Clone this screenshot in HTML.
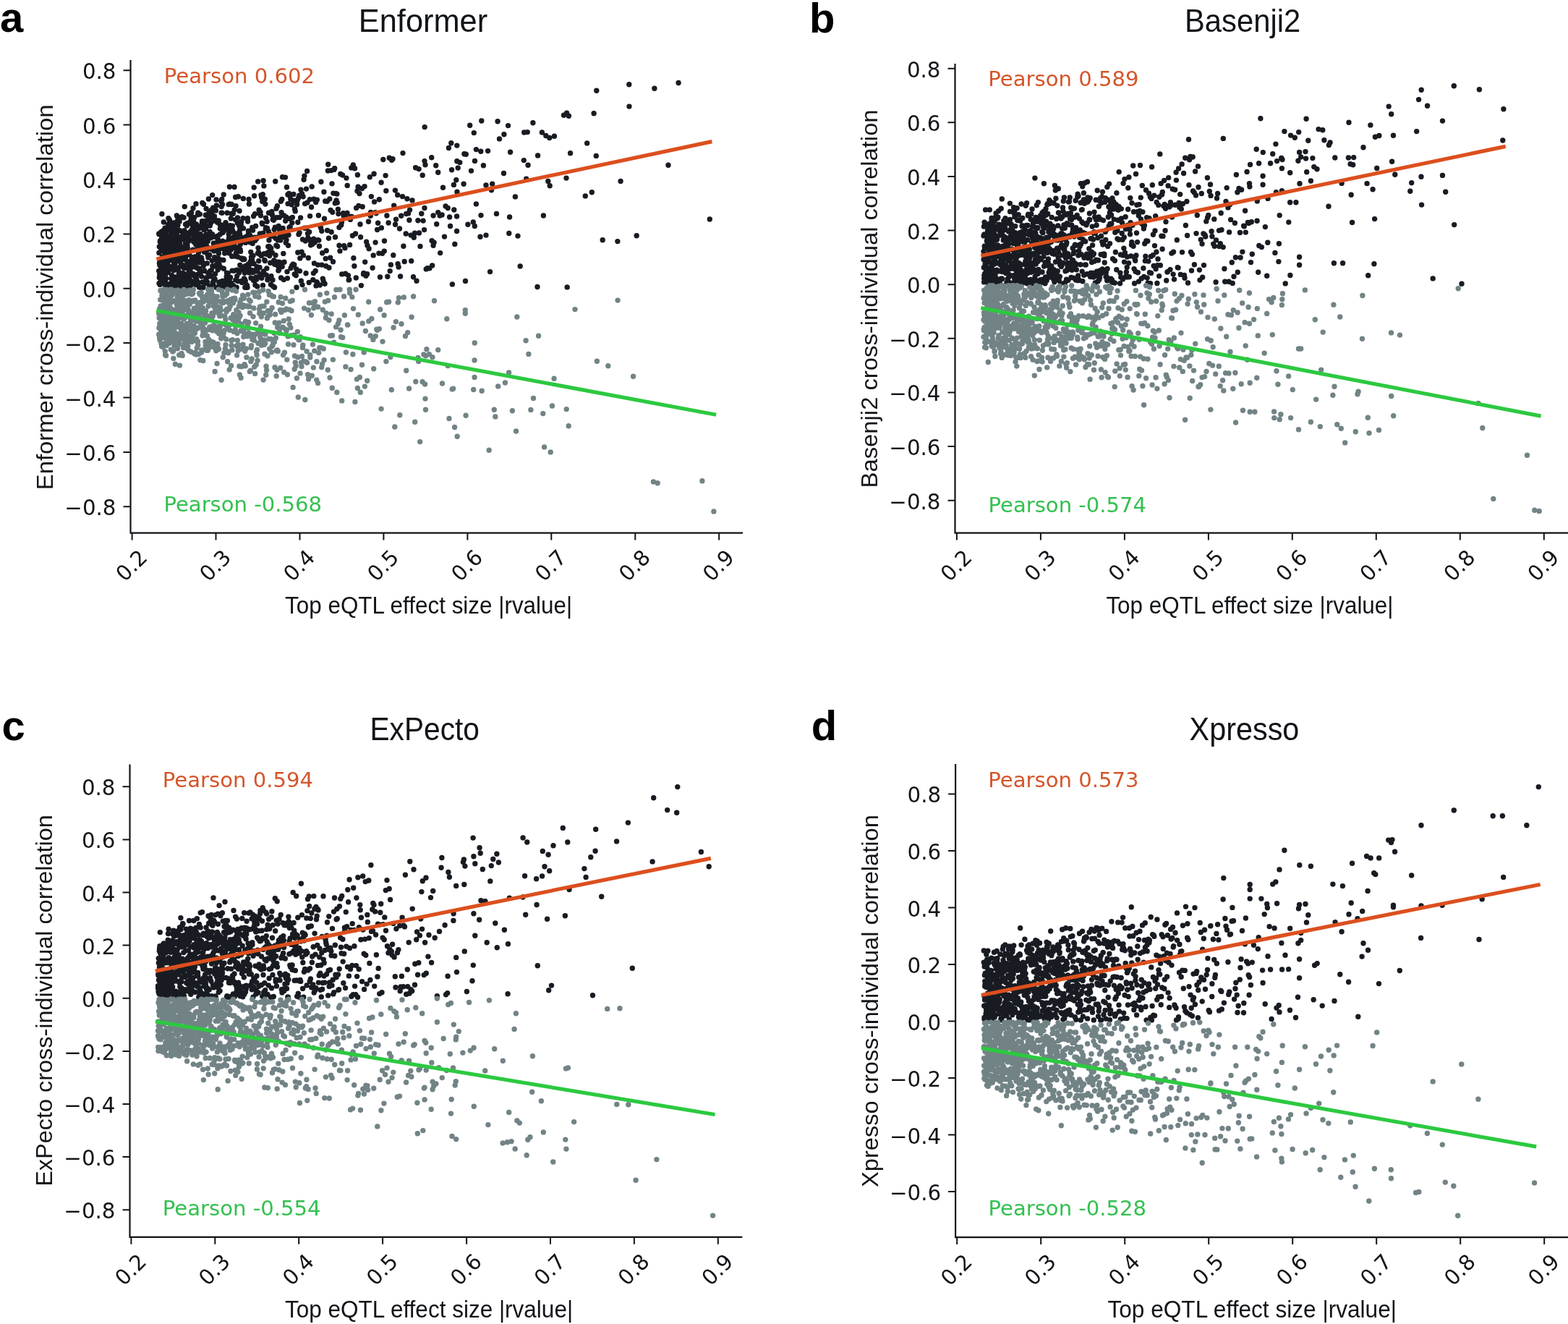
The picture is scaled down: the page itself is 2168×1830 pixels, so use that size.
<!DOCTYPE html><html><head><meta charset="utf-8"><title>eQTL cross-individual correlation</title><style>html,body{margin:0;padding:0;background:#fff;overflow:hidden}svg{display:block}.dv{font-family:"DejaVu Sans",sans-serif}.ls{font-family:"Liberation Sans",Arial,sans-serif}</style></head><body>
<svg width="2168" height="1830" viewBox="0 0 2168 1830">
<rect width="2168" height="1830" fill="#fff"/>
<g><path d="M340.1 374.0h0M281.7 374.4h0M228.9 384.1h0M581.0 340.4h0M284.3 297.3h0M315.8 343.9h0M589.2 371.9h0M232.1 337.1h0M368.9 370.9h0M262.4 386.5h0M502.8 377.4h0M315.5 317.1h0M299.8 337.9h0M364.1 249.8h0M294.2 390.4h0M231.5 334.4h0M441.5 340.2h0M240.0 353.6h0M239.8 318.4h0M414.8 356.9h0M223.3 360.2h0M408.4 379.0h0M521.6 317.5h0M230.9 369.9h0M481.5 380.6h0M450.2 357.4h0M328.9 355.1h0M395.3 335.6h0M477.6 378.3h0M241.1 347.7h0M362.8 278.4h0M498.0 310.0h0M283.0 392.0h0M271.0 338.3h0M284.5 315.9h0M313.5 377.2h0M254.9 396.6h0M298.4 290.9h0M256.8 351.8h0M275.8 331.2h0M337.6 385.0h0M326.1 284.8h0M539.2 374.6h0M331.6 323.5h0M385.6 373.1h0M541.6 221.2h0M369.6 315.5h0M250.3 364.4h0M303.8 358.8h0M534.9 298.0h0M498.6 327.7h0M409.7 372.0h0M449.7 278.0h0M375.0 381.8h0M258.9 338.4h0M306.2 285.6h0M257.1 354.5h0M338.6 386.4h0M291.1 397.2h0M255.8 322.3h0M400.0 314.4h0M292.7 298.9h0M386.0 362.2h0M378.3 304.3h0M269.8 315.3h0M274.1 390.9h0M335.2 369.5h0M455.8 274.9h0M273.5 296.7h0M364.9 256.9h0M265.8 332.1h0M243.3 323.0h0M282.8 314.1h0M439.8 331.6h0M325.6 272.5h0M247.4 375.9h0M250.5 367.0h0M389.6 368.1h0M254.0 348.6h0M254.1 300.7h0M251.8 320.6h0M246.6 335.5h0M274.4 335.9h0M288.4 275.0h0M236.8 313.5h0M321.0 374.1h0M299.6 365.5h0M221.8 392.6h0M324.4 354.0h0M227.3 334.6h0M309.6 319.0h0M249.2 386.8h0M243.0 355.9h0M326.8 328.8h0M303.1 365.2h0M236.7 392.7h0M387.2 366.1h0M356.7 250.9h0M229.0 323.6h0M277.6 314.9h0M326.3 349.9h0M268.6 300.6h0M431.2 257.9h0M297.5 327.4h0M416.0 262.3h0M238.7 397.2h0M226.8 368.2h0M312.3 396.5h0M500.7 260.5h0M384.3 331.9h0M425.9 328.7h0M316.2 323.4h0M244.3 323.5h0M272.4 370.3h0M233.2 360.5h0M327.7 381.6h0M317.0 333.3h0M288.3 304.0h0M409.3 380.8h0M294.7 287.1h0M561.8 295.5h0M426.3 356.5h0M251.9 388.5h0M314.3 333.9h0M570.0 276.9h0M229.9 384.9h0M396.5 258.7h0M285.2 338.9h0M263.3 369.0h0M248.7 318.7h0M287.9 355.9h0M284.6 315.1h0M231.9 363.0h0M274.1 334.3h0M388.6 384.0h0M249.1 378.1h0M527.4 314.9h0M289.5 395.4h0M460.9 267.1h0M270.1 354.6h0M272.6 334.5h0M225.5 355.9h0M238.9 346.0h0M229.6 345.7h0M375.4 326.0h0M438.4 276.1h0M232.9 301.8h0M228.6 316.2h0M337.0 334.1h0M262.6 306.6h0M239.5 307.9h0M220.4 363.7h0M235.4 368.8h0M270.8 393.5h0M587.2 175.6h0M308.9 359.5h0M261.5 296.3h0M302.8 339.0h0M546.6 310.3h0M352.9 393.9h0M359.0 369.6h0M348.8 314.4h0M296.3 305.0h0M236.0 308.8h0M280.5 341.3h0M403.2 282.8h0M358.8 351.2h0M402.6 317.6h0M408.2 291.9h0M302.7 390.3h0M231.8 332.8h0M228.5 333.7h0M458.2 320.8h0M221.6 332.8h0M382.5 300.8h0M293.3 360.2h0M400.8 271.0h0M262.2 368.8h0M291.6 307.9h0M320.2 282.5h0M353.6 312.4h0M517.6 278.9h0M249.4 329.8h0M449.1 392.3h0M576.0 388.2h0M509.5 306.3h0M453.4 236.0h0M413.7 270.3h0M220.9 374.8h0M374.7 342.9h0M286.8 304.5h0M329.4 271.8h0M520.1 294.8h0M280.8 326.3h0M231.6 345.7h0M233.6 354.8h0M330.5 376.9h0M421.6 281.6h0M461.9 234.4h0M322.6 394.7h0M328.5 300.9h0M307.7 388.4h0M377.0 386.9h0M487.4 325.8h0M543.0 219.8h0M540.4 365.9h0M246.3 371.8h0M236.2 371.3h0M241.6 370.1h0M222.6 321.0h0M245.4 299.5h0M335.3 328.7h0M466.3 280.1h0M224.9 342.1h0M465.9 268.1h0M436.7 279.6h0M556.5 271.6h0M257.9 397.2h0M236.4 397.1h0M357.0 342.8h0M247.8 379.2h0M288.9 343.3h0M419.1 271.8h0M546.4 263.1h0M273.6 393.2h0M239.2 348.8h0M379.2 317.3h0M265.2 309.9h0M229.4 319.6h0M346.8 348.5h0M344.0 275.5h0M252.7 349.4h0M237.4 390.3h0M429.6 338.8h0M313.0 388.8h0M460.5 361.8h0M382.9 362.2h0M564.5 294.9h0M232.4 392.6h0M243.2 345.3h0M286.3 363.9h0M351.0 364.5h0M317.4 282.0h0M365.3 350.7h0M280.3 363.2h0M276.0 345.7h0M226.3 307.0h0M373.9 324.6h0M282.5 348.3h0M240.4 394.4h0M224.0 365.6h0M304.1 324.0h0M455.0 370.0h0M366.3 275.3h0M381.2 329.6h0M275.8 373.5h0M252.9 366.6h0M522.6 308.3h0M279.8 280.5h0M407.2 379.0h0M328.8 388.5h0M506.0 381.2h0M331.4 318.6h0M314.1 294.2h0M287.5 343.7h0M504.7 362.1h0M406.3 277.2h0M242.3 328.7h0M529.8 220.5h0M365.8 359.4h0M325.7 387.1h0M259.6 379.9h0M348.7 359.8h0M329.9 343.6h0M380.4 314.1h0M327.8 348.2h0M271.6 385.0h0M277.9 327.6h0M373.1 323.7h0M238.0 327.6h0M295.3 336.3h0M510.1 343.8h0M317.4 258.2h0M263.0 375.3h0M219.7 374.4h0M582.8 295.3h0M301.1 330.3h0M305.4 369.6h0M240.8 315.4h0M239.0 389.5h0M222.1 368.0h0M245.7 309.3h0M265.3 319.4h0M279.5 305.8h0M362.2 308.1h0M339.1 367.6h0M248.1 306.2h0M351.9 328.2h0M318.2 311.7h0M495.9 284.5h0M268.8 359.0h0M349.2 336.6h0M302.0 335.0h0M457.9 235.6h0M270.4 323.9h0M285.8 340.1h0M561.2 323.0h0M410.0 397.2h0M332.4 337.8h0M254.9 318.8h0M244.6 383.6h0M428.6 298.6h0M221.2 393.4h0M266.4 330.4h0M325.4 303.6h0M281.5 282.2h0M368.6 351.2h0M436.2 374.4h0M243.7 340.1h0M472.7 378.9h0M263.6 319.9h0M269.6 363.4h0M260.0 380.0h0M252.6 394.9h0M265.7 316.6h0M305.2 395.1h0M313.8 396.7h0M228.1 335.2h0M571.5 382.7h0M341.9 370.4h0M224.6 324.5h0M245.1 350.1h0M242.8 390.5h0M310.1 344.4h0M230.6 335.7h0M256.1 352.8h0M383.4 284.7h0M220.3 341.0h0M397.4 384.6h0M322.9 327.8h0M248.3 339.0h0M289.3 378.0h0M248.7 344.0h0M301.6 336.6h0M475.1 298.0h0M367.3 315.9h0M325.0 322.4h0M222.8 373.5h0M286.5 389.8h0M219.7 323.4h0M544.7 284.1h0M285.1 288.4h0M404.4 300.4h0M357.5 348.7h0M291.1 291.8h0M275.3 371.2h0M317.9 384.9h0M268.3 367.4h0M273.3 323.8h0M277.1 340.6h0M330.8 312.6h0M333.7 356.9h0M221.0 390.7h0M339.9 374.8h0M550.1 364.7h0M258.6 328.9h0M275.0 315.7h0M392.7 297.9h0M378.0 326.5h0M394.5 245.1h0M339.5 335.4h0M279.1 340.7h0M366.9 282.1h0M252.2 377.8h0M489.9 367.8h0M244.0 358.9h0M254.3 370.5h0M219.9 349.4h0M349.9 353.4h0M260.2 380.1h0M573.5 322.2h0M253.1 322.1h0M246.4 397.2h0M401.1 313.5h0M222.0 374.0h0M226.7 375.4h0M434.0 275.2h0M314.6 342.2h0M265.5 355.5h0M235.1 396.8h0M282.1 317.8h0M344.1 367.3h0M332.6 347.4h0M417.5 267.6h0M322.3 295.3h0M267.9 368.3h0M230.1 397.2h0M306.7 275.4h0M253.7 367.2h0M341.6 395.5h0M221.3 334.3h0M249.7 395.9h0M355.3 368.8h0M373.2 346.2h0M227.8 349.9h0M379.7 365.3h0M223.6 340.1h0M304.8 389.4h0M235.0 396.8h0M237.5 380.6h0M452.3 278.3h0M261.2 374.1h0M438.7 390.8h0M235.3 332.2h0M333.3 310.9h0M457.1 290.5h0M280.7 336.3h0M337.3 357.7h0M396.0 331.7h0M456.7 356.3h0M219.8 322.9h0M488.3 227.9h0M386.7 318.1h0M397.0 375.6h0M326.5 332.7h0M308.0 321.6h0M439.6 366.1h0M333.0 373.1h0M392.3 386.6h0M294.4 300.9h0M549.7 269.4h0M323.1 397.2h0M398.5 339.2h0M278.3 355.9h0M220.3 383.8h0M405.9 268.4h0M433.7 330.1h0M231.1 349.1h0M301.1 373.0h0M363.5 394.4h0M361.8 384.2h0M304.4 316.1h0M234.9 358.3h0M225.1 340.2h0M347.9 373.4h0M233.3 349.0h0M248.4 336.5h0M359.4 323.0h0M376.5 297.2h0M525.5 383.0h0M257.0 309.9h0M329.1 330.4h0M390.5 244.8h0M239.4 318.8h0M368.3 380.3h0M227.4 337.3h0M328.2 308.3h0M246.8 317.6h0M486.3 299.4h0M238.6 341.7h0M235.6 347.8h0M243.5 371.7h0M331.8 366.5h0M253.3 384.2h0M314.8 344.3h0M259.0 322.3h0M411.8 349.0h0M519.1 335.1h0M255.1 354.3h0M290.0 298.7h0M309.3 371.2h0M527.1 252.3h0M263.5 388.7h0M471.8 310.9h0M418.0 393.6h0M234.4 303.9h0M291.5 328.7h0M224.3 355.0h0M377.6 395.8h0M283.2 306.8h0M228.1 315.2h0M299.4 283.9h0M319.1 345.2h0M327.4 373.2h0M257.6 345.5h0M250.7 328.1h0M228.3 394.1h0M566.6 290.3h0M257.7 395.4h0M345.0 365.6h0M286.0 297.6h0M223.5 344.2h0M425.5 322.7h0M319.3 302.0h0M336.0 301.7h0M232.2 359.5h0M358.3 295.1h0M312.7 391.5h0M224.1 380.7h0M506.7 334.2h0M244.2 372.4h0M236.6 336.0h0M245.0 305.6h0M237.4 308.6h0M253.5 331.1h0M360.0 293.1h0M397.9 269.0h0M237.1 334.2h0M229.7 316.3h0M263.9 308.7h0M477.0 342.8h0M251.4 358.4h0M267.0 300.3h0M482.2 386.9h0M341.4 394.2h0M586.6 317.6h0M440.8 332.1h0M290.3 312.1h0M462.7 232.7h0M255.8 342.0h0M437.8 389.6h0M494.4 241.8h0M293.8 367.8h0M354.2 372.4h0M223.3 357.6h0M445.0 366.1h0M234.7 369.9h0M414.1 321.6h0M227.7 356.0h0M250.7 352.5h0M513.4 271.6h0M395.6 300.0h0M223.9 295.8h0M295.1 288.5h0M269.3 367.3h0M232.7 343.9h0M231.1 351.5h0M324.9 331.4h0M300.7 345.6h0M394.7 305.2h0M269.4 335.4h0M424.6 236.5h0M289.7 352.5h0M342.1 397.2h0M434.5 363.9h0M554.7 298.2h0M226.1 347.3h0M423.5 261.1h0M345.6 325.1h0M261.4 384.3h0M469.0 339.3h0M273.8 294.3h0M258.7 308.8h0M463.5 327.8h0M451.2 346.5h0M286.5 344.9h0M437.0 394.9h0M270.0 386.9h0M343.6 322.2h0M574.6 231.8h0M480.0 294.5h0M334.2 370.6h0M313.3 382.2h0M310.7 350.0h0M241.9 365.3h0M323.9 338.9h0M230.2 361.4h0M374.4 393.2h0M220.0 391.7h0M543.8 352.7h0M478.0 301.0h0M233.9 371.4h0M287.6 377.1h0M268.2 381.0h0M257.4 323.0h0M421.2 315.3h0M320.7 354.2h0M299.1 397.2h0M344.5 282.0h0M284.0 308.8h0M240.0 373.7h0M245.8 358.6h0M266.8 378.4h0M568.7 360.8h0M232.7 376.2h0M528.6 350.2h0M299.0 275.9h0M274.5 349.3h0M523.9 350.1h0M321.4 312.2h0M298.1 304.3h0M403.6 367.3h0M579.5 322.0h0M372.0 332.0h0M222.9 331.2h0M470.0 346.9h0M336.3 274.4h0M266.0 323.5h0M497.0 267.5h0M319.6 391.4h0M381.9 339.3h0M333.6 306.7h0M291.9 381.3h0M264.2 300.1h0M342.4 301.7h0M304.0 310.3h0M311.7 311.6h0M230.8 358.1h0M400.4 302.2h0M412.4 273.9h0M443.5 314.7h0M351.6 270.8h0M323.4 374.3h0M223.7 356.7h0M248.9 349.6h0M246.1 382.9h0M398.1 281.6h0M568.1 325.1h0M324.2 290.1h0M308.7 397.0h0M334.8 390.6h0M405.2 365.2h0M349.5 376.5h0M565.9 304.3h0M263.2 397.2h0M282.0 330.1h0M420.9 243.1h0M432.8 386.7h0M531.5 333.0h0M552.5 316.0h0M251.1 392.9h0M360.5 297.9h0M275.2 362.9h0M296.9 339.4h0M281.0 397.2h0M241.4 325.6h0M407.5 288.9h0M452.6 318.5h0M276.4 296.1h0M344.6 376.9h0M381.0 352.8h0M255.6 370.3h0M478.9 246.1h0M316.2 282.6h0M312.1 307.8h0M288.0 295.4h0M370.1 349.2h0M271.4 309.9h0M361.3 353.4h0M401.8 275.2h0M349.6 318.3h0M230.4 346.9h0M266.3 331.8h0M305.6 392.7h0M467.9 295.5h0M472.4 307.3h0M377.2 303.5h0M290.1 320.4h0M293.1 289.8h0M238.1 322.3h0M281.3 367.5h0M277.4 376.2h0M238.2 348.2h0M535.8 382.3h0M233.5 317.7h0M320.6 341.7h0M378.8 359.9h0M446.3 385.1h0M232.5 310.4h0M227.9 325.0h0M272.0 379.7h0M254.7 323.6h0M355.8 395.9h0M367.5 301.2h0M252.1 342.0h0M258.2 311.9h0M220.7 379.5h0M386.4 300.4h0M579.1 233.6h0M382.0 288.2h0M423.9 315.2h0M310.3 390.6h0M304.6 343.8h0M247.7 338.9h0M226.5 329.2h0M370.8 340.7h0M287.1 351.9h0M332.1 344.7h0M222.7 344.3h0M480.2 256.4h0M262.0 349.2h0M345.2 374.1h0M221.7 367.8h0M369.2 306.2h0M234.6 326.0h0M422.3 333.1h0M246.9 327.5h0M358.1 290.1h0M507.6 378.8h0M319.9 320.0h0M272.8 354.7h0M221.2 360.7h0M389.1 293.6h0M305.9 278.4h0M227.1 382.4h0M465.1 277.0h0M335.6 358.7h0M254.5 378.1h0M333.9 389.7h0M354.0 383.0h0M492.3 384.0h0M366.4 360.6h0M251.1 300.6h0M347.0 384.3h0M226.9 334.3h0M372.4 340.8h0M454.5 329.3h0M475.7 339.7h0M287.2 333.5h0M431.1 331.4h0M260.4 325.8h0M502.5 378.9h0M242.6 331.5h0M562.9 274.7h0M420.1 248.2h0M492.6 287.4h0M256.7 359.1h0M447.1 388.1h0M361.7 273.0h0M354.8 385.9h0M339.3 388.4h0M384.9 374.0h0M279.0 358.9h0M276.7 323.5h0M228.7 360.5h0M277.7 337.1h0M459.7 293.3h0M225.4 387.7h0M301.3 356.4h0M387.9 332.0h0M391.2 315.5h0M431.9 337.5h0M300.1 326.4h0M512.6 293.4h0M511.3 244.8h0M352.7 332.4h0M399.0 324.8h0M444.8 319.2h0M238.3 360.1h0M285.5 323.9h0M343.0 365.4h0M300.3 367.4h0M263.8 360.5h0M278.4 338.9h0M256.5 310.1h0M384.2 367.5h0M225.6 344.7h0M241.0 353.8h0M220.8 366.2h0M307.5 282.4h0M336.9 332.7h0M247.2 388.4h0M350.6 298.8h0M585.1 305.1h0M244.4 297.9h0M405.1 365.3h0M389.8 275.4h0M363.8 322.3h0M353.2 374.9h0M271.0 281.8h0M443.9 251.3h0M222.4 364.6h0M272.6 344.8h0M435.2 335.0h0M387.4 326.9h0M273.0 389.2h0M364.4 375.0h0M367.7 314.6h0M229.9 333.8h0M283.6 305.5h0M360.2 382.1h0M338.8 397.2h0M515.1 370.3h0M251.2 345.9h0M233.7 372.1h0M373.7 363.2h0M300.5 307.2h0M255.3 285.6h0M317.9 393.4h0M336.5 315.6h0M430.6 286.2h0M402.0 370.6h0M242.9 383.0h0M281.9 335.3h0M283.8 310.5h0M253.3 355.8h0M227.2 317.4h0M474.6 294.6h0M267.8 334.2h0M485.0 299.4h0M365.2 377.9h0M241.3 308.6h0M264.1 304.4h0M292.3 373.6h0M343.4 319.2h0M321.6 318.5h0M245.5 360.5h0M577.9 304.7h0M340.8 397.2h0M419.5 352.9h0M318.6 383.4h0M279.3 308.7h0M233.0 339.6h0M369.9 386.8h0M346.4 364.1h0M321.3 330.5h0M239.7 337.0h0M371.2 319.8h0M584.2 242.2h0M267.0 287.7h0M547.6 303.3h0M244.9 360.9h0M323.6 342.9h0M442.3 394.0h0M427.2 390.5h0M342.6 306.0h0M292.9 293.5h0M329.7 373.9h0M290.5 382.1h0M225.2 333.4h0M538.3 218.2h0M267.5 392.4h0M331.1 291.5h0M259.1 362.9h0M269.0 390.6h0M448.5 302.3h0M327.1 397.2h0M302.2 304.9h0M499.4 394.6h0M533.8 263.7h0M230.6 318.9h0M393.8 323.7h0M359.8 379.3h0M375.8 292.5h0M306.1 294.1h0M315.3 388.1h0M234.2 308.2h0M256.2 337.0h0M303.5 333.6h0M337.9 358.6h0M256.3 386.0h0M302.4 350.2h0M222.2 324.7h0M352.0 388.1h0M467.4 289.3h0M266.7 345.2h0M447.9 265.3h0M275.5 397.0h0M296.0 346.9h0M315.2 377.7h0M347.3 359.4h0M293.7 269.6h0M297.6 378.6h0M271.3 357.4h0M453.7 227.3h0M264.6 293.6h0M261.9 389.9h0M238.5 385.4h0M484.4 303.4h0M225.7 354.9h0M295.5 388.0h0M226.1 332.3h0M470.8 240.5h0M303.2 391.0h0M491.6 323.0h0M428.4 275.6h0M355.4 328.3h0M351.2 259.1h0M372.7 353.6h0M363.3 268.8h0M416.3 388.2h0M557.0 211.6h0M553.6 382.0h0M347.5 355.3h0M427.7 320.6h0M433.4 377.6h0M320.0 295.3h0M316.5 328.9h0M469.0 314.3h0M258.4 384.2h0M297.1 385.6h0M295.8 339.0h0M385.2 312.4h0M224.6 319.4h0M357.7 360.7h0M225.8 331.0h0M264.5 369.5h0M318.9 397.1h0M379.6 397.2h0M361.0 269.8h0M267.2 368.7h0M442.6 311.7h0M345.9 362.2h0M324.1 258.5h0M260.8 331.6h0M459.0 253.9h0M234.0 356.0h0M236.3 319.8h0M235.8 346.1h0M393.9 328.1h0M310.6 310.3h0M282.7 374.3h0M308.4 391.9h0M251.6 299.8h0M296.7 355.7h0M411.8 307.2h0M488.9 356.7h0M253.9 329.6h0M241.7 359.1h0M414.5 374.6h0M411.1 277.2h0M531.3 347.1h0M240.5 365.0h0M425.0 280.0h0M264.8 367.5h0M234.2 328.9h0M296.5 299.0h0M276.2 356.5h0M260.5 328.8h0M309.2 269.0h0M450.7 367.7h0M298.7 335.7h0M252.5 325.9h0M463.3 280.7h0M267.6 305.1h0M512.3 298.3h0M249.5 368.1h0M262.8 321.4h0M508.0 339.2h0M501.2 285.7h0M298.6 359.1h0M391.4 363.0h0M406.8 365.9h0M312.0 388.0h0M242.5 389.1h0M380.7 250.8h0M350.4 387.5h0M524.3 275.7h0M229.1 391.4h0M338.3 377.3h0M249.9 368.0h0M237.7 328.6h0M311.5 342.1h0M518.9 293.7h0M413.0 323.9h0M272.2 337.2h0M371.5 294.2h0M235.7 343.7h0M240.2 321.1h0M418.5 330.9h0M390.2 368.5h0M291.9 292.2h0M346.1 334.9h0M240.6 352.5h0M261.1 367.6h0M348.3 317.5h0M268.9 331.1h0M247.1 360.1h0M330.2 341.6h0M557.9 340.3h0M307.2 391.8h0M485.8 231.9h0M340.6 370.1h0M223.1 370.9h0M278.1 325.3h0M415.6 300.9h0M334.6 388.1h0M362.7 309.4h0M313.2 383.5h0M259.9 330.5h0M288.7 327.0h0M270.5 327.7h0M260.7 333.2h0M297.9 338.7h0M354.7 330.0h0M504.1 257.6h0M306.6 397.2h0M393.0 362.3h0M289.1 377.1h0M242.0 336.0h0M231.3 327.6h0M292.5 344.8h0M464.5 267.5h0M572.3 328.3h0M551.1 369.0h0M440.4 297.7h0M279.8 389.9h0M483.6 338.4h0M224.8 369.5h0M316.9 349.9h0M250.0 354.2h0M277.1 312.8h0M244.7 370.2h0M226.4 339.9h0M224.4 376.7h0M482.9 386.6h0M356.0 375.1h0M423.0 377.8h0M293.5 323.7h0M537.1 308.0h0M290.7 374.5h0M429.4 333.3h0M445.7 349.8h0M559.2 361.5h0M261.7 347.9h0M284.8 385.0h0M399.5 267.4h0M285.5 383.8h0M322.0 331.6h0M311.0 348.7h0M280.0 339.3h0M417.1 348.3h0M309.7 314.5h0M388.3 278.2h0M259.3 342.4h0M494.0 264.0h0M517.1 240.2h0M370.5 383.6h0M276.7 397.2h0M278.7 382.1h0M247.9 395.5h0M410.6 282.6h0M376.3 349.3h0M257.8 390.3h0M243.9 339.8h0M516.2 352.9h0M356.4 350.1h0M242.2 319.3h0M311.3 310.2h0M246.0 311.1h0M391.8 350.4h0M473.6 242.0h0M259.7 352.2h0M229.2 378.4h0M340.4 327.0h0M274.7 357.9h0M250.1 383.9h0M403.8 307.9h0M490.5 232.8h0M247.4 377.2h0M383.7 340.5h0M265.0 378.2h0M271.9 321.7h0M307.9 333.2h0M306.9 294.2h0M237.0 385.2h0M533.1 242.6h0M352.5 295.6h0M222.3 373.8h0M294.7 392.8h0M283.4 326.7h0M495.1 258.3h0M295.8 368.0h0M938.1 114.5h0M869.8 116.7h0M904.9 122.2h0M824.8 125.2h0M870.0 147.1h0M821.1 156.7h0M779.5 159.3h0M783.6 156.3h0M786.4 160.3h0M665.8 167.0h0M688.1 167.8h0M649.7 173.2h0M702.6 173.6h0M736.9 169.8h0M655.3 183.6h0M696.9 185.7h0M690.5 191.9h0M724.7 183.0h0M729.3 182.6h0M749.4 183.0h0M754.8 187.5h0M759.8 190.5h0M766.5 188.3h0M811.7 197.9h0M623.8 197.7h0M631.8 201.1h0M620.4 204.5h0M658.4 206.6h0M664.8 209.2h0M674.6 208.6h0M705.6 210.2h0M641.9 212.8h0M644.3 213.2h0M788.6 211.8h0M743.6 215.0h0M824.3 215.4h0M587.0 222.6h0M588.0 227.7h0M596.7 217.8h0M602.7 228.7h0M605.7 238.3h0M631.8 222.8h0M635.8 224.6h0M656.5 222.4h0M668.4 228.7h0M724.3 221.6h0M730.1 228.3h0M924.0 228.3h0M624.6 234.7h0M633.2 232.1h0M651.5 236.1h0M696.5 239.5h0M630.8 248.8h0M627.4 255.4h0M641.1 254.2h0M612.5 259.2h0M672.0 256.0h0M680.7 254.2h0M679.5 262.8h0M727.7 247.2h0M757.8 250.4h0M760.2 256.8h0M783.0 246.1h0M858.1 250.4h0M632.0 265.2h0M712.4 271.9h0M809.3 270.9h0M818.3 265.8h0M658.4 281.9h0M587.0 287.5h0M616.1 284.9h0M619.2 287.5h0M627.8 290.0h0M605.7 293.6h0M608.1 298.0h0M611.1 297.0h0M599.1 298.0h0M621.6 300.0h0M631.6 299.0h0M665.0 297.6h0M686.5 295.4h0M704.6 300.0h0M751.4 298.0h0M981.3 303.0h0M603.7 309.7h0M622.6 312.5h0M646.9 310.3h0M654.3 307.0h0M656.3 312.5h0M631.6 319.5h0M614.5 327.1h0M664.0 327.3h0M672.0 325.1h0M703.8 322.5h0M716.0 326.1h0M833.2 331.8h0M853.9 333.6h0M880.2 325.7h0M597.1 332.8h0M600.1 335.2h0M599.1 339.2h0M628.8 337.4h0M608.7 349.6h0M591.0 370.7h0M594.0 370.7h0M597.7 366.9h0M677.6 375.6h0M719.2 367.9h0M625.4 392.9h0M643.5 388.4h0M743.0 396.5h0M784.2 396.9h0" stroke="#181c22" stroke-width="7.4" stroke-linecap="round" fill="none"/><path d="M361.4 437.8h0M302.5 482.5h0M340.4 482.0h0M369.4 439.8h0M235.4 428.5h0M220.6 466.1h0M255.6 451.5h0M236.6 418.1h0M480.9 449.1h0M273.5 471.9h0M302.2 400.3h0M299.2 428.5h0M229.6 491.5h0M259.0 471.3h0M329.2 476.5h0M300.3 409.9h0M475.6 409.8h0M259.2 435.8h0M373.4 435.1h0M370.3 429.4h0M242.9 404.8h0M295.0 473.3h0M301.5 424.6h0M223.3 460.0h0M262.1 401.2h0M269.7 415.0h0M373.8 429.6h0M246.9 447.4h0M272.0 453.9h0M265.3 437.1h0M381.4 467.2h0M229.1 442.0h0M407.4 492.0h0M453.7 415.4h0M285.7 484.0h0M240.9 457.4h0M234.7 412.0h0M235.6 434.4h0M283.1 457.5h0M226.9 400.3h0M295.7 449.1h0M257.1 453.7h0M467.4 447.5h0M280.2 417.6h0M402.3 463.7h0M271.7 443.5h0M275.6 428.0h0M285.1 435.9h0M343.4 453.0h0M525.7 427.8h0M295.6 412.9h0M234.5 421.4h0M313.8 427.1h0M473.7 466.5h0M383.4 484.0h0M512.2 463.9h0M248.7 468.9h0M289.3 417.9h0M291.6 416.5h0M247.3 475.8h0M561.7 512.3h0M257.6 476.1h0M333.1 522.3h0M418.8 476.9h0M223.6 478.7h0M228.7 459.0h0M277.3 421.2h0M455.0 442.4h0M237.6 403.2h0M319.2 439.5h0M254.0 428.6h0M359.8 466.2h0M246.0 461.7h0M292.2 400.3h0M459.5 463.8h0M439.7 424.3h0M239.0 462.1h0M253.6 479.1h0M264.1 486.2h0M240.6 471.3h0M329.7 443.9h0M544.1 452.7h0M269.7 442.7h0M239.9 431.7h0M219.9 432.2h0M393.5 487.2h0M254.4 440.8h0M283.3 410.4h0M259.8 478.6h0M221.2 470.3h0M380.0 507.8h0M272.2 481.1h0M313.1 430.7h0M266.4 453.6h0M272.6 424.7h0M493.4 524.1h0M366.9 462.1h0M464.6 451.9h0M519.3 464.6h0M224.9 466.2h0M301.0 475.4h0M354.5 486.1h0M362.4 423.2h0M273.1 473.0h0M545.8 590.0h0M286.1 456.2h0M266.6 468.7h0M259.6 464.8h0M321.5 469.8h0M374.9 468.6h0M320.9 483.9h0M225.6 447.6h0M338.8 483.5h0M439.6 529.6h0M284.8 412.1h0M350.7 466.5h0M310.9 437.3h0M323.0 458.3h0M356.9 474.5h0M242.3 503.3h0M276.9 497.6h0M258.1 458.9h0M330.9 506.2h0M226.0 422.7h0M239.4 442.7h0M309.0 465.8h0M472.7 553.9h0M431.3 519.3h0M313.7 405.9h0M289.1 480.8h0M406.1 463.3h0M415.3 465.8h0M287.8 400.3h0M276.2 452.3h0M392.7 514.5h0M231.0 432.7h0M288.5 400.6h0M245.5 481.7h0M461.7 473.3h0M323.6 400.3h0M221.4 446.7h0M400.3 427.9h0M243.3 439.6h0M334.0 448.0h0M451.2 433.0h0M222.0 401.4h0M560.5 464.5h0M261.4 452.6h0M296.5 450.5h0M359.5 423.9h0M371.6 468.5h0M260.8 484.5h0M494.4 536.5h0M382.2 519.8h0M253.7 407.4h0M263.1 453.7h0M337.3 412.2h0M252.5 421.0h0M336.8 465.5h0M547.4 444.6h0M258.4 453.0h0M251.8 417.8h0M261.1 414.7h0M246.4 414.1h0M233.4 468.5h0M364.2 432.8h0M241.8 465.1h0M292.6 402.5h0M346.2 416.2h0M305.8 460.4h0M449.3 417.1h0M236.8 417.3h0M227.2 431.3h0M282.8 435.0h0M252.8 434.8h0M238.3 435.4h0M485.1 510.6h0M233.7 443.5h0M348.2 495.9h0M350.9 425.9h0M278.1 445.8h0M290.9 451.6h0M270.9 469.4h0M231.1 450.8h0M578.0 494.5h0M325.1 414.1h0M335.3 424.7h0M356.1 498.3h0M235.2 453.2h0M258.8 406.2h0M409.2 505.8h0M231.5 411.2h0M263.3 444.4h0M223.5 432.3h0M527.1 565.1h0M422.6 500.0h0M424.1 485.6h0M250.1 424.0h0M471.5 465.8h0M321.2 401.1h0M376.0 478.7h0M531.1 435.8h0M322.5 418.8h0M403.9 403.1h0M260.5 435.5h0M221.7 414.2h0M227.9 463.3h0M304.6 416.8h0M442.4 407.2h0M309.3 460.1h0M239.8 495.4h0M224.2 414.8h0M260.7 470.1h0M395.8 427.0h0M329.2 484.8h0M431.9 418.6h0M294.5 408.4h0M267.0 470.2h0M329.9 431.8h0M497.4 521.5h0M251.7 467.9h0M261.3 484.7h0M236.3 426.4h0M462.5 410.7h0M232.3 415.1h0M284.6 429.8h0M345.6 432.8h0M401.9 452.9h0M464.9 400.4h0M363.6 400.7h0M259.4 429.0h0M297.1 513.5h0M550.3 417.9h0M266.2 415.7h0M233.9 448.9h0M279.3 450.0h0M240.4 470.4h0M248.3 437.2h0M298.4 415.7h0M287.3 415.5h0M410.4 522.7h0M278.4 442.8h0M319.6 505.4h0M372.7 482.1h0M238.5 450.5h0M361.4 477.3h0M420.6 426.1h0M232.9 470.4h0M249.2 466.5h0M220.2 439.5h0M356.6 456.6h0M325.3 455.8h0M261.5 464.5h0M226.4 400.3h0M236.2 483.1h0M274.2 453.3h0M358.3 403.2h0M270.3 427.1h0M316.6 427.2h0M271.2 490.1h0M251.0 488.5h0M263.7 471.4h0M401.2 416.6h0M346.4 512.2h0M240.1 415.8h0M411.9 493.7h0M254.1 400.3h0M219.9 453.3h0M279.0 452.3h0M333.4 413.9h0M280.8 498.5h0M224.5 406.3h0M541.3 538.7h0M281.5 440.3h0M392.3 443.4h0M237.5 408.3h0M293.7 456.7h0M222.1 435.4h0M222.7 445.2h0M232.4 421.0h0M264.4 465.4h0M248.9 416.3h0M407.2 510.2h0M223.1 450.5h0M388.1 410.4h0M221.1 426.0h0M342.0 464.8h0M234.8 438.4h0M304.2 451.3h0M221.0 450.3h0M269.2 438.3h0M227.4 415.8h0M509.7 417.3h0M245.2 464.4h0M222.1 402.0h0M288.7 469.2h0M282.0 415.3h0M287.0 409.1h0M476.4 435.7h0M230.5 400.4h0M288.1 423.3h0M249.8 408.1h0M355.5 483.4h0M322.7 434.7h0M256.4 438.4h0M283.5 446.2h0M287.4 484.2h0M328.6 476.9h0M364.1 525.1h0M252.3 422.0h0M490.9 555.4h0M230.3 477.5h0M529.0 472.1h0M234.1 474.2h0M279.6 410.2h0M241.1 464.4h0M403.0 429.5h0M274.8 489.6h0M235.9 400.3h0M224.4 457.2h0M229.7 438.1h0M563.7 459.6h0M311.9 441.8h0M386.5 458.7h0M480.5 449.0h0M288.3 441.7h0M284.1 457.7h0M290.1 437.2h0M270.4 487.2h0M243.2 439.6h0M286.3 464.3h0M225.4 446.8h0M223.0 475.0h0M300.7 478.0h0M280.0 463.8h0M312.0 476.6h0M227.6 455.9h0M300.1 502.5h0M307.2 464.2h0M380.2 446.0h0M251.6 436.9h0M334.7 482.0h0M317.8 417.3h0M335.1 421.4h0M507.7 526.3h0M318.7 420.4h0M237.2 441.8h0M411.3 458.4h0M330.3 423.5h0M226.8 475.1h0M322.2 412.7h0M367.7 518.3h0M276.5 445.3h0M362.2 460.9h0M414.1 469.8h0M246.6 446.7h0M237.8 468.3h0M264.9 450.0h0M456.1 522.0h0M332.9 457.3h0M437.9 499.7h0M450.4 439.3h0M370.9 436.6h0M274.6 418.5h0M387.7 508.4h0M249.1 428.7h0M440.7 487.6h0M281.7 454.1h0M253.3 418.4h0M268.9 451.7h0M246.1 400.9h0M378.9 460.3h0M229.3 421.5h0M298.8 484.7h0M277.5 446.6h0M386.1 460.3h0M295.3 423.1h0M539.9 493.6h0M385.8 446.1h0M232.7 416.5h0M504.4 534.1h0M589.9 482.7h0M308.8 416.0h0M247.0 437.1h0M255.3 457.8h0M338.7 485.2h0M377.0 477.5h0M294.1 452.9h0M332.5 482.6h0M421.8 552.5h0M237.0 400.3h0M254.8 474.6h0M471.1 456.0h0M585.9 489.9h0M242.1 443.3h0M270.6 438.9h0M262.8 435.9h0M396.8 497.1h0M396.1 457.2h0M339.2 505.9h0M276.8 407.2h0M307.6 405.4h0M385.2 417.7h0M227.5 421.5h0M244.2 438.8h0M384.3 485.4h0M285.4 481.8h0M552.8 573.7h0M382.1 484.8h0M241.3 447.4h0M453.3 511.3h0M243.4 471.8h0M238.1 469.8h0M343.6 445.5h0M477.9 506.9h0M248.5 505.1h0M228.5 452.3h0M240.5 447.5h0M332.1 436.1h0M551.5 411.6h0M306.4 436.1h0M235.3 472.9h0M226.1 407.0h0M311.4 482.0h0M372.4 407.4h0M242.2 401.8h0M326.9 478.1h0M307.1 418.2h0M376.8 409.6h0M243.5 442.4h0M298.3 451.6h0M260.1 422.0h0M282.6 442.1h0M289.6 452.3h0M241.5 416.2h0M268.2 426.2h0M299.8 458.2h0M291.4 405.9h0M391.5 490.7h0M239.6 485.2h0M289.8 478.4h0M351.7 507.0h0M240.2 441.8h0M580.7 610.6h0M324.7 412.2h0M292.0 406.8h0M325.5 449.6h0M326.8 428.6h0M225.8 445.5h0M255.5 403.1h0M280.7 458.3h0M505.4 457.5h0M555.0 447.8h0M584.1 527.7h0M317.2 510.9h0M321.8 442.0h0M310.7 416.9h0M257.3 416.6h0M278.9 483.9h0M379.3 473.0h0M357.8 410.8h0M352.1 404.5h0M242.5 448.1h0M323.9 436.1h0M317.6 456.2h0M247.5 424.9h0M263.5 440.9h0M280.5 425.6h0M362.9 475.2h0M220.8 468.4h0M230.8 444.6h0M228.3 485.6h0M220.8 447.1h0M324.4 443.9h0M509.8 443.9h0M272.9 437.4h0M228.6 490.4h0M277.2 422.4h0M524.4 454.6h0M323.3 400.3h0M415.0 515.9h0M256.6 453.7h0M417.6 492.5h0M255.0 451.0h0M257.7 426.7h0M537.6 417.2h0M399.2 440.9h0M350.1 437.6h0M391.0 452.1h0M347.5 477.8h0M265.7 431.5h0M219.7 462.2h0M250.5 466.0h0M315.3 452.2h0M243.8 451.9h0M588.5 566.3h0M284.4 482.6h0M231.3 469.5h0M231.8 427.3h0M278.2 404.5h0M483.6 405.1h0M398.2 464.9h0M286.6 407.3h0M231.7 453.4h0M318.8 414.0h0M234.4 465.0h0M465.8 542.2h0M262.2 420.5h0M365.6 476.2h0M459.3 536.2h0M258.0 447.5h0M247.3 473.7h0M347.2 480.5h0M309.7 447.7h0M305.1 416.9h0M435.4 416.7h0M301.7 451.8h0M483.3 400.3h0M500.5 504.2h0M245.5 471.9h0M336.0 476.3h0M262.6 432.2h0M311.3 408.2h0M225.9 444.2h0M288.9 475.5h0M273.2 419.4h0M293.2 472.4h0M417.0 506.5h0M521.6 456.2h0M244.9 422.0h0M325.9 443.7h0M451.8 405.1h0M390.1 452.6h0M227.9 432.9h0M394.8 412.3h0M299.3 454.5h0M235.9 462.4h0M337.7 460.4h0M234.2 451.8h0M578.7 499.5h0M342.6 423.7h0M238.0 405.8h0M495.3 435.0h0M426.6 523.9h0M375.3 486.7h0M340.9 493.9h0M252.2 491.4h0M283.9 472.4h0M232.0 409.5h0M296.3 421.0h0M259.9 472.0h0M226.7 424.9h0M349.9 404.1h0M314.3 400.3h0M342.9 407.1h0M274.4 444.6h0M306.6 401.7h0M297.7 427.9h0M340.1 423.1h0M353.7 446.6h0M239.3 431.7h0M271.0 434.1h0M260.3 428.2h0M368.8 417.1h0M306.1 525.3h0M314.6 499.8h0M308.6 418.6h0M366.8 474.6h0M498.3 542.3h0M273.7 477.2h0M293.5 413.3h0M366.0 489.2h0M250.3 428.7h0M226.5 475.3h0M318.2 423.4h0M250.9 422.9h0M291.1 441.3h0M296.8 431.7h0M263.4 433.3h0M433.7 425.7h0M304.6 425.3h0M281.0 453.4h0M352.8 409.6h0M255.2 461.6h0M264.4 434.4h0M269.0 488.9h0M230.0 432.9h0M358.6 427.4h0M268.6 453.7h0M352.6 516.4h0M316.0 418.3h0M275.3 438.0h0M232.1 456.6h0M271.4 454.9h0M221.7 452.4h0M389.0 431.4h0M360.5 451.2h0M294.7 451.2h0M565.6 537.0h0M228.4 434.0h0M268.6 442.4h0M228.9 467.8h0M327.3 438.0h0M327.9 460.8h0M326.5 402.6h0M233.2 412.9h0M229.1 440.6h0M297.3 423.0h0M228.0 413.0h0M338.1 503.8h0M406.0 476.7h0M331.8 418.1h0M292.8 432.9h0M305.2 428.9h0M239.2 471.6h0M247.9 462.4h0M230.4 428.2h0M447.3 482.0h0M232.9 471.0h0M458.2 433.9h0M229.5 433.3h0M468.9 442.8h0M348.5 466.2h0M390.5 419.2h0M247.9 433.1h0M275.5 405.4h0M341.2 453.1h0M383.7 452.4h0M222.6 454.3h0M571.6 409.7h0M425.6 517.8h0M316.4 485.9h0M569.1 438.3h0M267.6 416.2h0M573.7 583.2h0M492.0 400.3h0M389.5 428.6h0M245.1 410.0h0M327.6 490.9h0M320.1 477.5h0M341.6 422.6h0M223.8 461.3h0M400.3 448.1h0M241.1 477.9h0M360.8 471.4h0M292.4 440.7h0M261.7 437.0h0M244.3 420.4h0M268.2 450.1h0M434.8 484.9h0M387.5 428.4h0M222.5 458.1h0M231.5 460.3h0M262.4 456.3h0M221.5 427.7h0M410.1 466.5h0M371.1 402.4h0M345.0 423.7h0M256.4 420.3h0M230.1 412.0h0M250.6 446.9h0M365.1 423.1h0M303.9 436.9h0M416.4 501.3h0M344.1 460.3h0M284.2 478.0h0M312.7 468.9h0M404.3 415.2h0M219.7 433.0h0M342.3 448.1h0M319.9 470.4h0M222.8 438.4h0M233.5 448.6h0M353.3 462.0h0M264.8 406.9h0M309.9 487.7h0M233.3 474.2h0M503.2 487.0h0M265.1 472.5h0M307.9 409.5h0M428.8 494.1h0M331.4 518.0h0M328.3 470.5h0M238.9 402.7h0M308.3 493.8h0M266.7 405.5h0M278.6 487.0h0M226.3 443.5h0M249.5 418.2h0M345.3 513.5h0M242.7 466.9h0M427.5 418.7h0M249.5 460.6h0M225.4 412.6h0M276.2 422.7h0M448.1 497.8h0M501.2 446.9h0M335.6 408.1h0M558.4 410.9h0M264.0 454.0h0M225.1 479.8h0M432.4 476.1h0M258.5 481.7h0M261.9 466.2h0M320.3 415.0h0M222.3 422.9h0M534.7 417.7h0M286.9 407.9h0M426.4 428.5h0M248.1 451.2h0M317.0 449.3h0M413.0 469.7h0M487.9 489.7h0M574.8 527.5h0M368.6 511.8h0M424.5 501.3h0M246.2 427.2h0M220.0 434.2h0M445.5 503.1h0M244.1 405.2h0M256.0 469.8h0M290.5 455.6h0M346.9 499.4h0M241.8 428.1h0M296.0 480.1h0M421.5 400.3h0M334.1 506.7h0M230.7 404.0h0M405.1 535.4h0M275.0 421.4h0M265.9 459.0h0M376.1 425.4h0M275.9 433.5h0M232.5 429.0h0M303.2 435.5h0M446.3 428.2h0M247.7 490.7h0M246.7 431.7h0M225.2 422.3h0M348.9 469.2h0M256.8 464.1h0M253.5 480.5h0M223.4 461.3h0M299.7 477.5h0M242.8 469.7h0M250.0 454.6h0M238.6 469.0h0M285.6 484.2h0M520.8 455.3h0M270.0 429.1h0M237.8 446.4h0M301.3 423.9h0M273.9 432.8h0M229.8 430.1h0M297.9 418.9h0M279.7 415.6h0M241.7 433.1h0M488.5 426.6h0M313.1 449.7h0M408.3 501.0h0M330.8 438.6h0M312.3 428.9h0M224.3 435.8h0M397.4 517.8h0M355.1 490.8h0M255.7 438.2h0M244.5 436.3h0M252.9 404.6h0M315.1 415.6h0M267.7 468.6h0M227.2 450.5h0M374.4 407.7h0M428.8 490.6h0M515.9 469.4h0M252.0 422.0h0M357.2 459.5h0M412.3 549.0h0M344.5 414.6h0M236.6 439.8h0M303.1 432.7h0M470.0 400.3h0M460.4 497.1h0M456.7 464.0h0M305.7 467.8h0M223.9 408.5h0M378.4 409.9h0M398.5 475.7h0M302.6 461.1h0M257.9 402.2h0M349.4 462.2h0M377.8 473.1h0M478.4 486.9h0M441.7 480.8h0M224.7 409.1h0M368.0 506.3h0M254.6 407.6h0M281.3 417.1h0M337.4 454.2h0M256.1 468.8h0M444.7 507.6h0M220.5 427.5h0M418.5 480.6h0M253.0 428.3h0M254.3 415.0h0M310.4 456.7h0M235.0 401.5h0M265.5 416.8h0M364.9 470.0h0M244.7 437.0h0M250.8 438.7h0M272.5 439.0h0M282.2 462.5h0M265.8 436.0h0M339.5 444.3h0M274.1 436.7h0M237.1 456.3h0M516.7 509.7h0M282.3 431.5h0M235.6 428.6h0M443.8 480.8h0M486.9 410.6h0M437.7 525.1h0M314.9 400.3h0M290.7 404.9h0M358.8 433.2h0M245.1 461.8h0M533.9 499.6h0M238.8 486.1h0M303.6 456.3h0M236.4 435.7h0M394.9 455.1h0M277.8 447.3h0M224.8 431.1h0M267.2 470.8h0M271.8 468.6h0M259.1 482.2h0M251.2 403.7h0M224.0 443.8h0M267.9 461.7h0M257.0 473.3h0M394.2 428.6h0M248.8 428.4h0M369.9 491.9h0M382.9 511.2h0M315.7 487.7h0M267.4 400.3h0M269.4 460.6h0M336.4 421.8h0M354.2 504.2h0M513.9 440.5h0M251.3 409.9h0M419.7 499.3h0M233.8 458.9h0M220.4 431.2h0M433.4 508.1h0M243.7 438.8h0M430.4 435.5h0M436.6 423.8h0M245.8 441.6h0M380.7 434.5h0M351.5 470.6h0M294.3 436.9h0M600.5 415.7h0M854.1 415.1h0M795.0 427.6h0M643.3 428.6h0M643.3 433.2h0M617.8 440.8h0M714.8 438.0h0M744.6 464.3h0M727.1 470.8h0M656.3 474.0h0M605.7 483.6h0M588.6 491.7h0M593.4 489.6h0M597.9 493.7h0M730.9 489.4h0M656.1 497.9h0M825.4 499.3h0M840.8 505.7h0M619.2 505.5h0M703.6 515.0h0M875.6 520.2h0M656.1 521.4h0M766.1 523.2h0M587.6 531.0h0M611.5 530.0h0M698.5 529.0h0M688.7 533.9h0M625.2 537.9h0M626.6 537.3h0M654.7 538.5h0M666.2 540.3h0M737.5 550.5h0M588.0 551.1h0M763.5 561.0h0M683.3 566.2h0M708.4 567.8h0M733.9 566.4h0M783.2 565.6h0M750.8 571.6h0M621.0 578.5h0M644.1 574.3h0M684.9 575.9h0M786.2 588.7h0M628.6 590.5h0M713.6 596.0h0M632.2 603.2h0M752.6 617.9h0M761.2 624.9h0M676.2 622.3h0M903.5 665.9h0M909.2 667.7h0M970.9 664.7h0M986.9 706.9h0" stroke="#728386" stroke-width="7.4" stroke-linecap="round" fill="none"/><line x1="216.3" y1="358.0" x2="984.4" y2="195.6" stroke="#dc4f1e" stroke-width="5.2"/><line x1="216.3" y1="429.3" x2="990.2" y2="573.2" stroke="#2cc940" stroke-width="5.2"/><path d="M180.5 84.0V736.6H1026.0" stroke="#111418" stroke-width="2.2" fill="none" stroke-linecap="square"/><path d="M180.5 97.2h-10M180.5 172.6h-10M180.5 248.0h-10M180.5 323.4h-10M180.5 398.8h-10M180.5 474.1h-10M180.5 549.5h-10M180.5 624.9h-10M180.5 700.3h-10M182.6 736.6v10M298.5 736.6v10M414.5 736.6v10M530.4 736.6v10M646.4 736.6v10M762.3 736.6v10M878.3 736.6v10M994.2 736.6v10" stroke="#111418" stroke-width="2" fill="none"/><text class="dv" x="160.5" y="109.2" font-size="29.3" text-anchor="end" fill="#111418">0.8</text><text class="dv" x="160.5" y="184.6" font-size="29.3" text-anchor="end" fill="#111418">0.6</text><text class="dv" x="160.5" y="260.0" font-size="29.3" text-anchor="end" fill="#111418">0.4</text><text class="dv" x="160.5" y="335.4" font-size="29.3" text-anchor="end" fill="#111418">0.2</text><text class="dv" x="160.5" y="410.8" font-size="29.3" text-anchor="end" fill="#111418">0.0</text><text class="dv" x="160.5" y="486.1" font-size="29.3" text-anchor="end" fill="#111418">−0.2</text><text class="dv" x="160.5" y="561.5" font-size="29.3" text-anchor="end" fill="#111418">−0.4</text><text class="dv" x="160.5" y="636.9" font-size="29.3" text-anchor="end" fill="#111418">−0.6</text><text class="dv" x="160.5" y="712.3" font-size="29.3" text-anchor="end" fill="#111418">−0.8</text><text class="dv" font-size="29.3" text-anchor="middle" fill="#111418" transform="translate(181.3 781.2) rotate(-45)" y="10.7">0.2</text><text class="dv" font-size="29.3" text-anchor="middle" fill="#111418" transform="translate(297.2 781.2) rotate(-45)" y="10.7">0.3</text><text class="dv" font-size="29.3" text-anchor="middle" fill="#111418" transform="translate(413.2 781.2) rotate(-45)" y="10.7">0.4</text><text class="dv" font-size="29.3" text-anchor="middle" fill="#111418" transform="translate(529.1 781.2) rotate(-45)" y="10.7">0.5</text><text class="dv" font-size="29.3" text-anchor="middle" fill="#111418" transform="translate(645.1 781.2) rotate(-45)" y="10.7">0.6</text><text class="dv" font-size="29.3" text-anchor="middle" fill="#111418" transform="translate(761.0 781.2) rotate(-45)" y="10.7">0.7</text><text class="dv" font-size="29.3" text-anchor="middle" fill="#111418" transform="translate(877.0 781.2) rotate(-45)" y="10.7">0.8</text><text class="dv" font-size="29.3" text-anchor="middle" fill="#111418" transform="translate(992.9 781.2) rotate(-45)" y="10.7">0.9</text><text class="dv" x="226.8" y="114.7" font-size="29.1" fill="#d4552a">Pearson 0.602</text><text class="dv" x="226.4" y="707.4" font-size="29.1" fill="#34c04f">Pearson -0.568</text><text class="ls" x="495.8" y="44.0" font-size="44.8" fill="#111418" textLength="178.4" lengthAdjust="spacingAndGlyphs">Enformer</text><text class="ls" font-size="30.5" fill="#111418" transform="translate(73.4 677.2) rotate(-90)" textLength="532.8" lengthAdjust="spacingAndGlyphs">Enformer cross-individual correlation</text><text class="ls" x="394.0" y="847.9" font-size="33.7" fill="#111418" textLength="397.2" lengthAdjust="spacingAndGlyphs">Top eQTL effect size |rvalue|</text><text class="ls" x="-0.1" y="44.3" font-size="58" font-weight="bold" fill="#000">a</text></g>
<g><path d="M1562.8 273.6h0M1366.7 343.9h0M1490.4 339.1h0M1506.2 303.4h0M1391.0 343.5h0M1633.3 288.9h0M1379.3 326.5h0M1423.3 344.5h0M1542.4 348.5h0M1396.7 330.4h0M1520.7 278.1h0M1495.9 306.8h0M1479.6 302.4h0M1425.5 376.3h0M1400.0 329.6h0M1599.9 391.5h0M1661.3 267.5h0M1365.9 311.7h0M1382.5 344.5h0M1555.4 349.2h0M1500.7 333.8h0M1374.4 340.2h0M1441.4 390.3h0M1413.0 312.5h0M1577.5 302.9h0M1445.4 383.0h0M1382.3 325.0h0M1466.0 331.3h0M1437.2 390.6h0M1557.4 375.9h0M1395.1 305.6h0M1588.5 267.3h0M1415.4 341.6h0M1395.4 370.7h0M1369.3 390.6h0M1512.2 322.4h0M1704.2 391.4h0M1441.0 376.0h0M1512.8 320.8h0M1375.1 324.7h0M1397.7 325.6h0M1404.3 385.9h0M1375.2 306.1h0M1435.8 372.4h0M1388.7 352.0h0M1711.3 376.3h0M1363.6 375.2h0M1491.1 270.8h0M1397.6 380.6h0M1384.8 360.6h0M1518.5 359.8h0M1475.9 371.5h0M1523.2 280.2h0M1550.3 288.6h0M1367.8 328.3h0M1373.7 336.5h0M1467.4 368.5h0M1545.0 330.0h0M1654.0 322.6h0M1497.3 330.9h0M1362.5 353.9h0M1403.5 297.6h0M1395.6 352.9h0M1388.4 340.7h0M1559.8 259.8h0M1508.0 329.8h0M1387.3 331.9h0M1401.6 286.8h0M1478.9 327.4h0M1362.0 387.3h0M1452.5 378.0h0M1543.8 372.8h0M1507.2 273.8h0M1681.5 331.9h0M1498.2 276.0h0M1438.5 340.0h0M1614.3 375.8h0M1562.6 323.8h0M1434.6 348.9h0M1436.3 356.2h0M1550.5 301.9h0M1408.2 296.8h0M1441.9 321.7h0M1518.2 375.1h0M1409.9 364.4h0M1508.8 380.1h0M1545.0 318.8h0M1371.1 304.1h0M1729.5 362.6h0M1452.4 311.8h0M1536.6 297.3h0M1586.2 384.1h0M1543.9 266.8h0M1547.2 237.6h0M1476.5 350.6h0M1415.2 326.2h0M1517.2 263.2h0M1381.1 343.2h0M1529.3 376.7h0M1478.1 325.9h0M1482.2 361.3h0M1411.3 350.6h0M1580.9 370.8h0M1525.1 336.3h0M1715.1 356.0h0M1374.1 329.9h0M1464.2 387.4h0M1547.0 285.5h0M1572.8 292.8h0M1383.1 386.7h0M1427.7 366.0h0M1414.0 385.8h0M1418.7 386.0h0M1417.6 376.0h0M1620.5 300.1h0M1403.3 299.6h0M1539.0 289.0h0M1455.1 350.6h0M1371.8 325.0h0M1386.6 352.6h0M1501.2 280.0h0M1629.1 370.1h0M1383.4 342.5h0M1475.3 373.7h0M1397.9 310.9h0M1414.8 327.7h0M1630.1 280.4h0M1425.4 375.4h0M1523.5 271.9h0M1407.3 373.0h0M1398.4 327.0h0M1390.4 371.7h0M1691.2 341.6h0M1589.5 376.8h0M1666.0 324.7h0M1445.6 331.3h0M1416.3 343.5h0M1400.6 322.2h0M1473.6 331.0h0M1400.6 366.2h0M1454.3 375.9h0M1410.7 305.2h0M1458.9 331.7h0M1524.9 338.1h0M1489.0 323.9h0M1553.1 253.4h0M1439.9 335.4h0M1370.0 373.6h0M1527.8 279.2h0M1641.6 325.5h0M1385.1 349.6h0M1409.7 367.0h0M1451.0 343.4h0M1426.3 352.4h0M1412.5 349.1h0M1389.7 352.4h0M1575.1 282.6h0M1477.0 387.2h0M1367.4 356.0h0M1493.1 340.6h0M1452.9 321.8h0M1456.2 382.1h0M1413.2 320.1h0M1431.6 352.2h0M1376.9 340.3h0M1396.5 303.4h0M1406.5 341.7h0M1471.9 342.2h0M1371.1 301.4h0M1499.0 356.2h0M1476.1 367.1h0M1674.1 270.4h0M1398.2 310.0h0M1360.1 358.8h0M1421.4 297.5h0M1393.9 350.8h0M1406.3 386.5h0M1467.0 322.7h0M1486.7 319.7h0M1397.5 317.0h0M1485.0 347.6h0M1403.0 291.1h0M1374.5 345.4h0M1499.8 276.2h0M1396.6 292.5h0M1470.0 292.2h0M1437.7 343.9h0M1626.4 249.1h0M1384.9 384.9h0M1426.2 373.9h0M1399.1 344.3h0M1571.9 283.3h0M1439.6 302.0h0M1474.2 338.1h0M1417.3 317.7h0M1384.2 288.2h0M1613.9 376.1h0M1607.3 265.4h0M1487.7 314.6h0M1568.6 391.7h0M1573.4 376.7h0M1366.5 362.5h0M1688.2 294.5h0M1619.9 350.1h0M1365.2 383.5h0M1473.0 374.7h0M1364.7 388.3h0M1413.8 301.5h0M1410.9 346.0h0M1374.8 328.3h0M1652.6 236.9h0M1558.0 383.1h0M1382.1 319.0h0M1369.6 354.8h0M1405.0 381.0h0M1430.9 246.1h0M1545.6 304.3h0M1725.4 307.4h0M1519.1 299.9h0M1410.2 324.6h0M1612.7 387.8h0M1546.1 290.2h0M1409.3 334.3h0M1435.2 378.2h0M1426.6 335.7h0M1415.5 331.6h0M1367.9 309.3h0M1444.4 298.2h0M1361.6 378.2h0M1438.1 387.0h0M1419.2 372.4h0M1492.7 328.2h0M1403.5 321.4h0M1709.4 241.5h0M1452.1 383.1h0M1405.3 326.7h0M1451.7 317.7h0M1461.0 378.5h0M1414.0 333.9h0M1361.1 307.3h0M1472.1 347.2h0M1432.3 365.1h0M1396.4 281.1h0M1485.8 300.2h0M1663.9 322.9h0M1375.6 359.6h0M1505.2 351.5h0M1682.5 274.0h0M1453.0 279.1h0M1423.6 356.8h0M1449.7 327.9h0M1375.0 346.2h0M1532.9 285.7h0M1494.2 280.3h0M1667.8 305.9h0M1687.3 336.8h0M1375.5 364.8h0M1492.4 302.1h0M1500.1 322.5h0M1494.4 253.6h0M1458.4 256.4h0M1471.0 310.9h0M1400.3 365.7h0M1387.3 309.7h0M1376.1 379.7h0M1380.0 391.3h0M1689.0 317.7h0M1675.9 326.7h0M1538.8 287.1h0M1419.8 388.2h0M1447.8 283.1h0M1493.9 365.8h0M1376.4 377.1h0M1383.3 361.5h0M1484.3 384.1h0M1434.8 315.2h0M1474.0 296.9h0M1495.2 351.7h0M1378.7 373.4h0M1525.5 304.6h0M1575.7 292.0h0M1531.7 340.4h0M1465.3 382.2h0M1484.8 325.5h0M1618.0 372.6h0M1373.4 373.5h0M1483.5 359.8h0M1385.7 385.5h0M1431.9 322.2h0M1384.4 366.4h0M1429.3 391.7h0M1364.0 326.5h0M1640.9 278.5h0M1605.9 326.3h0M1635.4 281.8h0M1721.6 291.3h0M1391.3 346.1h0M1539.8 278.9h0M1400.8 345.9h0M1399.3 353.4h0M1373.2 316.7h0M1410.9 366.7h0M1393.7 346.8h0M1443.3 342.2h0M1664.5 366.6h0M1526.8 353.4h0M1395.8 370.5h0M1389.1 365.9h0M1556.3 316.6h0M1622.1 379.1h0M1612.0 306.6h0M1380.8 313.9h0M1386.9 344.5h0M1591.4 354.4h0M1362.4 355.1h0M1433.2 359.9h0M1698.0 286.9h0M1427.5 388.1h0M1701.6 303.6h0M1570.9 353.0h0M1361.3 351.4h0M1381.0 374.9h0M1366.3 342.1h0M1456.7 386.0h0M1455.8 316.8h0M1570.0 375.3h0M1473.2 295.6h0M1438.3 345.0h0M1645.8 216.5h0M1483.2 342.9h0M1491.7 346.7h0M1524.4 265.2h0M1522.9 377.5h0M1442.6 293.4h0M1521.3 274.1h0M1459.3 376.0h0M1436.6 340.1h0M1724.1 237.4h0M1398.1 370.9h0M1423.7 320.3h0M1361.7 310.1h0M1369.0 346.8h0M1390.0 301.6h0M1669.6 300.7h0M1424.8 368.2h0M1592.1 274.5h0M1666.8 327.0h0M1487.4 387.0h0M1363.4 368.8h0M1567.5 292.7h0M1513.7 300.0h0M1609.6 249.5h0M1424.6 363.0h0M1392.5 304.4h0M1502.6 351.1h0M1477.5 279.1h0M1710.9 265.8h0M1459.3 263.1h0M1478.3 364.3h0M1427.4 363.6h0M1404.7 332.5h0M1577.3 273.1h0M1408.1 369.9h0M1421.3 297.9h0M1606.5 269.0h0M1463.7 349.0h0M1431.1 382.5h0M1594.4 324.3h0M1370.9 364.0h0M1368.2 384.2h0M1657.0 258.7h0M1501.5 279.1h0M1590.3 272.2h0M1561.3 382.8h0M1471.2 325.0h0M1370.4 362.0h0M1398.5 366.4h0M1518.1 388.7h0M1425.2 303.2h0M1378.4 373.2h0M1435.9 349.1h0M1422.6 367.0h0M1594.2 352.6h0M1364.5 379.5h0M1374.2 383.6h0M1362.6 289.9h0M1439.7 309.3h0M1434.9 361.5h0M1554.3 327.9h0M1513.3 361.1h0M1372.3 312.9h0M1430.7 342.2h0M1387.1 357.5h0M1411.2 345.2h0M1446.8 306.1h0M1397.3 328.4h0M1662.7 383.2h0M1626.1 238.3h0M1384.5 365.2h0M1397.0 371.4h0M1526.8 351.2h0M1363.1 353.1h0M1382.3 391.7h0M1677.7 337.1h0M1497.5 308.6h0M1440.5 309.4h0M1373.2 379.3h0M1379.1 301.7h0M1366.2 339.8h0M1581.4 316.0h0M1636.6 239.5h0M1385.5 375.5h0M1418.0 376.2h0M1458.7 329.4h0M1496.2 289.7h0M1405.7 337.3h0M1638.0 384.3h0M1458.3 324.1h0M1505.5 276.7h0M1445.7 363.6h0M1501.3 366.0h0M1373.8 341.7h0M1643.5 192.7h0M1699.1 389.3h0M1608.0 326.4h0M1441.7 348.6h0M1714.5 321.5h0M1393.5 332.6h0M1475.5 351.6h0M1452.0 309.2h0M1567.1 340.2h0M1480.7 286.9h0M1469.8 363.5h0M1685.7 340.6h0M1379.7 386.9h0M1611.5 288.2h0M1510.6 338.9h0M1651.4 365.8h0M1516.5 375.3h0M1409.0 304.2h0M1474.8 335.5h0M1531.1 371.4h0M1406.1 391.7h0M1482.7 321.8h0M1370.2 389.4h0M1389.1 369.1h0M1437.4 304.6h0M1602.7 381.6h0M1535.3 290.2h0M1393.7 333.7h0M1453.9 367.8h0M1453.6 373.3h0M1587.9 361.1h0M1599.2 279.5h0M1479.3 355.0h0M1412.8 391.7h0M1407.0 379.4h0M1404.0 348.5h0M1396.1 355.3h0M1515.2 276.3h0M1367.2 323.4h0M1365.1 376.2h0M1621.2 261.2h0M1427.0 288.9h0M1622.5 348.2h0M1503.2 308.3h0M1409.4 385.4h0M1648.4 351.5h0M1438.7 298.0h0M1584.5 262.8h0M1419.6 280.7h0M1474.6 386.2h0M1590.5 391.7h0M1489.2 297.5h0M1623.5 386.1h0M1416.0 352.2h0M1380.2 386.3h0M1634.5 348.6h0M1390.1 338.5h0M1377.5 387.3h0M1534.3 294.1h0M1363.7 373.0h0M1465.5 342.3h0M1463.1 355.7h0M1444.2 345.1h0M1432.7 314.6h0M1532.0 276.2h0M1459.5 362.0h0M1386.4 355.9h0M1386.0 340.5h0M1392.1 342.5h0M1388.3 326.9h0M1508.3 377.2h0M1479.2 272.9h0M1374.6 322.3h0M1482.1 373.2h0M1407.5 338.1h0M1378.6 330.9h0M1726.6 308.6h0M1470.8 344.2h0M1551.2 322.4h0M1419.6 356.5h0M1388.9 308.8h0M1570.5 240.4h0M1436.8 300.6h0M1379.9 300.2h0M1463.3 260.7h0M1414.6 346.4h0M1368.9 339.6h0M1389.7 315.1h0M1360.9 323.9h0M1386.2 316.6h0M1595.2 367.4h0M1462.0 326.7h0M1433.3 283.8h0M1638.7 218.3h0M1378.2 363.2h0M1402.8 385.2h0M1722.3 321.1h0M1457.9 373.6h0M1369.1 370.2h0M1388.6 369.1h0M1412.1 352.4h0M1433.6 314.4h0M1390.5 357.0h0M1392.9 342.4h0M1513.0 293.1h0M1364.2 377.5h0M1415.0 381.8h0M1374.0 390.4h0M1360.8 380.6h0M1363.3 373.0h0M1487.9 322.1h0M1460.3 383.8h0M1408.6 352.9h0M1576.5 228.5h0M1420.5 353.7h0M1583.9 354.3h0M1366.1 376.7h0M1462.3 374.6h0M1634.1 226.9h0M1376.6 345.9h0M1529.7 318.0h0M1473.7 356.7h0M1551.7 308.2h0M1385.5 324.3h0M1540.6 288.7h0M1597.7 298.8h0M1385.9 370.2h0M1388.1 309.8h0M1360.4 313.1h0M1447.6 383.3h0M1482.9 288.4h0M1370.8 327.3h0M1402.0 371.4h0M1380.6 343.0h0M1552.0 331.3h0M1496.2 375.1h0M1368.3 289.9h0M1372.1 365.5h0M1401.0 322.4h0M1416.6 365.1h0M1510.0 329.6h0M1481.5 303.6h0M1568.1 371.6h0M1593.3 255.8h0M1598.1 371.8h0M1463.9 325.3h0M1442.9 354.6h0M1392.5 308.0h0M1398.9 318.7h0M1596.5 339.6h0M1434.1 327.2h0M1552.4 385.9h0M1434.0 306.3h0M1399.7 318.5h0M1469.5 287.0h0M1390.9 357.9h0M1425.9 323.1h0M1468.9 299.7h0M1467.7 338.4h0M1508.9 378.4h0M1565.0 280.6h0M1449.9 320.5h0M1418.9 378.9h0M1470.3 278.0h0M1646.5 348.5h0M1506.7 303.7h0M1488.8 319.9h0M1406.9 378.6h0M1417.7 340.8h0M1574.4 389.1h0M1444.1 338.2h0M1370.5 308.6h0M1574.3 298.1h0M1421.8 375.2h0M1371.5 316.0h0M1429.4 330.1h0M1360.6 389.9h0M1521.2 373.9h0M1566.7 229.0h0M1607.1 344.2h0M1579.3 256.4h0M1454.6 325.0h0M1521.7 303.1h0M1433.0 355.9h0M1423.0 346.5h0M1405.4 368.6h0M1655.3 297.5h0M1360.7 384.7h0M1589.0 301.7h0M1670.8 297.4h0M1502.0 310.9h0M1404.5 326.3h0M1456.8 316.0h0M1658.4 373.1h0M1530.8 258.4h0M1393.0 374.9h0M1717.9 348.1h0M1615.7 245.6h0M1565.6 338.6h0M1417.1 334.0h0M1375.7 353.2h0M1578.2 384.9h0M1608.9 284.7h0M1418.3 284.3h0M1543.2 282.7h0M1524.1 372.0h0M1517.8 328.8h0M1559.1 311.4h0M1416.0 348.2h0M1499.3 281.3h0M1409.8 327.9h0M1542.8 282.5h0M1448.4 281.6h0M1372.9 378.7h0M1584.8 332.9h0M1527.2 363.0h0M1432.6 337.3h0M1505.8 343.7h0M1443.9 306.9h0M1410.4 321.5h0M1430.4 303.6h0M1363.0 366.3h0M1556.2 299.8h0M1416.9 381.0h0M1439.0 338.7h0M1383.6 365.9h0M1361.9 351.5h0M1496.9 388.7h0M1442.4 313.7h0M1554.9 247.6h0M1536.8 309.3h0M1369.9 338.0h0M1647.5 374.0h0M1582.5 311.6h0M1430.2 320.7h0M1414.5 349.2h0M1382.9 314.9h0M1455.9 321.6h0M1451.3 374.3h0M1387.9 370.5h0M1445.1 391.7h0M1516.6 301.8h0M1378.9 353.4h0M1500.4 365.9h0M1481.3 311.3h0M1477.7 366.5h0M1433.8 333.9h0M1450.5 320.3h0M1516.9 381.3h0M1455.5 312.4h0M1360.0 347.8h0M1468.0 331.3h0M1448.7 295.5h0M1422.8 374.1h0M1429.1 375.2h0M1485.9 339.8h0M1372.5 332.6h0M1413.5 388.4h0M1369.4 349.4h0M1446.9 328.1h0M1699.6 320.9h0M1364.4 333.2h0M1537.4 390.3h0M1587.1 391.2h0M1519.9 386.2h0M1435.4 279.6h0M1490.7 380.9h0M1392.7 347.5h0M1491.6 386.7h0M1611.1 318.7h0M1538.0 273.9h0M1399.2 320.2h0M1483.5 317.1h0M1494.8 321.8h0M1468.2 366.4h0M1381.9 325.3h0M1424.9 386.5h0M1375.3 357.1h0M1427.2 328.7h0M1417.8 361.3h0M1468.3 322.7h0M1394.3 359.0h0M1432.2 300.4h0M1544.2 287.9h0M1428.8 390.6h0M1476.3 363.8h0M1707.4 308.3h0M1693.7 389.3h0M1522.1 351.8h0M1449.4 358.0h0M1558.6 355.0h0M1416.7 365.6h0M1510.2 313.1h0M1523.8 334.1h0M1365.7 378.7h0M1440.1 302.8h0M1424.3 318.9h0M1528.2 320.6h0M1401.8 329.0h0M1465.7 366.0h0M1484.1 350.2h0M1673.5 255.0h0M1708.4 355.8h0M1419.3 311.4h0M1541.8 321.3h0M1364.8 352.3h0M1464.5 327.2h0M1424.0 365.7h0M1402.1 364.4h0M1548.6 391.7h0M1601.7 283.4h0M1591.5 377.4h0M1394.6 319.9h0M1429.8 372.7h0M1678.8 302.9h0M1532.3 300.0h0M1660.3 331.2h0M1362.9 389.0h0M1376.1 362.9h0M1405.6 356.1h0M1448.9 338.4h0M1368.5 341.9h0M1675.1 319.7h0M1361.5 343.3h0M1368.0 329.8h0M1480.3 294.4h0M1361.2 340.3h0M1443.4 253.7h0M1416.5 323.5h0M1696.2 259.6h0M1367.7 324.4h0M1461.6 343.2h0M1483.9 369.0h0M1391.2 343.0h0M1603.8 212.9h0M1515.6 359.2h0M1546.6 331.2h0M1618.4 279.7h0M1373.5 349.5h0M1404.1 359.3h0M1460.7 302.6h0M1563.2 307.7h0M1389.4 317.6h0M1402.6 295.8h0M1423.9 355.7h0M1576.0 291.5h0M1507.5 355.8h0M1415.6 349.6h0M1438.9 336.2h0M1401.2 336.4h0M1498.8 380.2h0M1381.7 341.0h0M1371.4 322.3h0M1556.9 381.5h0M1700.7 282.5h0M1585.6 300.8h0M1468.7 315.8h0M1443.6 368.0h0M1430.5 322.3h0M1376.4 313.3h0M1368.7 351.8h0M1441.5 329.9h0M1605.1 253.6h0M1382.7 365.5h0M1391.9 390.4h0M1463.5 293.9h0M1514.2 322.3h0M1490.1 268.3h0M1496.7 257.7h0M1498.4 266.7h0M1659.0 387.1h0M1727.9 258.0h0M1381.0 343.2h0M1418.7 391.1h0M1554.5 362.1h0M1466.7 391.7h0M1442.1 301.8h0M1450.3 367.9h0M1472.3 315.3h0M1459.9 274.2h0M1449.3 363.3h0M1489.6 387.5h0M1627.3 331.7h0M1368.6 377.8h0M1400.1 363.7h0M1412.1 282.0h0M1460.5 382.4h0M1534.8 309.5h0M1378.0 313.6h0M1407.8 333.8h0M1480.0 296.0h0M1462.8 311.9h0M1386.8 318.8h0M1509.6 362.6h0M1454.2 300.4h0M1467.0 302.1h0M1465.0 360.6h0M1394.4 378.7h0M1637.4 380.4h0M1528.8 331.5h0M1454.9 373.4h0M1492.0 387.5h0M1383.8 311.5h0M1502.9 378.7h0M1509.3 348.3h0M1440.8 320.5h0M1383.2 343.8h0M1429.6 350.2h0M1538.6 357.7h0M1601.0 358.0h0M1365.6 332.8h0M1385.3 275.0h0M1530.7 387.7h0M1366.8 384.2h0M1511.9 383.1h0M1487.2 277.3h0M1424.4 364.4h0M1560.6 363.6h0M1380.5 291.7h0M1403.8 312.6h0M1488.3 365.5h0M1444.7 315.0h0M1548.1 304.8h0M1391.7 309.0h0M1536.1 385.1h0M1381.8 391.7h0M1447.2 387.7h0M1420.5 331.7h0M1592.6 230.8h0M1477.3 310.2h0M1428.2 365.8h0M1511.5 331.1h0M1713.0 260.4h0M1685.5 318.6h0M1540.0 287.1h0M1562.0 317.4h0M1586.8 333.2h0M1506.4 295.0h0M1386.4 362.5h0M1535.8 281.1h0M1422.5 374.9h0M1394.7 337.4h0M1610.3 282.5h0M1505.0 276.3h0M1579.9 292.9h0M1616.8 285.9h0M1384.0 348.1h0M1495.4 290.1h0M1404.6 345.9h0M1547.6 331.1h0M1421.7 296.1h0M1420.9 391.7h0M1430.0 388.0h0M1628.3 369.8h0M1569.7 360.3h0M1440.4 386.4h0M1363.9 386.9h0M1522.6 326.2h0M1408.7 391.7h0M1563.8 353.9h0M1411.9 373.7h0M1363.8 374.5h0M1439.2 358.7h0M1362.2 363.5h0M1406.2 287.6h0M1578.5 308.8h0M1643.9 255.7h0M1583.3 360.6h0M1367.0 331.6h0M1566.0 311.2h0M1469.3 352.9h0M1390.6 377.5h0M1616.1 284.8h0M1530.2 382.7h0M1412.6 377.9h0M1600.4 366.8h0M1457.6 351.3h0M1448.2 349.3h0M1377.7 387.5h0M1464.7 325.4h0M1377.5 385.1h0M1381.4 354.8h0M1478.5 278.4h0M1408.5 341.9h0M1443.0 292.1h0M1395.1 304.6h0M1393.2 385.7h0M1559.7 289.3h0M1490.9 353.1h0M1402.9 299.7h0M1373.0 379.4h0M1719.6 312.2h0M1503.8 272.9h0M1360.3 369.8h0M1384.0 313.8h0M1706.0 382.3h0M1466.5 342.1h0M1582.7 336.8h0M1497.8 321.5h0M1469.1 326.8h0M1504.8 356.5h0M1426.7 391.7h0M1529.0 382.6h0M1421.1 311.5h0M1504.5 356.8h0M1427.8 313.4h0M1431.3 358.6h0M1493.0 338.5h0M1494.7 337.2h0M1401.5 381.4h0M1457.3 372.7h0M1377.9 331.5h0M1720.3 312.8h0M1481.8 311.1h0M1378.3 386.5h0M1486.2 363.8h0M1379.0 388.5h0M1384.7 325.1h0M1679.2 340.2h0M1502.3 276.3h0M1450.2 376.7h0M1499.6 253.0h0M1475.1 308.8h0M1395.9 318.7h0M1571.5 322.0h0M1503.5 251.2h0M1389.3 307.8h0M1420.8 377.5h0M1437.0 339.0h0M1460.0 374.7h0M1649.6 263.9h0M1377.0 299.3h0M1391.6 368.0h0M1541.4 360.2h0M1397.1 357.1h0M1379.7 354.1h0M1407.9 363.1h0M1390.2 329.7h0M1398.7 330.5h0M1604.4 366.7h0M1379.5 338.9h0M1411.7 387.2h0M1683.6 267.5h0M1669.4 245.7h0M1377.3 375.5h0M1362.7 383.9h0M1619.4 283.6h0M1639.4 311.5h0M1653.5 270.0h0M1371.6 306.1h0M1564.5 338.4h0M1376.7 316.8h0M1471.4 272.9h0M1387.6 309.3h0M1402.3 351.4h0M1651.2 266.1h0M1371.8 386.2h0M1392.2 329.0h0M1399.8 366.0h0M1447.9 311.2h0M1597.0 319.0h0M1422.1 375.5h0M1447.4 345.3h0M1537.5 386.9h0M1519.4 285.3h0M1405.0 373.7h0M1644.6 220.8h0M1462.5 329.9h0M1407.4 371.4h0M1512.4 350.7h0M1372.7 329.5h0M1456.4 346.5h0M1511.0 377.4h0M1534.6 336.6h0M1514.6 322.3h0M1466.1 299.8h0M1370.2 309.5h0M1580.3 310.8h0M1367.2 389.3h0M1399.6 345.1h0M1642.5 391.0h0M1526.0 337.4h0M1457.9 389.7h0M1437.8 328.4h0M1488.3 372.8h0M1472.8 339.1h0M1548.9 377.2h0M1716.6 262.3h0M1428.5 308.7h0M1558.2 369.5h0M1541.3 391.0h0M1401.2 391.0h0M1572.6 334.6h0M1516.1 311.2h0M1451.4 281.2h0M1431.7 391.0h0M1446.5 297.1h0M1406.8 304.6h0M1453.2 347.3h0M1420.1 391.7h0M1528.4 273.8h0M1428.1 388.0h0M1365.0 356.7h0M1395.6 390.5h0M1425.8 295.9h0M1533.2 312.6h0M1480.5 368.4h0M1365.5 318.9h0M1418.2 354.7h0M1435.5 388.1h0M1462.2 332.1h0M1434.3 346.2h0M1581.7 382.5h0M1446.2 363.9h0M1503.9 279.0h0M1598.9 348.2h0M1630.8 286.6h0M1602.8 272.3h0M1649.2 217.0h0M1449.1 334.8h0M1485.1 327.0h0M1553.9 343.1h0M1691.3 191.4h0M1375.9 350.5h0M1436.4 337.9h0M1486.5 338.2h0M1461.3 260.7h0M1481.0 383.5h0M1393.3 389.6h0M1564.8 334.6h0M1380.3 386.0h0M1692.9 371.5h0M1412.4 381.9h0M1489.7 272.2h0M1552.7 352.9h0M1472.5 390.7h0M1377.1 294.7h0M1382.7 342.1h0M1409.1 378.8h0M1476.7 295.5h0M1445.0 362.8h0M1414.3 311.9h0M1656.5 229.9h0M1411.5 373.2h0M1595.8 270.3h0M1511.1 352.5h0M1370.6 314.0h0M1387.6 331.2h0M1569.2 358.1h0M1394.9 383.0h0M1461.8 284.3h0M1366.9 391.7h0M1624.9 283.3h0M1672.3 264.5h0M1422.3 324.3h0M1369.7 383.9h0M1367.5 345.9h0M1514.3 391.0h0M1632.3 379.4h0M1372.5 366.5h0M1360.0 325.9h0M1381.4 310.2h0M1457.1 280.7h0M1391.5 371.4h0M1549.8 383.1h0M1364.6 332.3h0M1428.7 389.0h0M1695.0 278.4h0M1519.7 303.0h0M1410.2 352.5h0M1394.1 360.9h0M1455.3 323.4h0M1493.3 318.0h0M1624.6 262.3h0M1420.2 349.8h0M1423.1 348.2h0M1515.5 303.7h0M1631.7 268.6h0M1662.1 337.1h0M1540.3 303.1h0M1470.6 329.0h0M1629.6 232.9h0M1533.6 254.1h0M1615.1 256.7h0M1450.9 276.8h0M1507.6 382.6h0M1520.5 383.5h0M1406.0 366.2h0M1387.8 305.1h0M1703.3 362.7h0M1526.4 351.0h0M1549.4 351.9h0M1485.4 288.1h0M1362.1 366.4h0M1453.4 334.6h0M1441.0 294.3h0M1365.9 317.9h0M1534.0 286.0h0M1681.1 390.0h0M1446.0 288.8h0M1402.5 380.5h0M1560.9 244.9h0M1413.5 334.0h0M1372.0 364.6h0M2010.3 118.8h0M2045.4 123.7h0M1965.2 124.3h0M1961.6 137.6h0M1973.6 146.2h0M1920.2 147.1h0M1923.7 157.8h0M2078.9 150.8h0M1742.9 163.7h0M1806.1 164.3h0M1865.0 169.2h0M1894.9 172.9h0M1994.5 167.1h0M1775.9 181.6h0M1795.7 182.6h0M1784.6 187.1h0M1790.3 190.2h0M1823.1 178.6h0M1828.8 179.7h0M1958.7 181.6h0M1808.8 194.2h0M1830.9 193.8h0M1839.1 196.9h0M1837.4 200.5h0M1901.4 189.2h0M1906.9 187.5h0M1926.5 187.3h0M1763.9 199.1h0M2077.8 194.0h0M1885.0 203.7h0M1737.2 206.2h0M1746.3 210.6h0M1759.7 212.7h0M1728.6 227.5h0M1740.6 225.8h0M1756.6 225.8h0M1765.6 222.6h0M1771.7 218.4h0M1773.0 220.5h0M1796.6 210.4h0M1805.0 209.6h0M1798.7 216.9h0M1794.9 222.2h0M1805.6 219.1h0M1814.9 218.6h0M1845.8 218.0h0M1864.4 218.0h0M1871.7 217.6h0M1867.1 226.8h0M1870.7 227.7h0M1772.4 232.7h0M1783.7 238.8h0M1806.7 237.8h0M1816.8 230.6h0M1821.0 233.8h0M1924.6 223.3h0M1903.7 232.5h0M1746.1 243.3h0M1727.5 253.6h0M1746.1 255.3h0M1797.0 253.8h0M1812.4 250.0h0M1855.1 253.4h0M1890.1 253.6h0M1898.1 261.8h0M1928.8 241.2h0M1965.0 244.3h0M1994.5 242.4h0M1951.7 252.7h0M1949.8 264.3h0M1998.7 265.2h0M1868.2 269.2h0M1764.4 265.8h0M1772.4 263.7h0M1738.3 278.0h0M1753.0 274.4h0M1783.7 279.7h0M1791.9 279.7h0M1837.0 285.2h0M1965.6 283.1h0M1769.2 297.6h0M1730.3 306.8h0M1738.1 305.2h0M1749.4 313.6h0M1781.8 307.1h0M1869.6 307.5h0M1900.6 302.6h0M2010.7 310.6h0M1752.8 335.3h0M1740.8 339.5h0M1744.4 341.6h0M1768.4 336.7h0M1762.9 349.4h0M1731.3 351.3h0M1796.6 355.3h0M1767.9 361.6h0M1796.6 366.2h0M1844.4 363.7h0M1856.6 363.7h0M1899.9 364.7h0M1739.7 376.3h0M1751.7 381.2h0M1783.9 380.5h0M1891.7 380.7h0M1981.2 384.9h0M2021.0 392.3h0M1777.2 391.9h0" stroke="#181c22" stroke-width="7.4" stroke-linecap="round" fill="none"/><path d="M1368.1 431.0h0M1474.6 508.2h0M1487.9 493.9h0M1614.7 482.1h0M1390.3 409.6h0M1411.6 419.8h0M1381.3 452.7h0M1378.9 399.4h0M1431.8 452.5h0M1442.3 411.1h0M1405.4 451.4h0M1383.6 489.1h0M1361.7 440.0h0M1589.6 396.7h0M1365.8 456.6h0M1506.7 478.4h0M1422.3 480.2h0M1502.4 463.8h0M1427.9 480.6h0M1652.7 475.1h0M1385.2 494.4h0M1437.7 396.3h0M1432.6 432.4h0M1446.3 432.2h0M1586.0 405.0h0M1479.4 464.6h0M1392.7 416.2h0M1624.3 406.2h0M1410.9 437.9h0M1381.9 480.7h0M1462.2 415.1h0M1377.3 398.7h0M1404.5 418.8h0M1370.7 460.1h0M1410.1 417.3h0M1498.4 494.5h0M1399.5 394.7h0M1515.6 436.8h0M1364.1 412.5h0M1361.3 441.8h0M1376.2 405.8h0M1618.8 471.9h0M1390.0 469.3h0M1543.3 440.1h0M1391.0 424.6h0M1393.1 409.0h0M1449.6 475.9h0M1386.4 478.7h0M1407.4 409.2h0M1495.2 402.5h0M1476.5 412.0h0M1491.8 403.4h0M1452.2 427.6h0M1498.5 467.8h0M1419.0 463.8h0M1360.0 441.9h0M1396.2 456.7h0M1362.4 473.0h0M1385.5 470.9h0M1496.4 418.7h0M1419.4 445.3h0M1428.3 481.4h0M1566.6 469.6h0M1640.0 493.9h0M1363.3 407.4h0M1429.9 424.5h0M1415.0 429.9h0M1393.6 483.7h0M1380.2 395.9h0M1550.5 450.8h0M1375.3 443.1h0M1364.3 419.1h0M1456.0 450.5h0M1454.1 401.5h0M1694.5 515.6h0M1469.3 422.8h0M1372.2 418.9h0M1377.6 439.1h0M1368.8 442.0h0M1559.1 521.4h0M1389.6 478.5h0M1381.2 438.3h0M1457.2 442.4h0M1425.9 411.5h0M1494.1 482.2h0M1387.5 467.2h0M1413.7 445.3h0M1713.7 401.3h0M1436.1 490.6h0M1527.5 496.4h0M1384.8 443.1h0M1456.3 416.1h0M1436.5 457.0h0M1369.5 410.7h0M1383.0 437.3h0M1417.6 410.7h0M1535.9 447.2h0M1378.3 426.1h0M1519.9 465.0h0M1442.8 458.2h0M1380.7 445.3h0M1507.7 415.0h0M1473.3 467.3h0M1539.9 471.5h0M1590.6 472.9h0M1431.0 398.8h0M1372.2 465.7h0M1385.0 440.7h0M1617.0 549.7h0M1420.5 407.2h0M1407.5 442.8h0M1373.1 416.6h0M1403.5 475.5h0M1468.2 465.4h0M1405.2 395.0h0M1514.8 474.9h0M1396.7 402.0h0M1517.2 431.0h0M1513.8 441.5h0M1396.6 455.3h0M1437.9 404.0h0M1439.8 421.2h0M1404.0 500.1h0M1455.1 396.4h0M1584.6 522.8h0M1635.3 513.4h0M1452.6 499.4h0M1389.0 401.6h0M1369.4 416.4h0M1398.6 450.6h0M1569.0 420.6h0M1627.4 479.9h0M1398.0 415.1h0M1431.4 458.4h0M1373.2 430.8h0M1441.4 484.2h0M1366.1 401.9h0M1440.1 459.7h0M1570.4 401.4h0M1400.0 439.2h0M1692.8 408.0h0M1430.7 476.5h0M1440.5 494.2h0M1385.6 442.2h0M1633.9 408.5h0M1481.4 467.3h0M1410.8 420.2h0M1437.5 402.6h0M1410.3 489.6h0M1436.8 450.8h0M1504.2 398.6h0M1477.4 460.2h0M1702.5 435.4h0M1473.5 396.1h0M1522.4 510.7h0M1397.8 404.8h0M1365.1 427.8h0M1451.2 495.2h0M1405.6 437.3h0M1379.9 402.4h0M1644.9 506.0h0M1439.3 431.7h0M1432.7 394.7h0M1422.2 462.3h0M1511.4 457.2h0M1390.7 432.6h0M1399.9 419.3h0M1526.3 460.1h0M1362.0 464.6h0M1453.4 399.6h0M1528.7 396.7h0M1402.2 487.0h0M1395.1 433.7h0M1387.0 431.0h0M1497.6 401.0h0M1461.7 424.5h0M1459.8 470.3h0M1472.9 482.9h0M1429.5 407.6h0M1424.7 480.9h0M1376.5 434.2h0M1420.6 464.8h0M1595.4 482.3h0M1592.6 475.6h0M1407.0 399.7h0M1687.9 454.0h0M1402.6 453.2h0M1500.4 462.5h0M1584.6 394.7h0M1701.0 486.3h0M1407.8 410.9h0M1364.2 445.3h0M1528.2 514.8h0M1365.0 401.6h0M1548.1 509.1h0M1426.2 482.0h0M1475.0 463.1h0M1372.5 394.7h0M1412.0 451.8h0M1429.2 456.6h0M1508.0 461.4h0M1456.5 434.8h0M1446.7 458.6h0M1554.2 478.4h0M1643.3 413.3h0M1464.7 399.6h0M1601.6 401.5h0M1608.9 401.8h0M1367.0 426.6h0M1391.2 462.5h0M1462.6 445.9h0M1443.6 407.0h0M1375.6 420.5h0M1416.5 453.3h0M1486.6 408.9h0M1642.1 420.1h0M1381.6 475.5h0M1384.2 430.6h0M1369.1 401.6h0M1417.0 488.0h0M1561.2 459.3h0M1397.5 454.9h0M1367.6 435.2h0M1363.5 480.8h0M1461.0 400.6h0M1387.4 420.7h0M1374.8 444.5h0M1364.6 451.4h0M1424.1 405.3h0M1414.1 437.6h0M1434.8 418.3h0M1374.6 435.0h0M1630.7 508.0h0M1482.0 446.7h0M1362.0 444.5h0M1406.4 394.7h0M1707.9 515.2h0M1369.0 442.9h0M1387.7 412.8h0M1494.6 492.2h0M1473.7 503.0h0M1487.2 402.9h0M1395.3 441.5h0M1430.3 469.7h0M1413.5 475.1h0M1659.7 531.8h0M1361.6 480.1h0M1454.4 433.2h0M1428.6 431.7h0M1484.4 440.4h0M1364.9 423.6h0M1539.2 453.3h0M1432.1 451.4h0M1453.7 482.5h0M1622.0 429.3h0M1367.3 451.6h0M1366.9 417.6h0M1406.2 467.1h0M1491.2 438.0h0M1400.9 489.4h0M1434.9 455.4h0M1385.3 472.8h0M1511.1 446.1h0M1523.1 521.7h0M1440.8 439.4h0M1419.9 418.1h0M1572.2 434.3h0M1708.6 584.0h0M1423.5 455.0h0M1360.2 455.1h0M1541.8 512.9h0M1448.1 407.2h0M1477.9 458.9h0M1427.1 443.0h0M1368.4 472.2h0M1395.9 456.6h0M1377.9 428.7h0M1483.7 460.7h0M1423.8 397.2h0M1533.8 416.4h0M1716.2 530.8h0M1509.2 490.8h0M1416.0 411.9h0M1395.4 462.0h0M1373.7 446.8h0M1509.4 438.8h0M1564.1 492.3h0M1519.0 439.0h0M1423.2 448.5h0M1522.3 478.0h0M1549.2 483.2h0M1521.6 458.0h0M1363.1 409.2h0M1451.8 429.3h0M1401.9 412.6h0M1433.9 499.6h0M1401.0 428.8h0M1475.8 449.2h0M1369.7 453.9h0M1414.9 441.9h0M1379.3 440.3h0M1379.4 412.5h0M1399.2 400.2h0M1540.1 416.4h0M1374.0 474.1h0M1487.6 503.9h0M1406.6 443.4h0M1452.9 446.7h0M1476.9 413.0h0M1530.4 491.4h0M1371.2 421.3h0M1485.1 438.9h0M1477.9 419.8h0M1390.4 412.9h0M1503.1 438.4h0M1610.6 490.7h0M1615.4 525.6h0M1471.2 458.2h0M1544.1 502.9h0M1495.7 459.7h0M1361.0 418.6h0M1484.0 482.5h0M1566.0 469.2h0M1368.0 405.0h0M1362.4 456.8h0M1448.9 494.2h0M1405.0 404.8h0M1488.6 443.2h0M1370.7 417.6h0M1421.7 453.2h0M1455.3 467.6h0M1512.0 394.7h0M1603.1 478.3h0M1434.3 481.8h0M1414.3 471.0h0M1378.7 411.0h0M1371.5 449.1h0M1469.8 410.3h0M1376.1 429.5h0M1420.1 453.3h0M1433.1 395.7h0M1586.9 496.2h0M1492.0 489.0h0M1375.3 485.4h0M1365.3 462.3h0M1372.0 414.0h0M1407.2 413.5h0M1470.9 493.1h0M1551.2 427.9h0M1458.8 468.9h0M1610.1 530.8h0M1572.8 420.7h0M1670.0 438.6h0M1459.9 453.4h0M1724.6 497.3h0M1412.1 432.5h0M1625.6 428.3h0M1726.1 424.5h0M1531.6 476.2h0M1404.1 401.1h0M1381.5 403.8h0M1518.1 492.2h0M1424.3 444.2h0M1638.6 580.3h0M1418.4 422.4h0M1398.7 487.3h0M1382.3 412.7h0M1673.9 566.1h0M1403.8 475.9h0M1660.5 431.0h0M1390.9 458.9h0M1376.9 407.2h0M1691.8 539.9h0M1368.3 447.8h0M1538.3 446.1h0M1376.7 412.4h0M1492.7 485.7h0M1378.6 448.9h0M1597.0 467.0h0M1569.4 492.5h0M1674.2 470.7h0M1507.1 524.2h0M1367.9 451.1h0M1471.9 403.2h0M1444.6 404.9h0M1526.0 465.0h0M1451.3 434.0h0M1645.2 550.3h0M1493.2 416.2h0M1575.1 469.2h0M1431.3 451.7h0M1628.6 481.9h0M1685.3 506.3h0M1460.6 490.9h0M1459.4 437.9h0M1490.2 483.3h0M1530.9 398.5h0M1452.8 420.2h0M1426.4 399.6h0M1400.2 397.6h0M1583.3 434.3h0M1449.9 474.5h0M1361.1 452.5h0M1503.5 503.4h0M1501.4 466.2h0M1695.7 465.3h0M1398.1 411.3h0M1467.3 468.8h0M1418.2 452.7h0M1574.8 519.5h0M1438.5 410.3h0M1388.7 479.7h0M1426.4 459.1h0M1437.0 510.4h0M1538.8 416.1h0M1457.6 482.9h0M1451.8 438.9h0M1582.7 446.5h0M1587.9 412.2h0M1371.5 424.5h0M1641.5 494.3h0M1552.7 456.3h0M1429.8 402.6h0M1420.8 462.5h0M1438.4 427.3h0M1481.7 394.7h0M1394.5 456.0h0M1369.7 437.9h0M1397.0 396.9h0M1605.1 409.5h0M1406.0 450.6h0M1558.2 441.3h0M1535.3 468.8h0M1557.1 466.7h0M1450.6 440.2h0M1684.0 415.9h0M1370.9 450.6h0M1392.3 449.5h0M1490.8 456.3h0M1388.5 446.5h0M1389.0 405.9h0M1416.9 455.4h0M1514.2 426.3h0M1362.2 453.8h0M1370.0 410.3h0M1677.2 479.8h0M1711.1 432.0h0M1593.5 466.1h0M1391.3 477.4h0M1375.1 397.0h0M1402.0 435.1h0M1616.2 469.8h0M1648.7 526.5h0M1360.0 465.7h0M1413.2 460.7h0M1479.9 513.6h0M1427.2 446.1h0M1466.3 473.4h0M1406.8 414.4h0M1373.8 413.9h0M1382.7 412.8h0M1510.3 448.7h0M1519.3 476.6h0M1392.2 395.4h0M1545.6 446.0h0M1627.0 416.1h0M1388.7 413.0h0M1377.7 404.4h0M1518.2 465.1h0M1374.0 401.4h0M1559.7 479.4h0M1600.8 436.6h0M1436.2 437.5h0M1444.4 408.9h0M1486.3 493.3h0M1619.7 439.4h0M1581.6 559.7h0M1381.7 396.4h0M1393.3 449.2h0M1371.8 403.5h0M1383.9 447.9h0M1402.8 422.6h0M1408.1 450.0h0M1491.5 436.7h0M1428.1 497.2h0M1445.3 452.0h0M1417.8 464.8h0M1360.8 435.4h0M1500.9 507.5h0M1478.9 424.4h0M1718.5 567.3h0M1586.9 450.4h0M1598.1 521.8h0M1408.8 494.4h0M1379.5 425.3h0M1393.1 444.0h0M1382.9 395.6h0M1680.7 516.9h0M1404.7 493.7h0M1697.9 434.8h0M1565.1 533.8h0M1383.1 437.6h0M1366.7 436.1h0M1440.3 401.2h0M1383.5 406.4h0M1376.4 401.0h0M1461.5 492.3h0M1594.4 457.3h0M1366.3 500.5h0M1365.9 407.1h0M1409.5 425.7h0M1396.2 399.2h0M1662.1 521.6h0M1384.0 486.0h0M1535.0 415.6h0M1389.4 475.7h0M1375.7 438.6h0M1442.0 422.6h0M1470.7 483.7h0M1657.6 534.6h0M1466.9 475.2h0M1655.6 424.2h0M1425.1 419.5h0M1560.8 485.5h0M1388.3 447.3h0M1386.7 394.7h0M1384.5 431.0h0M1415.5 430.1h0M1443.1 443.8h0M1371.1 415.3h0M1478.5 437.2h0M1671.8 502.5h0M1505.2 436.6h0M1447.0 408.2h0M1399.0 476.8h0M1664.8 421.0h0M1721.1 445.6h0M1506.2 495.0h0M1378.2 414.3h0M1650.5 512.1h0M1463.8 434.6h0M1397.1 401.6h0M1604.1 503.8h0M1669.5 468.6h0M1591.7 417.3h0M1368.7 428.8h0M1375.9 474.3h0M1682.1 399.2h0M1374.2 459.7h0M1501.7 402.2h0M1599.9 537.1h0M1534.6 404.4h0M1360.2 412.3h0M1611.7 400.5h0M1546.0 425.7h0M1379.7 420.5h0M1409.1 397.6h0M1545.1 402.0h0M1410.5 476.5h0M1412.6 432.1h0M1415.8 406.8h0M1363.2 473.5h0M1630.3 412.7h0M1533.0 426.4h0M1377.2 453.2h0M1408.2 439.7h0M1446.5 475.2h0M1400.8 394.7h0M1448.6 452.3h0M1441.7 457.7h0M1589.3 406.8h0M1366.2 425.4h0M1489.7 466.1h0M1463.1 470.4h0M1646.9 490.6h0M1469.1 433.1h0M1497.6 436.7h0M1362.7 455.2h0M1654.3 417.6h0M1390.0 490.2h0M1690.6 525.7h0M1449.3 464.8h0M1704.8 537.2h0M1554.3 420.0h0M1394.7 482.3h0M1439.7 426.4h0M1464.9 505.9h0M1361.8 473.3h0M1553.3 504.1h0M1367.4 453.1h0M1632.3 496.6h0M1394.2 490.9h0M1386.2 477.8h0M1527.0 477.4h0M1403.7 401.2h0M1418.5 461.4h0M1498.9 406.5h0M1495.6 416.1h0M1392.1 413.9h0M1676.6 505.1h0M1412.2 396.2h0M1425.6 492.7h0M1395.5 439.5h0M1636.0 483.3h0M1668.0 513.4h0M1431.7 480.1h0M1453.9 440.0h0M1483.2 459.0h0M1612.3 518.2h0M1481.2 480.9h0M1458.4 423.5h0M1417.3 401.7h0M1416.0 466.1h0M1393.9 452.3h0M1435.3 499.0h0M1536.6 398.6h0M1456.7 494.9h0M1596.7 459.1h0M1372.6 444.6h0M1401.5 450.5h0M1463.3 403.3h0M1457.3 473.4h0M1384.7 446.8h0M1493.6 457.0h0M1382.5 448.4h0M1593.1 532.0h0M1499.4 496.7h0M1372.4 447.1h0M1363.8 459.9h0M1516.6 480.3h0M1602.3 456.7h0M1362.9 416.1h0M1460.8 490.0h0M1465.2 395.4h0M1373.4 403.6h0M1470.3 454.9h0M1664.0 407.9h0M1382.3 412.4h0M1438.9 406.3h0M1384.4 394.7h0M1360.4 456.7h0M1421.1 438.3h0M1365.6 441.6h0M1371.1 478.2h0M1439.1 438.9h0M1525.3 419.0h0M1562.0 484.8h0M1471.7 468.1h0M1578.5 512.0h0M1401.7 447.0h0M1573.7 460.6h0M1424.5 475.7h0M1475.3 501.7h0M1542.8 441.0h0M1371.7 463.5h0M1380.1 467.7h0M1414.6 414.9h0M1580.4 447.2h0M1422.0 469.6h0M1412.8 465.5h0M1365.4 438.0h0M1410.0 398.0h0M1515.9 406.9h0M1426.9 443.6h0M1489.1 442.4h0M1508.3 438.3h0M1443.2 424.8h0M1416.3 488.4h0M1485.8 447.1h0M1546.8 483.8h0M1537.7 454.1h0M1392.9 487.7h0M1537.2 461.4h0M1468.6 443.2h0M1408.6 458.5h0M1487.1 414.3h0M1441.1 500.0h0M1448.5 469.1h0M1415.3 466.6h0M1447.2 460.1h0M1532.4 521.4h0M1543.9 411.0h0M1445.6 424.0h0M1425.0 457.6h0M1428.9 454.4h0M1364.7 446.4h0M1391.8 441.9h0M1387.1 439.6h0M1455.6 448.3h0M1613.3 521.1h0M1429.3 460.2h0M1552.1 468.2h0M1480.8 402.3h0M1374.5 437.0h0M1391.6 424.5h0M1427.4 458.2h0M1427.7 463.7h0M1402.9 454.3h0M1633.0 460.1h0M1419.2 485.3h0M1380.6 407.7h0M1413.9 460.0h0M1598.6 416.3h0M1496.9 455.1h0M1366.8 433.1h0M1482.9 462.5h0M1434.1 429.5h0M1508.6 421.3h0M1722.2 477.9h0M1392.6 411.0h0M1380.9 463.8h0M1372.8 470.5h0M1504.0 488.7h0M1556.1 448.7h0M1564.7 475.6h0M1398.8 429.9h0M1393.5 426.9h0M1386.9 404.2h0M1513.2 460.1h0M1620.5 439.7h0M1541.2 534.6h0M1445.0 429.8h0M1478.8 467.6h0M1461.9 418.7h0M1557.9 416.8h0M1375.9 492.5h0M1513.3 501.8h0M1454.6 426.3h0M1416.8 448.1h0M1361.5 407.6h0M1408.5 395.9h0M1450.3 431.5h0M1637.2 498.3h0M1712.9 453.2h0M1494.4 492.5h0M1699.0 515.9h0M1397.3 454.0h0M1563.2 461.4h0M1623.4 467.0h0M1556.3 511.1h0M1375.0 486.1h0M1521.1 460.0h0M1502.2 394.7h0M1433.3 409.6h0M1488.8 449.2h0M1476.0 411.8h0M1727.4 405.0h0M1479.7 463.7h0M1679.3 440.9h0M1396.5 457.4h0M1463.4 397.1h0M1450.9 436.2h0M1434.5 430.9h0M1533.6 395.5h0M1529.4 475.5h0M1378.1 418.7h0M1370.0 428.9h0M1717.7 419.0h0M1567.1 539.0h0M1656.9 534.5h0M1555.5 503.5h0M1541.5 455.8h0M1705.3 428.7h0M1571.6 433.8h0M1403.4 452.1h0M1623.0 506.4h0M1576.7 492.9h0M1476.8 460.9h0M1581.2 495.7h0M1412.6 452.6h0M1511.6 396.6h0M1484.9 402.4h0M1381.1 453.0h0M1417.8 494.3h0M1570.8 421.4h0M1435.8 416.5h0M1385.8 459.1h0M1467.8 436.6h0M1418.7 452.0h0M1411.3 436.1h0M1505.6 503.8h0M1385.9 436.5h0M1404.4 481.9h0M1515.1 452.2h0M1374.4 453.0h0M1405.8 506.1h0M1411.1 494.5h0M1485.4 415.7h0M1405.6 474.2h0M1394.4 394.7h0M1500.1 466.1h0M1386.5 408.2h0M1383.3 410.7h0M1464.2 460.9h0M1370.3 423.8h0M1549.5 491.1h0M1366.5 446.4h0M1568.1 479.0h0M1362.8 452.6h0M1520.4 403.2h0M1531.3 520.5h0M1363.5 468.5h0M1409.6 482.2h0M1464.4 399.8h0M1363.7 433.9h0M1364.5 397.7h0M1369.1 421.7h0M1467.3 499.4h0M1548.3 519.6h0M1523.7 425.0h0M1474.1 474.2h0M1499.7 414.0h0M1425.5 420.1h0M1433.6 440.6h0M1411.8 465.5h0M1547.2 437.3h0M1606.2 428.8h0M1402.4 468.8h0M1517.4 396.7h0M1459.1 422.5h0M1419.8 404.7h0M1445.1 421.7h0M1422.9 474.1h0M1647.9 484.1h0M1472.2 400.1h0M1466.0 443.6h0M1509.9 402.0h0M1447.7 507.9h0M1395.8 470.2h0M1379.0 396.7h0M1443.7 425.7h0M1460.2 469.5h0M1607.5 422.8h0M1401.2 439.2h0M1403.1 418.1h0M1422.6 437.3h0M1449.5 468.7h0M1520.7 478.0h0M1409.1 436.6h0M1512.5 511.2h0M1423.7 444.5h0M1394.8 452.8h0M1466.6 477.8h0M1398.4 405.7h0M1490.0 468.8h0M1465.6 429.1h0M1378.5 476.4h0M1377.4 402.8h0M1492.3 496.7h0M1458.0 468.9h0M1399.7 437.8h0M1480.5 433.8h0M1435.5 398.3h0M1388.1 435.0h0M1524.0 472.4h0M1386.0 441.0h0M1364.0 456.8h0M1397.6 491.6h0M1529.7 433.8h0M1413.1 472.6h0M1496.6 405.8h0M1370.2 434.9h0M1368.5 394.8h0M1482.6 442.9h0M1389.7 453.5h0M1446.0 456.7h0M1394.0 491.1h0M1389.3 473.1h0M1388.2 467.1h0M1579.9 533.5h0M1367.6 412.6h0M1458.1 464.8h0M1421.2 473.2h0M1414.6 455.0h0M1383.7 424.3h0M1379.8 474.9h0M1370.5 472.6h0M1399.4 467.1h0M1400.7 407.9h0M1390.6 464.6h0M1687.2 533.6h0M1391.7 470.6h0M1483.5 495.3h0M1474.3 455.9h0M1527.8 482.5h0M1442.4 477.8h0M1577.8 447.1h0M1387.8 399.9h0M1373.0 428.6h0M1665.6 520.6h0M1360.9 401.7h0M1367.1 397.4h0M1373.5 479.9h0M1432.3 407.2h0M1505.0 462.7h0M1407.8 435.8h0M1400.5 483.2h0M1468.4 477.5h0M1606.9 420.2h0M1551.1 439.7h0M1360.6 432.0h0M1504.7 408.8h0M1422.9 438.3h0M1437.3 470.2h0M1447.7 448.1h0M1430.3 519.1h0M1382.0 453.0h0M1562.2 426.6h0M1469.9 473.9h0M1577.0 408.3h0M1524.7 493.8h0M1444.0 410.8h0M1419.6 471.1h0M1575.7 510.3h0M1472.6 469.5h0M1360.5 401.1h0M1524.5 436.3h0M1421.4 460.2h0M1409.8 456.6h0M1380.4 453.1h0M1365.6 437.1h0M1651.9 406.8h0M1376.8 411.7h0M1804.4 400.9h0M1773.4 405.8h0M1754.5 413.6h0M1760.8 411.5h0M1758.1 417.8h0M1772.8 413.8h0M1772.4 421.6h0M1883.9 408.5h0M2016.2 398.8h0M1843.9 421.2h0M1738.3 426.4h0M1751.7 433.4h0M1852.8 438.0h0M1733.6 441.6h0M1727.5 447.3h0M1818.3 441.8h0M1829.2 459.1h0M1739.3 463.9h0M1759.3 462.6h0M1883.5 468.3h0M1923.5 459.9h0M1935.5 463.1h0M1795.5 482.0h0M1798.7 482.0h0M1748.2 488.1h0M1765.0 512.7h0M1826.7 511.1h0M1737.8 522.2h0M1781.6 519.9h0M1728.2 529.2h0M1766.9 531.3h0M1787.3 538.6h0M1845.0 534.2h0M1842.9 546.2h0M1878.1 541.2h0M1877.0 544.7h0M1923.7 547.5h0M1819.7 552.1h0M2043.9 557.4h0M1728.2 569.2h0M1734.9 569.2h0M1761.6 568.9h0M1770.9 572.7h0M1761.8 577.6h0M1769.2 579.7h0M1784.6 577.6h0M1812.4 583.3h0M1825.4 589.6h0M1848.8 586.8h0M1854.3 592.3h0M1795.5 593.8h0M1874.3 596.7h0M1893.0 598.6h0M1906.5 594.4h0M1891.3 577.2h0M1926.7 574.8h0M1859.7 611.9h0M2049.8 591.5h0M2111.5 629.2h0M2064.8 689.4h0M2121.8 705.2h0M2128.2 706.4h0" stroke="#728386" stroke-width="7.4" stroke-linecap="round" fill="none"/><line x1="1356.3" y1="353.5" x2="2081.7" y2="202.4" stroke="#dc4f1e" stroke-width="5.2"/><line x1="1356.3" y1="425.6" x2="2130.6" y2="575.1" stroke="#2cc940" stroke-width="5.2"/><path d="M1320.5 89.0V736.6H2170.0" stroke="#111418" stroke-width="2.2" fill="none" stroke-linecap="square"/><path d="M1320.5 94.7h-10M1320.5 169.3h-10M1320.5 244.0h-10M1320.5 318.6h-10M1320.5 393.2h-10M1320.5 467.8h-10M1320.5 542.4h-10M1320.5 617.1h-10M1320.5 691.7h-10M1322.9 736.6v10M1438.9 736.6v10M1554.9 736.6v10M1670.9 736.6v10M1786.8 736.6v10M1902.8 736.6v10M2018.8 736.6v10M2134.8 736.6v10" stroke="#111418" stroke-width="2" fill="none"/><text class="dv" x="1300.5" y="106.7" font-size="29.3" text-anchor="end" fill="#111418">0.8</text><text class="dv" x="1300.5" y="181.3" font-size="29.3" text-anchor="end" fill="#111418">0.6</text><text class="dv" x="1300.5" y="256.0" font-size="29.3" text-anchor="end" fill="#111418">0.4</text><text class="dv" x="1300.5" y="330.6" font-size="29.3" text-anchor="end" fill="#111418">0.2</text><text class="dv" x="1300.5" y="405.2" font-size="29.3" text-anchor="end" fill="#111418">0.0</text><text class="dv" x="1300.5" y="479.8" font-size="29.3" text-anchor="end" fill="#111418">−0.2</text><text class="dv" x="1300.5" y="554.4" font-size="29.3" text-anchor="end" fill="#111418">−0.4</text><text class="dv" x="1300.5" y="629.1" font-size="29.3" text-anchor="end" fill="#111418">−0.6</text><text class="dv" x="1300.5" y="703.7" font-size="29.3" text-anchor="end" fill="#111418">−0.8</text><text class="dv" font-size="29.3" text-anchor="middle" fill="#111418" transform="translate(1321.6 781.2) rotate(-45)" y="10.7">0.2</text><text class="dv" font-size="29.3" text-anchor="middle" fill="#111418" transform="translate(1437.6 781.2) rotate(-45)" y="10.7">0.3</text><text class="dv" font-size="29.3" text-anchor="middle" fill="#111418" transform="translate(1553.6 781.2) rotate(-45)" y="10.7">0.4</text><text class="dv" font-size="29.3" text-anchor="middle" fill="#111418" transform="translate(1669.6 781.2) rotate(-45)" y="10.7">0.5</text><text class="dv" font-size="29.3" text-anchor="middle" fill="#111418" transform="translate(1785.5 781.2) rotate(-45)" y="10.7">0.6</text><text class="dv" font-size="29.3" text-anchor="middle" fill="#111418" transform="translate(1901.5 781.2) rotate(-45)" y="10.7">0.7</text><text class="dv" font-size="29.3" text-anchor="middle" fill="#111418" transform="translate(2017.5 781.2) rotate(-45)" y="10.7">0.8</text><text class="dv" font-size="29.3" text-anchor="middle" fill="#111418" transform="translate(2133.5 781.2) rotate(-45)" y="10.7">0.9</text><text class="dv" x="1366.3" y="119.4" font-size="29.1" fill="#d4552a">Pearson 0.589</text><text class="dv" x="1366.5" y="707.8" font-size="29.1" fill="#34c04f">Pearson -0.574</text><text class="ls" x="1638.0" y="44.0" font-size="44.8" fill="#111418" textLength="160.2" lengthAdjust="spacingAndGlyphs">Basenji2</text><text class="ls" font-size="30.5" fill="#111418" transform="translate(1213.4 674.4) rotate(-90)" textLength="523.0" lengthAdjust="spacingAndGlyphs">Basenji2 cross-individual correlation</text><text class="ls" x="1529.4" y="847.9" font-size="33.7" fill="#111418" textLength="397.1" lengthAdjust="spacingAndGlyphs">Top eQTL effect size |rvalue|</text><text class="ls" x="1119.1" y="44.6" font-size="58" font-weight="bold" fill="#000">b</text></g>
<g><path d="M386.1 1270.4h0M229.8 1314.1h0M465.1 1270.8h0M246.0 1374.6h0M353.0 1317.9h0M234.0 1315.6h0M450.1 1298.8h0M455.2 1363.4h0M330.5 1312.8h0M274.9 1331.1h0M332.5 1369.2h0M490.6 1363.1h0M364.3 1334.9h0M385.7 1307.0h0M237.8 1343.1h0M229.4 1327.3h0M284.1 1324.3h0M378.7 1321.0h0M292.0 1270.6h0M282.7 1311.0h0M235.1 1373.2h0M586.2 1347.6h0M361.9 1338.6h0M310.1 1280.4h0M458.1 1320.8h0M358.4 1286.6h0M220.9 1307.6h0M453.4 1312.0h0M424.9 1317.0h0M549.5 1316.7h0M308.5 1351.0h0M345.0 1342.8h0M411.4 1312.7h0M266.2 1351.3h0M249.9 1268.7h0M222.0 1361.6h0M311.6 1274.2h0M449.0 1358.1h0M345.1 1335.6h0M283.6 1346.9h0M223.2 1352.7h0M238.3 1308.1h0M273.8 1349.2h0M265.6 1319.1h0M528.0 1371.8h0M230.3 1372.5h0M371.7 1270.4h0M308.6 1332.8h0M288.9 1377.6h0M329.8 1333.9h0M272.0 1348.4h0M500.6 1356.6h0M303.3 1340.0h0M370.8 1316.7h0M280.1 1326.7h0M272.2 1299.4h0M341.1 1273.2h0M232.2 1299.2h0M359.6 1263.1h0M253.0 1276.8h0M267.0 1332.5h0M330.9 1335.7h0M312.5 1351.4h0M317.3 1356.7h0M405.9 1314.5h0M288.7 1276.2h0M357.8 1363.3h0M343.1 1304.0h0M449.2 1313.4h0M379.0 1314.8h0M448.0 1349.1h0M231.5 1360.1h0M568.1 1367.7h0M365.1 1338.8h0M247.6 1374.5h0M270.2 1358.8h0M319.6 1339.1h0M286.9 1326.5h0M297.6 1297.5h0M418.3 1289.2h0M345.5 1335.7h0M510.9 1331.4h0M256.4 1292.2h0M269.6 1359.6h0M349.9 1378.3h0M330.7 1361.6h0M282.9 1335.2h0M386.8 1345.2h0M350.7 1352.3h0M408.7 1291.1h0M242.3 1304.6h0M242.0 1330.8h0M240.7 1377.3h0M262.1 1346.5h0M275.7 1365.2h0M354.8 1358.1h0M232.6 1341.7h0M328.3 1331.1h0M283.8 1373.4h0M413.2 1378.1h0M531.2 1298.8h0M576.6 1287.9h0M535.5 1307.7h0M269.5 1318.7h0M310.5 1315.2h0M221.3 1369.0h0M235.1 1360.1h0M285.8 1293.0h0M270.9 1282.5h0M273.6 1344.4h0M393.8 1347.9h0M279.5 1322.0h0M555.4 1349.2h0M409.7 1238.5h0M247.1 1306.6h0M233.4 1324.8h0M228.5 1312.1h0M307.4 1261.8h0M261.2 1336.5h0M371.3 1362.0h0M245.3 1291.9h0M589.0 1213.2h0M246.6 1286.5h0M298.2 1378.3h0M269.1 1361.6h0M219.7 1362.3h0M313.9 1376.7h0M241.3 1322.4h0M404.6 1291.2h0M223.8 1376.9h0M373.0 1324.7h0M231.1 1329.0h0M259.4 1331.1h0M349.4 1283.8h0M462.5 1241.0h0M285.4 1303.6h0M410.1 1355.0h0M239.5 1327.3h0M296.2 1299.4h0M313.2 1306.2h0M237.0 1368.0h0M392.3 1299.8h0M472.7 1238.4h0M258.2 1301.7h0M235.7 1343.4h0M222.6 1378.3h0M335.8 1377.7h0M221.8 1365.9h0M229.6 1367.3h0M285.0 1281.9h0M363.1 1296.6h0M549.4 1316.7h0M316.3 1307.0h0M267.1 1351.8h0M241.7 1336.3h0M238.1 1372.1h0M325.8 1336.3h0M393.1 1278.7h0M256.6 1314.1h0M317.0 1288.5h0M282.0 1312.2h0M327.0 1370.8h0M249.6 1378.0h0M322.3 1357.7h0M279.2 1354.8h0M376.5 1296.2h0M358.2 1332.9h0M345.6 1284.6h0M275.5 1277.5h0M285.6 1293.5h0M474.8 1358.7h0M572.0 1201.7h0M283.0 1310.2h0M418.6 1366.4h0M242.8 1332.7h0M218.5 1365.8h0M335.3 1364.1h0M220.8 1341.3h0M227.8 1355.7h0M397.7 1348.3h0M295.0 1240.9h0M405.2 1233.5h0M293.8 1321.2h0M369.6 1325.4h0M293.5 1330.3h0M255.3 1305.1h0M337.9 1374.3h0M316.6 1282.5h0M467.5 1347.0h0M283.9 1290.3h0M451.6 1346.5h0M513.5 1287.4h0M263.4 1308.3h0M427.7 1252.4h0M492.5 1334.6h0M284.8 1291.5h0M264.2 1372.7h0M238.7 1364.2h0M342.1 1311.8h0M260.8 1336.0h0M226.4 1372.0h0M304.7 1294.6h0M248.8 1363.9h0M441.2 1348.3h0M266.3 1371.0h0M518.6 1259.9h0M297.3 1376.9h0M328.0 1374.4h0M221.3 1288.6h0M274.7 1378.3h0M463.9 1347.2h0M303.1 1251.6h0M347.4 1360.7h0M344.3 1346.2h0M356.8 1318.3h0M344.0 1262.0h0M324.6 1359.0h0M331.2 1363.0h0M243.7 1319.1h0M329.4 1339.3h0M249.7 1338.0h0M252.7 1328.3h0M312.9 1279.0h0M219.2 1324.6h0M460.2 1354.3h0M301.4 1277.2h0M394.8 1349.9h0M409.4 1304.7h0M252.4 1325.1h0M429.4 1352.9h0M219.0 1370.8h0M267.3 1343.6h0M389.3 1367.8h0M265.4 1308.0h0M407.2 1355.3h0M307.0 1337.0h0M253.0 1292.9h0M397.0 1358.9h0M263.8 1374.2h0M418.8 1330.5h0M342.3 1285.4h0M248.7 1300.4h0M434.2 1372.0h0M340.5 1362.2h0M446.2 1358.5h0M249.0 1370.8h0M354.2 1368.6h0M396.5 1366.4h0M292.4 1376.6h0M346.2 1362.5h0M344.5 1340.3h0M432.8 1361.0h0M274.2 1301.9h0M450.7 1303.0h0M369.9 1374.5h0M256.8 1334.5h0M469.4 1252.8h0M349.0 1305.6h0M379.5 1331.6h0M445.6 1367.2h0M323.9 1357.0h0M258.0 1327.8h0M421.6 1339.4h0M279.1 1307.0h0M287.3 1310.5h0M270.6 1306.2h0M543.8 1276.4h0M276.1 1374.0h0M223.5 1312.9h0M368.3 1293.6h0M351.9 1275.0h0M283.4 1339.5h0M348.8 1302.7h0M550.9 1312.6h0M317.6 1308.7h0M322.6 1298.3h0M297.2 1308.4h0M221.7 1317.8h0M373.4 1307.8h0M507.1 1360.1h0M249.9 1333.5h0M557.6 1363.7h0M257.6 1329.2h0M269.4 1336.2h0M231.6 1330.6h0M346.8 1314.0h0M319.4 1357.3h0M241.1 1346.8h0M279.8 1333.1h0M316.4 1358.2h0M503.2 1318.3h0M310.9 1295.6h0M371.9 1310.7h0M255.5 1350.5h0M315.1 1302.4h0M260.6 1313.6h0M239.8 1286.2h0M372.1 1352.3h0M433.2 1308.7h0M504.6 1298.1h0M459.0 1361.9h0M263.6 1352.0h0M505.2 1218.6h0M479.7 1280.6h0M246.5 1346.3h0M561.7 1374.2h0M403.5 1333.9h0M405.6 1306.1h0M401.9 1278.5h0M276.9 1330.1h0M445.3 1294.5h0M277.2 1282.0h0M424.1 1361.9h0M224.6 1378.3h0M347.0 1307.3h0M461.5 1260.1h0M279.5 1260.6h0M239.4 1356.3h0M226.3 1361.5h0M419.7 1378.3h0M282.2 1337.7h0M573.5 1361.2h0M276.2 1354.0h0M234.9 1329.5h0M245.0 1323.2h0M509.8 1217.0h0M415.8 1301.0h0M414.4 1316.2h0M220.5 1311.2h0M233.2 1300.3h0M268.1 1309.9h0M447.3 1326.1h0M244.5 1327.2h0M496.4 1281.6h0M412.5 1317.5h0M374.2 1378.3h0M415.1 1354.4h0M377.7 1318.0h0M510.3 1296.6h0M563.7 1363.6h0M357.1 1372.0h0M264.4 1330.3h0M311.0 1246.5h0M407.6 1296.3h0M569.7 1369.8h0M247.0 1291.3h0M387.9 1347.5h0M237.3 1334.4h0M286.6 1322.2h0M580.4 1292.9h0M249.4 1356.5h0M434.9 1256.3h0M271.9 1316.4h0M238.2 1290.6h0M320.0 1312.2h0M278.9 1357.6h0M246.9 1325.3h0M225.7 1350.4h0M324.0 1345.9h0M432.5 1361.1h0M227.2 1339.9h0M430.9 1262.0h0M246.3 1372.0h0M463.4 1306.3h0M356.3 1313.1h0M250.3 1301.9h0M377.4 1335.0h0M314.2 1286.3h0M425.9 1341.1h0M406.7 1286.2h0M399.3 1273.6h0M269.8 1371.2h0M245.2 1330.6h0M295.3 1272.0h0M309.2 1273.1h0M277.9 1305.5h0M328.7 1284.5h0M322.4 1374.0h0M307.9 1339.5h0M296.0 1315.3h0M334.9 1377.2h0M241.0 1286.6h0M324.3 1377.5h0M313.5 1378.1h0M441.8 1322.9h0M517.7 1363.1h0M255.8 1349.9h0M456.5 1340.4h0M285.2 1366.5h0M426.7 1280.7h0M355.5 1277.0h0M312.2 1308.3h0M254.6 1370.4h0M395.9 1278.9h0M260.5 1347.1h0M368.8 1263.1h0M290.5 1351.6h0M238.5 1300.0h0M280.7 1316.6h0M292.9 1278.1h0M261.8 1367.3h0M220.0 1362.1h0M363.7 1312.4h0M271.5 1288.9h0M251.5 1306.7h0M229.9 1306.2h0M278.2 1329.3h0M538.2 1228.5h0M331.1 1303.0h0M468.6 1367.8h0M422.1 1292.2h0M293.0 1295.4h0M525.8 1261.2h0M224.5 1355.1h0M289.7 1308.6h0M234.2 1366.6h0M486.8 1334.5h0M314.6 1352.1h0M364.7 1371.4h0M423.8 1269.0h0M341.9 1332.9h0M309.6 1297.5h0M336.6 1330.0h0M453.7 1375.9h0M322.0 1285.3h0M354.5 1286.5h0M300.3 1288.5h0M290.1 1305.9h0M231.3 1365.6h0M286.5 1308.7h0M362.5 1273.0h0M253.7 1344.3h0M284.3 1358.3h0M226.8 1356.2h0M375.6 1365.8h0M362.2 1286.3h0M260.2 1370.0h0M232.5 1290.5h0M230.9 1347.7h0M246.1 1378.3h0M305.0 1348.8h0M337.7 1261.8h0M323.6 1326.5h0M332.7 1291.4h0M485.9 1377.3h0M365.7 1310.4h0M327.4 1365.7h0M220.5 1336.8h0M236.0 1316.3h0M259.1 1296.9h0M297.9 1264.6h0M398.4 1378.3h0M301.9 1365.4h0M365.2 1378.3h0M330.1 1298.4h0M566.8 1190.7h0M472.1 1317.7h0M491.8 1374.6h0M477.6 1365.6h0M370.1 1278.2h0M345.9 1261.0h0M258.8 1359.0h0M376.1 1378.3h0M247.3 1320.0h0M484.5 1339.4h0M223.4 1365.6h0M360.4 1335.9h0M457.8 1314.8h0M265.9 1284.1h0M231.0 1362.9h0M230.2 1309.6h0M485.1 1285.5h0M493.6 1349.6h0M234.6 1364.3h0M348.6 1356.8h0M531.8 1267.9h0M384.8 1354.5h0M488.7 1227.3h0M300.2 1305.0h0M327.6 1288.5h0M259.6 1324.1h0M363.2 1254.6h0M515.8 1248.5h0M257.5 1284.1h0M476.4 1282.2h0M350.4 1364.1h0M494.9 1212.7h0M269.0 1331.7h0M254.2 1375.9h0M355.7 1295.9h0M239.2 1333.3h0M296.7 1346.0h0M239.9 1372.3h0M422.9 1319.0h0M243.5 1373.9h0M259.2 1293.4h0M348.1 1269.9h0M256.3 1327.6h0M315.3 1287.7h0M361.4 1361.4h0M237.6 1367.4h0M237.6 1327.9h0M302.2 1371.6h0M250.8 1357.0h0M380.7 1286.8h0M221.5 1333.2h0M274.2 1301.0h0M299.8 1324.2h0M226.7 1378.3h0M529.8 1277.6h0M388.9 1324.0h0M250.6 1336.2h0M583.6 1284.1h0M353.7 1287.9h0M287.4 1366.1h0M270.4 1316.7h0M295.7 1308.6h0M367.7 1308.4h0M258.8 1288.9h0M360.1 1298.5h0M226.2 1305.5h0M392.8 1369.5h0M380.0 1307.3h0M235.2 1367.0h0M265.6 1296.0h0M273.1 1315.7h0M499.5 1268.2h0M245.1 1313.1h0M287.8 1341.5h0M581.7 1270.1h0M331.9 1284.2h0M552.7 1279.6h0M339.3 1313.2h0M257.1 1367.6h0M364.3 1258.3h0M306.7 1331.9h0M220.1 1370.2h0M282.3 1363.1h0M361.5 1322.0h0M253.8 1316.6h0M323.0 1258.4h0M295.5 1364.9h0M398.9 1267.1h0M387.3 1304.9h0M304.2 1263.4h0M242.8 1344.5h0M533.5 1286.3h0M301.6 1313.8h0M261.0 1329.7h0M304.9 1265.8h0M288.3 1342.5h0M243.4 1343.8h0M559.5 1280.9h0M333.5 1374.3h0M307.9 1322.8h0M240.6 1293.9h0M233.1 1284.2h0M395.5 1352.2h0M338.5 1342.1h0M271.0 1287.1h0M231.4 1366.8h0M267.6 1336.1h0M320.3 1352.4h0M281.3 1290.1h0M374.7 1338.7h0M357.4 1298.2h0M328.9 1363.1h0M251.9 1304.3h0M310.0 1331.3h0M402.9 1282.1h0M222.3 1315.0h0M276.6 1299.3h0M244.4 1292.3h0M321.1 1324.9h0M234.8 1346.9h0M252.6 1276.5h0M228.8 1349.3h0M587.6 1302.7h0M277.8 1371.8h0M233.6 1324.5h0M377.2 1278.7h0M227.7 1348.4h0M546.3 1349.7h0M266.8 1308.7h0M343.8 1335.2h0M268.9 1296.8h0M584.3 1217.7h0M295.2 1308.6h0M522.5 1277.1h0M280.4 1292.4h0M438.2 1266.2h0M412.3 1373.1h0M378.0 1328.2h0M294.4 1362.0h0M396.9 1348.0h0M501.9 1285.0h0M306.2 1354.8h0M247.4 1326.2h0M517.0 1250.8h0M467.9 1368.3h0M243.5 1293.1h0M254.0 1333.7h0M554.1 1363.9h0M238.9 1312.8h0M352.7 1266.5h0M455.7 1358.0h0M251.7 1337.7h0M442.8 1345.2h0M247.9 1337.6h0M390.7 1367.2h0M475.7 1318.3h0M242.1 1317.6h0M341.5 1328.5h0M465.0 1350.8h0M378.3 1377.5h0M417.8 1322.9h0M349.6 1264.1h0M325.6 1267.1h0M427.3 1238.9h0M381.1 1353.9h0M496.2 1339.6h0M340.1 1297.7h0M321.8 1317.4h0M397.9 1377.9h0M547.9 1283.8h0M286.1 1324.1h0M301.3 1304.2h0M294.1 1327.3h0M352.3 1351.9h0M413.4 1355.7h0M319.1 1287.6h0M228.4 1311.1h0M316.0 1378.3h0M249.3 1298.1h0M240.3 1352.5h0M375.9 1259.8h0M254.9 1304.0h0M448.2 1330.9h0M253.5 1326.8h0M341.3 1282.9h0M391.6 1317.5h0M319.5 1307.7h0M261.4 1342.5h0M334.3 1318.4h0M370.4 1324.9h0M487.2 1276.6h0M297.7 1337.7h0M335.7 1337.3h0M241.6 1346.7h0M266.7 1308.6h0M435.1 1290.1h0M373.8 1318.1h0M271.3 1289.0h0M289.2 1367.9h0M293.3 1305.4h0M318.2 1328.8h0M262.7 1342.4h0M263.7 1295.9h0M265.1 1367.3h0M262.3 1361.4h0M454.1 1341.4h0M254.8 1307.7h0M278.3 1328.6h0M274.5 1292.2h0M326.7 1333.0h0M224.9 1351.2h0M494.6 1378.3h0M223.0 1313.2h0M323.1 1374.7h0M535.0 1216.6h0M277.2 1261.6h0M488.2 1374.7h0M232.8 1378.3h0M236.1 1326.8h0M321.4 1348.6h0M384.3 1304.8h0M408.3 1341.4h0M306.5 1341.2h0M334.5 1345.4h0M219.3 1330.9h0M388.2 1264.5h0M222.2 1352.0h0M429.3 1269.4h0M244.1 1373.3h0M474.2 1329.1h0M281.5 1351.8h0M526.7 1249.2h0M320.3 1310.8h0M224.7 1329.2h0M304.4 1343.4h0M350.1 1321.3h0M285.9 1294.2h0M364.0 1347.4h0M503.6 1367.4h0M305.9 1314.1h0M440.4 1358.1h0M514.8 1257.0h0M292.5 1332.1h0M233.8 1351.3h0M247.7 1341.3h0M301.9 1352.3h0M227.3 1355.8h0M287.6 1286.9h0M478.8 1308.1h0M325.2 1329.2h0M431.4 1330.2h0M228.1 1359.1h0M438.8 1306.4h0M336.0 1364.3h0M268.6 1339.7h0M225.2 1311.7h0M428.3 1356.5h0M320.6 1308.0h0M268.7 1324.2h0M303.7 1352.1h0M300.0 1351.0h0M278.5 1309.1h0M299.3 1324.2h0M533.3 1230.6h0M466.3 1269.8h0M262.0 1301.1h0M262.8 1283.7h0M298.8 1360.2h0M272.7 1313.3h0M360.7 1300.3h0M359.0 1270.4h0M462.8 1321.2h0M368.7 1284.6h0M367.6 1260.9h0M359.4 1300.9h0M261.6 1272.5h0M299.0 1293.5h0M231.7 1358.9h0M305.6 1346.6h0M336.3 1293.2h0M483.5 1310.4h0M331.7 1339.0h0M365.8 1358.7h0M232.3 1353.9h0M218.5 1362.8h0M451.9 1293.2h0M353.4 1284.6h0M356.6 1336.1h0M299.5 1349.7h0M275.1 1310.7h0M245.8 1335.5h0M248.2 1302.6h0M435.6 1369.1h0M422.3 1339.8h0M347.4 1346.6h0M227.0 1309.7h0M565.2 1302.6h0M337.3 1350.7h0M291.9 1356.2h0M311.2 1281.2h0M284.7 1328.9h0M374.2 1312.9h0M310.3 1297.6h0M274.9 1364.4h0M273.4 1305.2h0M239.7 1313.7h0M556.1 1268.3h0M469.2 1339.3h0M242.5 1312.6h0M340.3 1366.9h0M260.0 1323.8h0M382.2 1272.3h0M236.6 1350.4h0M281.8 1330.9h0M333.9 1282.8h0M300.7 1300.8h0M439.3 1256.8h0M258.4 1303.1h0M314.9 1338.7h0M377.0 1347.4h0M222.8 1345.4h0M267.9 1272.5h0M302.9 1300.7h0M391.2 1275.7h0M314.1 1285.0h0M394.3 1325.0h0M490.0 1307.7h0M236.5 1360.1h0M459.5 1283.4h0M361.1 1340.0h0M272.5 1363.6h0M245.5 1302.4h0M244.8 1333.2h0M294.0 1279.3h0M385.4 1300.0h0M281.2 1336.8h0M351.3 1267.8h0M512.9 1195.8h0M339.8 1297.1h0M326.3 1305.1h0M261.3 1331.5h0M264.5 1334.4h0M384.8 1312.2h0M401.1 1296.9h0M421.0 1290.8h0M308.9 1306.2h0M523.2 1338.4h0M288.5 1308.1h0M315.8 1311.2h0M505.8 1320.2h0M251.3 1350.9h0M348.3 1367.7h0M275.4 1371.0h0M536.9 1317.1h0M383.1 1272.2h0M223.1 1351.3h0M224.4 1363.6h0M291.2 1341.5h0M430.3 1280.0h0M218.9 1348.3h0M480.8 1229.7h0M268.0 1288.4h0M219.5 1354.7h0M273.2 1313.9h0M276.8 1323.4h0M471.5 1309.3h0M219.4 1342.3h0M224.1 1329.7h0M308.2 1273.1h0M406.1 1275.4h0M383.2 1245.7h0M465.9 1256.3h0M437.5 1270.7h0M307.1 1317.4h0M420.5 1300.1h0M578.8 1330.7h0M312.0 1272.5h0M353.1 1335.1h0M332.2 1376.7h0M232.0 1365.4h0M436.9 1365.7h0M529.1 1296.1h0M235.8 1310.0h0M293.3 1287.9h0M392.6 1309.6h0M233.9 1356.0h0M433.9 1238.6h0M456.9 1310.3h0M338.2 1282.2h0M229.2 1330.7h0M237.4 1367.4h0M351.5 1279.7h0M316.8 1282.5h0M306.2 1302.2h0M402.5 1305.4h0M230.5 1346.2h0M403.1 1317.1h0M428.6 1338.6h0M355.0 1348.9h0M224.3 1341.3h0M353.9 1373.9h0M218.7 1362.6h0M274.0 1315.8h0M324.7 1305.9h0M259.7 1294.2h0M256.9 1306.6h0M390.0 1372.1h0M238.9 1357.0h0M301.0 1263.1h0M570.2 1256.1h0M240.1 1350.8h0M337.0 1333.1h0M242.5 1327.2h0M437.0 1253.5h0M223.6 1354.0h0M230.1 1348.3h0M382.4 1362.9h0M358.7 1338.1h0M415.7 1356.4h0M230.5 1371.0h0M272.9 1330.8h0M290.8 1321.6h0M260.2 1360.4h0M240.3 1292.9h0M255.5 1297.5h0M381.6 1321.6h0M560.4 1209.3h0M243.0 1355.8h0M423.5 1314.7h0M264.9 1354.5h0M245.6 1318.8h0M375.2 1267.7h0M426.4 1281.6h0M387.7 1308.0h0M253.4 1326.8h0M241.9 1350.6h0M470.8 1242.2h0M270.6 1291.3h0M314.4 1272.5h0M461.8 1371.6h0M251.9 1302.3h0M222.4 1328.5h0M577.6 1347.2h0M411.8 1268.3h0M234.5 1330.3h0M292.2 1264.4h0M232.1 1306.9h0M359.9 1258.4h0M325.4 1312.8h0M372.8 1283.7h0M379.6 1323.5h0M225.3 1348.2h0M271.3 1324.7h0M248.4 1282.0h0M439.6 1334.4h0M470.6 1296.1h0M225.0 1311.4h0M366.7 1368.6h0M338.8 1313.2h0M237.2 1362.3h0M307.5 1345.0h0M277.5 1330.4h0M362.8 1377.1h0M296.5 1273.9h0M342.8 1325.1h0M311.8 1319.7h0M481.6 1246.8h0M542.6 1305.3h0M288.1 1265.9h0M256.0 1333.4h0M348.0 1304.0h0M340.8 1291.3h0M511.9 1354.5h0M248.0 1329.5h0M369.2 1301.7h0M255.0 1340.3h0M251.3 1336.9h0M416.7 1314.5h0M313.3 1305.5h0M226.5 1304.0h0M387.1 1354.9h0M367.2 1309.7h0M266.5 1323.4h0M315.6 1309.7h0M222.5 1356.7h0M430.7 1364.7h0M258.5 1332.2h0M327.4 1270.0h0M411.1 1292.9h0M408.8 1319.3h0M233.3 1323.8h0M498.2 1257.8h0M326.8 1294.5h0M264.1 1289.4h0M289.9 1305.9h0M312.7 1290.0h0M252.1 1278.9h0M294.6 1321.3h0M337.1 1363.4h0M444.8 1316.9h0M381.2 1356.8h0M241.4 1345.8h0M382.7 1331.8h0M318.3 1298.7h0M226.9 1376.4h0M249.1 1377.2h0M240.8 1303.7h0M305.2 1361.2h0M431.8 1322.0h0M334.8 1269.4h0M371.0 1305.4h0M404.1 1333.9h0M263.3 1283.3h0M302.4 1291.9h0M221.0 1360.0h0M521.9 1349.9h0M238.0 1365.3h0M298.4 1337.7h0M302.7 1345.1h0M410.7 1377.1h0M541.3 1314.9h0M507.8 1264.4h0M538.8 1312.0h0M243.1 1370.3h0M282.4 1376.5h0M257.7 1358.5h0M278.6 1301.3h0M227.5 1313.1h0M483.1 1215.8h0M380.3 1241.8h0M414.5 1298.3h0M335.2 1307.3h0M589.3 1345.3h0M280.9 1339.3h0M305.7 1311.0h0M573.8 1332.3h0M386.3 1298.9h0M443.8 1334.0h0M366.1 1326.3h0M454.8 1266.6h0M284.5 1361.5h0M317.8 1329.9h0M303.4 1297.3h0M324.9 1307.5h0M271.7 1299.4h0M268.4 1305.7h0M228.3 1330.9h0M291.7 1271.0h0M492.9 1241.0h0M267.5 1307.7h0M256.3 1304.8h0M255.7 1328.3h0M224.0 1336.0h0M257.9 1349.1h0M524.7 1373.6h0M400.3 1282.6h0M280.8 1336.4h0M352.1 1315.5h0M542.2 1320.1h0M328.4 1301.2h0M266.1 1296.3h0M501.7 1210.9h0M259.9 1356.5h0M545.1 1322.9h0M252.2 1330.5h0M318.9 1319.1h0M333.2 1366.1h0M489.7 1285.4h0M264.7 1357.5h0M236.5 1303.0h0M497.8 1250.6h0M270.0 1327.5h0M229.0 1317.1h0M226.0 1316.3h0M289.4 1267.1h0M515.5 1286.6h0M321.6 1351.2h0M290.6 1274.5h0M291.0 1308.9h0M539.6 1243.5h0M553.2 1369.7h0M442.0 1310.9h0M236.3 1365.7h0M400.8 1334.3h0M287.2 1352.5h0M519.6 1292.0h0M219.9 1373.5h0M351.1 1314.4h0M299.2 1331.0h0M243.9 1301.8h0M331.6 1319.6h0M318.0 1358.5h0M339.5 1371.1h0M326.2 1361.5h0M417.4 1264.6h0M239.0 1352.8h0M228.6 1365.1h0M320.9 1302.2h0M395.8 1276.2h0M286.3 1373.9h0M398.8 1354.0h0M228.9 1363.1h0M384.0 1277.0h0M443.0 1368.3h0M400.1 1300.8h0M262.6 1322.0h0M447.0 1238.8h0M547.0 1364.8h0M280.3 1320.2h0M339.1 1286.8h0M303.9 1327.4h0M253.2 1301.5h0M375.1 1318.5h0M251.1 1365.7h0M250.9 1308.9h0M366.5 1297.6h0M444.3 1377.9h0M254.4 1376.1h0M218.7 1347.1h0M333.7 1365.4h0M262.4 1320.1h0M575.7 1298.7h0M220.7 1355.4h0M413.8 1310.5h0M244.6 1356.0h0M235.4 1326.8h0M329.6 1358.3h0M388.7 1295.8h0M482.4 1348.9h0M401.7 1336.8h0M279.9 1335.1h0M275.9 1357.1h0M246.7 1346.7h0M318.6 1377.4h0M383.5 1336.6h0M254.2 1334.2h0M343.5 1317.7h0M480.5 1336.4h0M478.3 1260.6h0M520.4 1319.8h0M390.5 1321.3h0M436.1 1319.1h0M440.1 1257.9h0M403.9 1340.3h0M229.4 1344.7h0M235.6 1325.2h0M394.6 1346.3h0M244.2 1302.1h0M265.1 1286.8h0M250.5 1368.1h0M236.8 1337.0h0M225.9 1322.8h0M294.7 1317.6h0M473.9 1298.2h0M419.3 1295.9h0M460.8 1373.9h0M232.9 1360.3h0M234.3 1342.4h0M230.7 1367.6h0M508.3 1274.4h0M304.1 1369.6h0M248.6 1358.9h0M372.5 1339.5h0M298.6 1312.8h0M263.1 1336.2h0M219.6 1324.8h0M225.6 1317.8h0M399.9 1318.8h0M283.3 1349.9h0M300.6 1356.7h0M291.5 1291.1h0M221.6 1354.9h0M407.9 1308.4h0M346.5 1313.8h0M250.1 1284.6h0M420.4 1343.2h0M342.7 1310.9h0M290.2 1352.0h0M524.7 1277.9h0M257.3 1298.7h0M272.4 1269.6h0M368.0 1328.0h0M355.9 1269.4h0M276.4 1367.7h0M297.0 1340.7h0M393.9 1360.3h0M476.8 1286.3h0M451.3 1305.6h0M452.5 1274.8h0M357.6 1268.6h0M288.4 1296.7h0M338.0 1341.0h0M277.6 1328.3h0M332.9 1319.9h0M558.1 1279.3h0M309.1 1301.2h0M563.3 1340.0h0M391.7 1293.6h0M309.6 1288.6h0M296.4 1308.1h0M424.9 1258.7h0M228.0 1371.2h0M323.5 1375.3h0M223.8 1335.4h0M329.1 1321.4h0M389.9 1304.5h0M311.5 1315.5h0M425.5 1242.8h0M227.5 1369.2h0M344.6 1333.0h0M225.4 1305.4h0M566.1 1373.0h0M498.9 1298.8h0M582.9 1232.6h0M416.4 1221.2h0M289.5 1344.2h0M220.3 1314.4h0M936.8 1087.6h0M903.7 1102.7h0M922.7 1119.6h0M935.7 1123.2h0M868.4 1137.1h0M778.3 1144.4h0M823.7 1146.3h0M654.1 1158.1h0M723.1 1157.9h0M728.8 1164.0h0M784.8 1164.0h0M852.6 1162.9h0M765.0 1168.8h0M663.1 1171.8h0M664.2 1179.2h0M686.9 1180.2h0M610.9 1185.5h0M654.9 1183.8h0M823.1 1176.2h0M750.3 1176.4h0M758.1 1181.3h0M969.4 1177.5h0M816.8 1184.8h0M641.4 1188.0h0M640.4 1191.6h0M681.8 1187.4h0M689.4 1192.0h0M656.8 1193.7h0M679.3 1196.6h0M642.9 1197.1h0M610.1 1199.2h0M667.3 1201.5h0M902.1 1190.9h0M753.0 1197.7h0M759.7 1203.8h0M807.9 1200.6h0M980.2 1197.7h0M619.9 1205.5h0M621.4 1212.2h0M725.6 1210.7h0M741.6 1214.7h0M749.6 1210.9h0M810.1 1212.4h0M677.8 1217.9h0M630.7 1224.4h0M641.8 1222.5h0M598.7 1231.4h0M595.5 1240.6h0M665.0 1244.8h0M670.9 1245.7h0M704.4 1241.1h0M787.1 1229.5h0M722.9 1240.0h0M831.7 1239.2h0M742.1 1250.5h0M627.1 1262.7h0M654.9 1262.7h0M726.7 1264.2h0M781.4 1265.7h0M626.9 1272.4h0M662.7 1271.2h0M756.6 1270.3h0M615.1 1278.7h0M684.8 1276.0h0M697.4 1285.3h0M607.5 1287.4h0M593.0 1292.2h0M601.2 1296.2h0M656.8 1293.3h0M673.2 1302.7h0M687.3 1309.7h0M702.5 1304.8h0M642.3 1314.9h0M591.9 1322.1h0M630.7 1323.4h0M596.6 1330.5h0M654.3 1334.1h0M743.3 1334.7h0M874.3 1338.3h0M631.5 1343.6h0M619.1 1349.3h0M653.0 1355.8h0M762.5 1362.1h0M758.7 1368.8h0M645.4 1370.5h0M616.6 1374.7h0M618.7 1372.6h0M604.4 1376.8h0M702.1 1373.7h0M819.5 1375.8h0" stroke="#181c22" stroke-width="7.4" stroke-linecap="round" fill="none"/><path d="M265.7 1406.4h0M254.2 1402.1h0M338.5 1445.9h0M224.4 1409.6h0M272.7 1424.6h0M269.6 1414.6h0M274.2 1386.7h0M230.7 1445.4h0M244.1 1445.1h0M263.5 1418.0h0M257.2 1399.1h0M369.3 1435.4h0M241.8 1448.7h0M406.1 1423.6h0M343.5 1456.1h0M228.3 1426.5h0M234.2 1396.2h0M556.0 1381.9h0M382.5 1433.6h0M321.8 1427.4h0M268.4 1383.5h0M321.0 1450.1h0M229.7 1398.4h0M264.2 1411.9h0M336.4 1429.9h0M316.1 1463.5h0M268.1 1403.0h0M251.5 1399.1h0M309.5 1446.9h0M256.7 1414.4h0M313.2 1446.4h0M333.0 1423.7h0M448.7 1517.6h0M352.0 1391.7h0M589.2 1455.8h0M346.5 1457.0h0M276.6 1470.9h0M275.6 1432.3h0M438.2 1403.9h0M328.2 1408.7h0M220.6 1416.8h0M220.8 1381.2h0M401.5 1440.7h0M296.4 1422.6h0M561.6 1496.0h0M262.0 1392.5h0M336.1 1395.9h0M285.6 1391.0h0M402.2 1463.3h0M262.4 1427.7h0M245.0 1423.8h0M316.7 1443.4h0M371.8 1426.4h0M263.0 1440.6h0M344.1 1393.6h0M289.5 1425.0h0M470.1 1389.7h0M297.3 1463.7h0M532.6 1485.3h0M399.1 1381.2h0M390.8 1481.0h0M481.9 1421.8h0M264.9 1417.0h0M410.7 1397.9h0M286.1 1402.3h0M456.5 1415.1h0M274.0 1472.2h0M480.6 1479.8h0M479.1 1381.3h0M261.0 1403.2h0M500.6 1435.0h0M318.9 1480.5h0M310.2 1404.5h0M336.9 1440.4h0M297.7 1433.9h0M235.3 1411.6h0M252.3 1435.2h0M467.4 1442.9h0M229.2 1450.1h0M340.4 1421.1h0M288.4 1390.2h0M248.6 1381.2h0M476.5 1381.2h0M558.2 1440.2h0M309.5 1390.3h0M230.5 1382.1h0M257.4 1437.0h0M341.1 1393.9h0M255.3 1381.6h0M241.9 1444.3h0M300.1 1430.8h0M337.3 1436.6h0M403.7 1400.2h0M510.6 1407.5h0M278.1 1395.1h0M277.0 1409.3h0M350.5 1448.7h0M303.2 1407.6h0M347.5 1409.2h0M291.3 1418.6h0M445.2 1443.2h0M223.6 1405.0h0M349.9 1446.5h0M262.8 1417.3h0M475.1 1434.2h0M225.4 1404.6h0M385.8 1478.7h0M360.5 1431.3h0M311.0 1455.8h0M442.2 1427.6h0M249.4 1388.5h0M274.6 1436.1h0M311.1 1385.5h0M315.1 1493.9h0M246.6 1381.2h0M283.5 1438.4h0M544.8 1397.6h0M393.9 1411.8h0M237.7 1444.1h0M230.9 1402.3h0M441.4 1405.6h0M241.0 1382.5h0M320.6 1428.6h0M233.1 1405.2h0M328.9 1481.4h0M374.3 1462.7h0M473.7 1426.4h0M283.7 1416.9h0M249.1 1408.7h0M584.8 1562.6h0M252.6 1446.4h0M356.6 1438.6h0M223.9 1399.1h0M498.9 1443.2h0M258.1 1423.5h0M219.7 1412.2h0M299.1 1396.4h0M290.9 1381.2h0M332.0 1412.8h0M326.0 1413.0h0M268.7 1385.1h0M313.5 1473.0h0M283.5 1426.4h0M343.5 1454.1h0M220.3 1403.3h0M437.2 1511.4h0M299.4 1432.5h0M303.6 1421.1h0M398.1 1464.2h0M394.5 1499.4h0M292.0 1404.4h0M232.9 1424.9h0M273.7 1438.1h0M407.6 1455.2h0M255.8 1426.5h0M239.0 1442.9h0M348.7 1381.2h0M565.6 1466.2h0M239.3 1411.2h0M360.1 1485.3h0M325.8 1486.4h0M318.3 1451.4h0M225.0 1433.0h0M571.7 1444.9h0M455.7 1442.8h0M334.4 1440.7h0M220.5 1436.3h0M494.0 1414.1h0M272.9 1384.3h0M388.9 1410.6h0M372.1 1384.7h0M257.0 1424.4h0M362.1 1452.5h0M218.9 1452.6h0M526.9 1534.8h0M236.4 1414.6h0M241.2 1457.0h0M219.6 1397.6h0M452.1 1463.7h0M248.5 1410.3h0M270.1 1420.8h0M426.1 1505.4h0M424.8 1521.1h0M261.7 1432.8h0M330.3 1388.8h0M280.7 1392.2h0M381.3 1444.2h0M384.8 1416.5h0M404.2 1413.5h0M301.5 1462.5h0M302.9 1389.4h0M315.9 1425.1h0M271.3 1428.2h0M286.4 1386.5h0M275.0 1420.9h0M523.1 1444.5h0M258.9 1390.4h0M339.7 1430.3h0M357.7 1418.7h0M253.3 1404.9h0M235.7 1381.2h0M486.2 1457.5h0M331.7 1390.6h0M300.5 1447.1h0M282.1 1382.1h0M299.3 1382.3h0M259.7 1444.3h0M498.5 1534.2h0M266.9 1384.7h0M446.6 1405.3h0M299.7 1462.8h0M425.6 1446.0h0M340.2 1442.2h0M222.1 1436.7h0M240.3 1418.6h0M253.9 1441.3h0M355.6 1470.5h0M232.0 1398.8h0M406.8 1442.7h0M432.5 1392.3h0M225.1 1392.1h0M218.5 1424.7h0M507.9 1500.7h0M339.4 1449.9h0M476.0 1418.4h0M383.2 1504.9h0M232.8 1430.6h0M354.9 1418.6h0M415.1 1433.5h0M338.3 1412.4h0M278.3 1410.2h0M304.2 1445.0h0M239.5 1445.2h0M353.5 1385.8h0M415.9 1483.8h0M577.3 1566.7h0M308.6 1382.2h0M222.5 1402.2h0M482.9 1431.8h0M350.8 1441.0h0M260.5 1437.1h0M317.4 1395.5h0M330.4 1474.4h0M379.0 1392.9h0M287.4 1441.6h0M260.0 1428.8h0M365.3 1455.2h0M408.3 1495.1h0M355.4 1477.9h0M563.2 1395.8h0M344.2 1469.7h0M241.7 1417.6h0M334.1 1491.2h0M297.6 1392.7h0M221.4 1422.0h0M243.0 1425.7h0M344.7 1449.2h0M371.1 1436.9h0M314.7 1426.0h0M265.5 1431.9h0M455.3 1518.0h0M250.7 1385.0h0M264.2 1387.7h0M284.5 1439.5h0M232.7 1439.9h0M421.7 1404.6h0M419.1 1385.2h0M260.7 1388.1h0M221.7 1400.3h0M268.3 1426.2h0M282.5 1407.7h0M288.5 1400.3h0M221.7 1393.1h0M289.6 1444.8h0M341.4 1434.9h0M294.1 1392.2h0M219.0 1386.0h0M234.0 1401.5h0M331.1 1446.7h0M229.5 1405.0h0M389.1 1397.3h0M224.1 1389.7h0M555.2 1465.8h0M220.1 1381.2h0M298.6 1393.7h0M457.6 1486.3h0M228.1 1390.6h0M263.3 1412.6h0M560.3 1428.7h0M257.4 1403.7h0M389.6 1425.6h0M231.4 1422.1h0M245.2 1455.9h0M422.3 1504.0h0M328.6 1445.1h0M250.4 1381.2h0M416.3 1461.8h0M312.7 1420.0h0M277.1 1407.6h0M324.1 1403.8h0M477.9 1401.6h0M391.8 1431.5h0M393.1 1464.5h0M283.9 1433.7h0M306.6 1421.2h0M218.5 1431.6h0M267.9 1406.6h0M244.4 1418.8h0M439.6 1458.2h0M225.3 1397.1h0M501.8 1505.2h0M241.5 1397.9h0M254.2 1425.1h0M221.5 1394.8h0M225.9 1381.5h0M250.0 1423.4h0M242.5 1391.9h0M226.9 1389.1h0M511.5 1436.6h0M418.5 1418.1h0M253.4 1403.4h0M417.2 1419.9h0M218.7 1432.8h0M259.2 1412.3h0M492.5 1445.5h0M288.0 1430.4h0M240.3 1442.0h0M379.8 1418.8h0M323.2 1426.4h0M311.8 1401.9h0M280.1 1444.8h0M220.9 1387.6h0M367.6 1462.6h0M444.1 1429.4h0M229.9 1402.9h0M359.2 1414.1h0M325.4 1479.3h0M242.2 1444.4h0M260.2 1411.1h0M257.7 1458.5h0M271.0 1432.0h0M270.3 1432.0h0M241.4 1397.1h0M240.7 1407.7h0M521.8 1556.9h0M247.1 1381.5h0M391.1 1456.4h0M311.3 1384.2h0M358.7 1403.9h0M440.1 1389.0h0M333.1 1442.2h0M318.2 1440.3h0M275.8 1428.7h0M219.7 1384.2h0M265.0 1404.4h0M396.0 1441.9h0M489.7 1499.8h0M316.7 1393.8h0M242.8 1452.5h0M307.6 1400.7h0M255.9 1394.3h0M302.1 1451.8h0M395.6 1390.2h0M248.3 1418.0h0M378.1 1392.8h0M245.4 1412.9h0M384.0 1491.8h0M310.7 1471.0h0M228.9 1394.8h0M246.2 1437.8h0M279.7 1411.6h0M226.2 1447.8h0M228.2 1398.8h0M226.7 1447.9h0M356.9 1444.4h0M245.7 1412.9h0M567.8 1480.1h0M263.4 1433.6h0M442.7 1424.6h0M351.6 1448.1h0M322.5 1381.2h0M261.1 1407.9h0M267.5 1440.9h0M226.4 1402.3h0M258.6 1456.3h0M245.1 1414.6h0M224.6 1381.2h0M282.7 1445.1h0M421.0 1442.9h0M301.2 1505.7h0M433.0 1407.0h0M296.2 1471.4h0M360.0 1385.1h0M254.9 1457.0h0M330.9 1418.4h0M368.7 1427.9h0M277.4 1382.9h0M290.7 1400.0h0M246.8 1423.3h0M459.2 1490.0h0M399.5 1412.6h0M377.4 1461.4h0M318.6 1384.9h0M252.0 1453.0h0M306.2 1474.1h0M327.3 1467.5h0M315.4 1421.0h0M294.7 1442.7h0M468.6 1392.7h0M287.0 1381.2h0M340.6 1440.3h0M354.4 1403.9h0M423.9 1492.3h0M314.3 1394.8h0M261.3 1388.3h0M324.5 1465.1h0M366.4 1381.2h0M237.6 1430.5h0M549.3 1516.3h0M229.0 1399.6h0M453.3 1390.5h0M308.0 1416.4h0M240.8 1440.1h0M226.5 1415.9h0M222.6 1423.6h0M285.1 1454.1h0M304.0 1442.0h0M304.5 1420.2h0M296.0 1467.5h0M386.8 1405.0h0M234.6 1394.6h0M222.2 1403.2h0M485.1 1464.9h0M449.0 1385.7h0M321.3 1422.9h0M296.7 1483.8h0M269.3 1450.5h0M223.0 1416.6h0M273.6 1427.4h0M235.0 1436.4h0M573.2 1443.6h0M488.1 1453.9h0M405.6 1385.7h0M259.9 1409.3h0M359.3 1454.0h0M396.9 1442.7h0M464.4 1426.8h0M342.0 1393.0h0M469.4 1479.5h0M265.9 1458.0h0M281.0 1388.5h0M293.1 1443.6h0M284.2 1462.5h0M538.5 1456.2h0M305.0 1392.5h0M281.6 1403.2h0M234.5 1401.7h0M409.5 1403.6h0M276.2 1398.9h0M234.0 1398.8h0M487.6 1532.1h0M392.1 1386.6h0M576.9 1524.3h0M333.5 1389.1h0M345.2 1441.7h0M254.6 1428.2h0M238.7 1388.9h0M376.5 1482.8h0M272.1 1454.5h0M376.8 1384.7h0M345.6 1450.4h0M271.5 1423.6h0M293.7 1449.0h0M460.7 1422.7h0M506.1 1449.5h0M227.2 1448.3h0M365.7 1387.5h0M472.7 1469.7h0M447.4 1421.2h0M292.6 1435.1h0M227.3 1387.0h0M245.5 1405.8h0M351.2 1418.0h0M238.5 1437.5h0M429.7 1408.7h0M579.0 1478.8h0M335.2 1460.1h0M297.0 1401.4h0M275.3 1410.1h0M220.6 1391.3h0M376.3 1429.4h0M395.1 1451.4h0M300.3 1453.9h0M258.3 1450.9h0M235.7 1404.6h0M219.2 1418.0h0M238.4 1447.1h0M235.0 1408.7h0M254.9 1389.0h0M346.3 1398.3h0M283.2 1410.2h0M266.6 1436.9h0M246.3 1416.1h0M284.7 1386.3h0M355.1 1435.1h0M305.2 1428.9h0M237.1 1406.0h0M402.9 1428.0h0M228.5 1393.7h0M277.7 1419.3h0M236.1 1418.2h0M542.1 1489.6h0M537.0 1495.2h0M295.7 1389.9h0M323.8 1436.6h0M309.2 1450.4h0M336.7 1431.7h0M422.5 1391.6h0M269.0 1452.0h0M342.2 1435.3h0M494.9 1514.1h0M308.7 1400.6h0M370.3 1503.6h0M265.1 1387.6h0M272.5 1442.7h0M356.2 1428.2h0M353.2 1405.1h0M325.0 1466.8h0M228.6 1408.0h0M240.0 1441.6h0M329.6 1465.3h0M258.0 1453.6h0M222.2 1395.6h0M304.6 1400.5h0M484.6 1533.8h0M309.9 1427.0h0M430.8 1394.5h0M227.7 1445.9h0M244.8 1430.2h0M517.3 1456.0h0M530.9 1525.1h0M387.5 1416.8h0M404.5 1476.2h0M440.7 1387.0h0M232.5 1383.9h0M413.8 1496.8h0M235.5 1406.1h0M221.0 1422.3h0M244.6 1441.2h0M306.7 1425.9h0M375.5 1456.3h0M497.4 1424.6h0M358.4 1484.6h0M225.2 1384.0h0M223.4 1412.7h0M428.1 1381.2h0M386.5 1389.6h0M312.1 1412.4h0M298.2 1411.2h0M251.3 1411.3h0M287.2 1477.0h0M450.4 1451.0h0M438.8 1460.5h0M236.6 1454.7h0M270.7 1444.3h0M280.2 1428.9h0M259.0 1442.1h0M267.3 1470.9h0M302.5 1472.9h0M348.4 1442.8h0M436.8 1435.2h0M235.9 1444.8h0M283.0 1389.6h0M413.6 1443.0h0M373.3 1407.1h0M247.6 1459.4h0M372.8 1434.1h0M337.5 1391.6h0M423.7 1501.6h0M349.9 1429.1h0M364.5 1466.2h0M249.5 1419.4h0M272.6 1414.7h0M301.1 1405.3h0M248.9 1420.4h0M228.8 1441.0h0M373.7 1422.7h0M313.9 1418.0h0M385.4 1439.1h0M265.3 1413.8h0M274.1 1449.4h0M412.7 1418.3h0M305.8 1447.6h0M293.7 1433.3h0M358.1 1460.8h0M237.2 1448.8h0M246.9 1395.8h0M368.4 1422.3h0M551.0 1442.9h0M246.4 1448.0h0M305.4 1393.4h0M231.2 1396.8h0M227.5 1454.8h0M337.7 1412.1h0M380.5 1393.6h0M267.1 1426.1h0M535.1 1476.1h0M491.5 1463.7h0M332.8 1464.6h0M255.7 1381.2h0M430.1 1423.9h0M288.9 1408.8h0M347.7 1429.0h0M220.2 1399.8h0M269.8 1442.7h0M354.1 1423.5h0M255.5 1441.7h0M433.3 1448.3h0M292.9 1420.3h0M314.9 1420.8h0M252.1 1392.0h0M505.9 1500.3h0M288.2 1485.0h0M253.1 1406.5h0M329.3 1441.7h0M427.1 1409.9h0M272.1 1460.1h0M285.9 1442.4h0M278.6 1423.1h0M239.7 1395.1h0M295.3 1381.2h0M251.4 1403.7h0M233.8 1427.7h0M257.7 1411.8h0M242.4 1405.0h0M402.1 1394.1h0M548.4 1405.4h0M503.7 1435.2h0M306.1 1386.9h0M320.5 1427.4h0M307.1 1408.5h0M288.7 1402.9h0M227.8 1425.1h0M512.4 1447.0h0M232.2 1421.9h0M261.5 1393.4h0M348.1 1402.7h0M514.9 1406.0h0M247.2 1428.2h0M248.1 1398.8h0M258.6 1466.8h0M539.9 1393.4h0M480.1 1492.6h0M255.2 1429.1h0M241.0 1410.2h0M465.3 1440.2h0M332.2 1427.1h0M230.0 1440.2h0M411.4 1424.9h0M375.1 1460.4h0M331.3 1410.0h0M317.8 1436.3h0M363.7 1435.7h0M328.4 1407.2h0M314.2 1391.5h0M245.8 1430.7h0M230.9 1399.7h0M250.1 1404.7h0M266.1 1390.0h0M513.6 1426.9h0M417.5 1381.2h0M400.1 1418.5h0M346.9 1442.7h0M458.2 1464.3h0M244.5 1390.8h0M419.6 1390.1h0M397.8 1413.3h0M237.8 1402.1h0M380.7 1411.8h0M225.8 1452.5h0M308.2 1452.7h0M219.9 1435.8h0M435.1 1478.1h0M313.2 1433.2h0M400.7 1444.3h0M234.4 1434.3h0M261.4 1386.6h0M226.0 1428.1h0M273.3 1399.0h0M319.8 1424.7h0M281.9 1412.3h0M552.5 1515.1h0M270.4 1399.1h0M292.4 1392.7h0M223.2 1382.8h0M240.6 1437.1h0M345.9 1425.1h0M294.1 1422.6h0M250.9 1410.6h0M352.7 1403.9h0M326.3 1414.5h0M533.7 1429.5h0M262.1 1424.9h0M298.4 1436.5h0M256.3 1420.9h0M239.8 1389.4h0M270.9 1429.0h0M247.3 1386.0h0M238.1 1396.9h0M230.3 1458.8h0M230.4 1407.4h0M516.7 1504.3h0M231.8 1391.8h0M372.5 1460.5h0M229.3 1393.7h0M300.9 1476.7h0M339.0 1442.2h0M243.4 1457.7h0M279.4 1431.0h0M221.2 1414.1h0M426.7 1399.5h0M233.4 1409.2h0M224.7 1451.7h0M357.3 1401.3h0M274.9 1423.5h0M246.0 1396.0h0M266.5 1433.5h0M298.9 1383.7h0M362.8 1384.4h0M264.5 1440.4h0M409.2 1502.7h0M279.2 1429.5h0M445.8 1462.3h0M286.6 1434.6h0M248.2 1453.9h0M334.0 1417.2h0M233.3 1424.9h0M412.2 1397.8h0M260.6 1406.8h0M262.7 1451.6h0M243.6 1451.6h0M368.0 1402.2h0M256.5 1429.7h0M540.6 1460.5h0M253.6 1396.5h0M327.4 1386.4h0M236.5 1393.4h0M293.2 1471.2h0M271.5 1425.1h0M508.6 1506.4h0M444.3 1408.2h0M294.4 1394.4h0M317.8 1395.9h0M303.8 1463.8h0M388.1 1405.4h0M341.9 1461.6h0M580.5 1477.1h0M393.5 1432.8h0M276.9 1454.0h0M491.0 1385.7h0M259.3 1415.6h0M239.8 1381.3h0M247.7 1448.4h0M287.8 1407.7h0M280.6 1478.3h0M238.4 1435.0h0M434.0 1389.5h0M370.8 1414.2h0M568.9 1488.2h0M380.1 1477.6h0M249.7 1398.8h0M262.3 1401.5h0M224.2 1395.6h0M296.8 1461.7h0M270.0 1442.7h0M366.8 1459.9h0M243.1 1391.4h0M420.4 1427.8h0M277.8 1393.0h0M269.1 1424.1h0M410.2 1434.4h0M322.0 1403.9h0M225.7 1414.9h0M586.4 1504.1h0M414.4 1524.5h0M349.4 1448.1h0M237.4 1406.8h0M221.8 1447.5h0M243.0 1445.2h0M383.6 1427.5h0M316.2 1444.5h0M223.5 1452.9h0M233.6 1448.5h0M249.6 1391.9h0M291.9 1398.5h0M312.0 1463.9h0M466.7 1435.5h0M222.7 1425.8h0M564.6 1486.4h0M250.5 1395.8h0M219.4 1385.5h0M254.0 1409.0h0M310.3 1451.8h0M326.6 1386.8h0M360.8 1404.5h0M302.1 1409.8h0M266.2 1436.8h0M338.9 1427.5h0M286.7 1403.1h0M279.0 1420.9h0M471.0 1479.6h0M228.0 1395.8h0M351.9 1391.3h0M248.9 1402.6h0M428.7 1436.9h0M342.5 1426.6h0M365.8 1503.0h0M361.4 1411.8h0M378.8 1433.6h0M322.8 1426.7h0M547.5 1399.6h0M390.1 1496.1h0M254.4 1424.6h0M251.7 1388.6h0M235.3 1412.8h0M388.0 1382.3h0M370.0 1447.5h0M274.7 1442.1h0M369.6 1441.2h0M279.9 1412.9h0M290.2 1410.1h0M238.9 1392.6h0M322.9 1404.3h0M273.1 1420.1h0M229.6 1386.9h0M349.0 1436.4h0M503.4 1512.1h0M384.8 1470.1h0M472.3 1451.3h0M264.7 1409.0h0M343.1 1408.3h0M289.1 1413.5h0M459.7 1440.0h0M250.3 1447.0h0M408.8 1415.1h0M263.7 1385.6h0M378.2 1478.5h0M224.9 1453.8h0M526.8 1401.9h0M268.8 1387.8h0M226.9 1407.3h0M233.5 1431.7h0M325.3 1465.4h0M525.2 1492.3h0M227.4 1433.2h0M363.4 1445.5h0M312.6 1393.5h0M290.0 1462.5h0M285.3 1405.3h0M267.7 1439.7h0M251.1 1407.5h0M236.9 1422.8h0M285.4 1381.2h0M256.2 1394.5h0M275.4 1417.2h0M234.8 1400.4h0M375.9 1419.2h0M364.2 1476.7h0M252.9 1441.7h0M243.9 1407.5h0M294.9 1402.4h0M396.7 1383.5h0M291.1 1444.1h0M239.1 1452.0h0M251.8 1381.2h0M436.0 1504.0h0M219.1 1412.0h0M256.8 1384.8h0M222.9 1386.0h0M345.0 1392.6h0M223.7 1424.9h0M301.7 1411.2h0M382.5 1421.9h0M282.4 1455.2h0M281.4 1492.6h0M278.4 1381.2h0M224.2 1390.3h0M263.9 1410.1h0M364.9 1394.3h0M329.9 1469.2h0M398.6 1421.4h0M243.7 1384.7h0M405.4 1429.3h0M271.8 1398.2h0M295.2 1447.0h0M327.8 1410.6h0M302.7 1402.9h0M281.3 1411.6h0M278.9 1392.6h0M266.8 1421.1h0M367.0 1386.2h0M321.4 1419.7h0M519.6 1443.7h0M583.7 1400.7h0M392.8 1389.2h0M231.7 1435.4h0M543.8 1482.1h0M242.6 1388.8h0M232.0 1390.0h0M453.8 1445.0h0M253.0 1454.4h0M450.4 1488.6h0M281.1 1450.8h0M462.1 1419.4h0M323.5 1445.8h0M236.3 1405.7h0M226.3 1410.9h0M232.3 1425.5h0M374.2 1403.5h0M284.8 1394.3h0M381.9 1430.7h0M218.7 1447.4h0M319.3 1436.2h0M291.8 1418.4h0M324.6 1416.1h0M327.0 1414.4h0M463.6 1408.2h0M352.9 1454.3h0M230.2 1421.8h0M451.6 1425.9h0M276.0 1412.9h0M276.4 1404.8h0M431.4 1436.7h0M361.8 1439.3h0M307.2 1399.3h0M222.8 1403.1h0M231.1 1431.9h0M243.8 1389.2h0M335.3 1416.6h0M290.3 1392.8h0M574.8 1392.7h0M238.0 1442.8h0M528.6 1479.7h0M236.8 1459.4h0M320.0 1385.5h0M291.4 1438.7h0M259.5 1394.6h0M335.8 1469.1h0M462.7 1471.5h0M334.7 1470.0h0M317.0 1402.2h0M247.8 1438.0h0M495.6 1511.4h0M362.4 1405.6h0M520.5 1382.5h0M319.5 1385.3h0M307.9 1472.8h0M231.5 1407.2h0M252.7 1409.3h0M604.4 1380.1h0M619.7 1388.5h0M623.5 1386.4h0M648.6 1385.4h0M676.4 1382.6h0M713.4 1400.7h0M839.7 1394.4h0M857.0 1393.8h0M604.4 1412.7h0M627.3 1416.1h0M634.3 1425.6h0M711.1 1422.4h0M587.1 1438.4h0M588.8 1441.2h0M613.2 1435.5h0M630.7 1433.2h0M630.3 1436.9h0M596.2 1448.3h0M622.3 1456.7h0M639.9 1455.1h0M650.3 1452.1h0M655.1 1448.3h0M683.7 1449.8h0M736.4 1459.7h0M596.8 1468.7h0M695.3 1466.2h0M606.7 1475.7h0M589.2 1479.1h0M626.5 1475.9h0M617.6 1479.5h0M670.7 1479.9h0M782.5 1476.9h0M785.4 1475.9h0M611.3 1489.6h0M598.1 1495.3h0M602.9 1498.0h0M599.7 1500.9h0M598.1 1505.8h0M587.1 1503.1h0M630.3 1494.8h0M629.2 1500.1h0M735.7 1509.2h0M748.4 1521.8h0M852.8 1526.4h0M868.8 1526.8h0M587.1 1519.9h0M624.2 1519.5h0M655.3 1529.2h0M596.2 1533.2h0M623.5 1539.1h0M703.7 1537.4h0M714.9 1548.9h0M718.3 1552.1h0M793.6 1550.6h0M674.9 1554.6h0M751.3 1564.9h0M625.0 1570.4h0M630.7 1574.6h0M695.1 1579.9h0M701.4 1578.8h0M707.1 1577.6h0M729.8 1575.3h0M733.0 1571.7h0M781.8 1575.1h0M712.2 1587.9h0M782.9 1588.1h0M728.2 1596.7h0M764.8 1606.0h0M907.9 1602.6h0M879.1 1631.3h0M985.6 1680.1h0" stroke="#728386" stroke-width="7.4" stroke-linecap="round" fill="none"/><line x1="214.9" y1="1342.1" x2="982.9" y2="1186.4" stroke="#dc4f1e" stroke-width="5.2"/><line x1="214.9" y1="1411.9" x2="988.6" y2="1540.5" stroke="#2cc940" stroke-width="5.2"/><path d="M179.5 1057.6V1709.8H1025.2" stroke="#111418" stroke-width="2.2" fill="none" stroke-linecap="square"/><path d="M179.5 1087.3h-10M179.5 1160.4h-10M179.5 1233.5h-10M179.5 1306.6h-10M179.5 1379.8h-10M179.5 1452.9h-10M179.5 1526.0h-10M179.5 1599.1h-10M179.5 1672.2h-10M181.4 1709.8v10M297.3 1709.8v10M413.2 1709.8v10M529.1 1709.8v10M645.1 1709.8v10M761.0 1709.8v10M876.9 1709.8v10M992.8 1709.8v10" stroke="#111418" stroke-width="2" fill="none"/><text class="dv" x="159.5" y="1099.3" font-size="29.3" text-anchor="end" fill="#111418">0.8</text><text class="dv" x="159.5" y="1172.4" font-size="29.3" text-anchor="end" fill="#111418">0.6</text><text class="dv" x="159.5" y="1245.5" font-size="29.3" text-anchor="end" fill="#111418">0.4</text><text class="dv" x="159.5" y="1318.6" font-size="29.3" text-anchor="end" fill="#111418">0.2</text><text class="dv" x="159.5" y="1391.8" font-size="29.3" text-anchor="end" fill="#111418">0.0</text><text class="dv" x="159.5" y="1464.9" font-size="29.3" text-anchor="end" fill="#111418">−0.2</text><text class="dv" x="159.5" y="1538.0" font-size="29.3" text-anchor="end" fill="#111418">−0.4</text><text class="dv" x="159.5" y="1611.1" font-size="29.3" text-anchor="end" fill="#111418">−0.6</text><text class="dv" x="159.5" y="1684.2" font-size="29.3" text-anchor="end" fill="#111418">−0.8</text><text class="dv" font-size="29.3" text-anchor="middle" fill="#111418" transform="translate(180.1 1754.4) rotate(-45)" y="10.7">0.2</text><text class="dv" font-size="29.3" text-anchor="middle" fill="#111418" transform="translate(296.0 1754.4) rotate(-45)" y="10.7">0.3</text><text class="dv" font-size="29.3" text-anchor="middle" fill="#111418" transform="translate(411.9 1754.4) rotate(-45)" y="10.7">0.4</text><text class="dv" font-size="29.3" text-anchor="middle" fill="#111418" transform="translate(527.8 1754.4) rotate(-45)" y="10.7">0.5</text><text class="dv" font-size="29.3" text-anchor="middle" fill="#111418" transform="translate(643.8 1754.4) rotate(-45)" y="10.7">0.6</text><text class="dv" font-size="29.3" text-anchor="middle" fill="#111418" transform="translate(759.7 1754.4) rotate(-45)" y="10.7">0.7</text><text class="dv" font-size="29.3" text-anchor="middle" fill="#111418" transform="translate(875.6 1754.4) rotate(-45)" y="10.7">0.8</text><text class="dv" font-size="29.3" text-anchor="middle" fill="#111418" transform="translate(991.5 1754.4) rotate(-45)" y="10.7">0.9</text><text class="dv" x="224.8" y="1087.7" font-size="29.1" fill="#d4552a">Pearson 0.594</text><text class="dv" x="224.8" y="1679.9" font-size="29.1" fill="#34c04f">Pearson -0.554</text><text class="ls" x="511.4" y="1022.6" font-size="44.8" fill="#111418" textLength="151.6" lengthAdjust="spacingAndGlyphs">ExPecto</text><text class="ls" font-size="30.5" fill="#111418" transform="translate(72.0 1639.8) rotate(-90)" textLength="513.6" lengthAdjust="spacingAndGlyphs">ExPecto cross-individual correlation</text><text class="ls" x="394.0" y="1820.5" font-size="33.7" fill="#111418" textLength="398.1" lengthAdjust="spacingAndGlyphs">Top eQTL effect size |rvalue|</text><text class="ls" x="2.5" y="1022.8" font-size="58" font-weight="bold" fill="#000">c</text></g>
<g><path d="M1364.7 1375.6h0M1418.1 1365.5h0M1485.8 1347.8h0M1427.8 1363.6h0M1387.6 1404.4h0M1406.2 1327.0h0M1420.0 1401.1h0M1606.8 1365.0h0M1437.9 1345.9h0M1435.3 1377.9h0M1398.0 1354.8h0M1381.6 1385.5h0M1521.0 1325.2h0M1506.3 1369.5h0M1395.4 1408.9h0M1536.9 1273.7h0M1555.4 1313.8h0M1410.5 1320.1h0M1529.6 1287.4h0M1411.8 1359.3h0M1370.5 1363.1h0M1395.6 1396.7h0M1470.2 1389.7h0M1541.9 1380.8h0M1481.9 1354.2h0M1435.5 1381.4h0M1560.2 1377.5h0M1365.9 1314.3h0M1454.6 1331.8h0M1486.5 1355.1h0M1462.6 1306.0h0M1382.2 1381.4h0M1456.6 1314.7h0M1372.9 1390.7h0M1605.7 1377.5h0M1373.8 1402.9h0M1549.6 1364.7h0M1468.7 1284.7h0M1642.8 1298.8h0M1631.7 1318.9h0M1442.1 1327.6h0M1451.0 1386.1h0M1652.4 1388.2h0M1421.6 1316.7h0M1492.9 1395.1h0M1599.9 1270.9h0M1379.2 1382.4h0M1617.1 1379.5h0M1619.1 1298.0h0M1665.6 1285.2h0M1419.1 1356.5h0M1511.0 1346.9h0M1442.4 1372.5h0M1413.1 1341.9h0M1409.6 1359.6h0M1701.5 1291.3h0M1620.0 1334.1h0M1469.9 1409.1h0M1413.5 1396.4h0M1693.9 1269.5h0M1513.5 1297.2h0M1369.4 1379.0h0M1535.6 1396.1h0M1505.8 1392.1h0M1424.1 1400.5h0M1420.5 1315.8h0M1540.8 1300.5h0M1444.1 1408.0h0M1479.0 1380.5h0M1377.6 1386.8h0M1514.3 1313.1h0M1547.5 1397.9h0M1437.0 1367.0h0M1381.3 1399.0h0M1685.6 1396.9h0M1412.2 1390.7h0M1501.4 1317.9h0M1420.7 1372.1h0M1449.3 1409.9h0M1506.1 1288.6h0M1432.6 1326.8h0M1515.2 1388.3h0M1629.5 1405.7h0M1385.1 1346.3h0M1438.7 1327.0h0M1463.5 1343.4h0M1440.8 1385.6h0M1474.1 1363.1h0M1362.3 1389.6h0M1677.4 1298.2h0M1703.1 1273.3h0M1472.3 1349.8h0M1393.0 1395.8h0M1681.9 1290.4h0M1393.6 1348.5h0M1603.7 1346.8h0M1383.4 1395.4h0M1567.8 1395.7h0M1486.3 1405.8h0M1498.1 1314.9h0M1441.8 1349.3h0M1385.0 1355.9h0M1650.1 1346.1h0M1522.8 1409.9h0M1511.7 1338.1h0M1389.9 1318.1h0M1377.1 1339.3h0M1441.2 1355.7h0M1542.8 1401.5h0M1429.0 1397.1h0M1431.3 1391.9h0M1389.5 1400.7h0M1447.6 1308.5h0M1519.2 1397.5h0M1381.1 1396.7h0M1567.3 1346.1h0M1387.0 1327.2h0M1597.7 1366.2h0M1490.9 1327.4h0M1363.3 1364.3h0M1559.7 1342.0h0M1487.8 1368.4h0M1477.4 1369.1h0M1415.3 1398.5h0M1418.6 1352.6h0M1536.2 1305.0h0M1465.5 1336.7h0M1372.8 1389.0h0M1447.3 1342.2h0M1411.2 1358.7h0M1451.5 1318.7h0M1382.7 1394.1h0M1598.9 1320.3h0M1384.4 1373.0h0M1420.2 1395.8h0M1396.1 1320.2h0M1371.1 1409.0h0M1380.4 1333.4h0M1410.1 1408.2h0M1484.7 1303.0h0M1584.8 1369.6h0M1578.2 1354.1h0M1362.7 1381.0h0M1442.6 1323.9h0M1475.3 1402.0h0M1434.5 1317.1h0M1729.4 1361.4h0M1495.9 1370.3h0M1369.1 1359.9h0M1482.9 1293.8h0M1526.5 1304.0h0M1457.4 1383.0h0M1376.0 1364.8h0M1380.9 1371.1h0M1574.7 1382.6h0M1691.8 1213.6h0M1502.7 1372.5h0M1401.3 1333.5h0M1520.1 1303.9h0M1636.3 1366.3h0M1399.2 1340.0h0M1384.7 1409.9h0M1383.8 1340.2h0M1491.6 1389.1h0M1382.4 1346.3h0M1474.6 1361.4h0M1689.3 1394.9h0M1494.5 1388.5h0M1373.4 1386.0h0M1417.4 1393.5h0M1592.4 1409.9h0M1545.7 1274.9h0M1366.6 1355.8h0M1470.5 1385.3h0M1478.3 1400.0h0M1443.5 1391.0h0M1501.0 1340.1h0M1407.8 1368.2h0M1605.2 1388.8h0M1540.3 1362.1h0M1437.6 1303.5h0M1388.4 1391.3h0M1411.7 1384.9h0M1468.6 1339.5h0M1498.5 1301.1h0M1512.3 1314.3h0M1572.0 1361.3h0M1537.4 1304.4h0M1679.8 1351.2h0M1462.5 1348.1h0M1384.4 1344.5h0M1551.2 1365.3h0M1360.7 1330.7h0M1483.6 1363.0h0M1499.5 1296.4h0M1442.2 1313.1h0M1481.4 1319.6h0M1384.8 1365.4h0M1498.3 1349.2h0M1564.8 1331.0h0M1719.8 1386.5h0M1429.1 1324.8h0M1669.9 1324.6h0M1714.3 1353.9h0M1715.0 1337.5h0M1680.4 1347.4h0M1486.8 1345.7h0M1523.7 1283.2h0M1419.3 1392.4h0M1505.5 1320.0h0M1443.3 1344.8h0M1641.9 1276.7h0M1516.9 1358.9h0M1510.1 1394.1h0M1508.1 1322.1h0M1533.5 1389.8h0M1542.1 1326.0h0M1374.7 1368.2h0M1484.3 1347.6h0M1372.6 1376.7h0M1502.3 1295.9h0M1412.9 1349.2h0M1488.4 1342.0h0M1615.1 1372.1h0M1479.8 1283.5h0M1561.5 1282.7h0M1487.4 1372.1h0M1503.6 1407.9h0M1546.8 1335.1h0M1369.3 1401.1h0M1378.0 1365.8h0M1504.8 1374.0h0M1490.2 1388.3h0M1581.0 1371.7h0M1452.4 1329.9h0M1649.3 1382.0h0M1510.9 1344.0h0M1639.5 1253.1h0M1400.6 1325.7h0M1363.8 1319.3h0M1385.7 1334.6h0M1417.6 1404.8h0M1687.8 1369.2h0M1632.5 1315.2h0M1629.1 1408.3h0M1543.1 1367.5h0M1458.7 1359.5h0M1506.8 1368.1h0M1360.3 1313.9h0M1574.5 1298.6h0M1610.3 1353.9h0M1455.0 1356.1h0M1603.0 1322.1h0M1471.1 1300.8h0M1489.0 1345.8h0M1528.6 1337.3h0M1401.6 1332.0h0M1493.5 1383.1h0M1397.0 1332.9h0M1557.2 1357.7h0M1671.2 1396.5h0M1727.6 1350.4h0M1446.5 1405.6h0M1544.4 1350.5h0M1438.5 1403.5h0M1488.0 1371.6h0M1395.3 1324.8h0M1520.1 1292.5h0M1361.5 1382.0h0M1479.7 1376.7h0M1458.6 1388.1h0M1482.2 1371.8h0M1361.0 1408.8h0M1630.9 1305.2h0M1432.8 1333.2h0M1390.1 1352.5h0M1656.7 1368.5h0M1454.8 1314.4h0M1493.1 1391.4h0M1412.4 1408.0h0M1382.1 1399.2h0M1548.8 1363.3h0M1361.0 1406.4h0M1465.8 1389.1h0M1559.5 1389.0h0M1495.1 1333.1h0M1413.3 1391.8h0M1654.7 1342.6h0M1589.4 1299.7h0M1372.2 1396.9h0M1433.5 1306.3h0M1450.2 1304.0h0M1463.3 1313.9h0M1578.6 1363.0h0M1418.1 1345.7h0M1562.5 1311.4h0M1383.2 1346.8h0M1395.0 1361.7h0M1423.2 1409.9h0M1394.0 1396.3h0M1547.9 1304.4h0M1440.3 1361.9h0M1461.4 1384.3h0M1449.7 1364.9h0M1408.9 1338.3h0M1522.0 1334.9h0M1400.2 1378.8h0M1448.2 1349.8h0M1392.0 1340.6h0M1519.6 1392.3h0M1476.9 1360.0h0M1428.6 1382.1h0M1483.3 1337.0h0M1462.9 1329.2h0M1585.1 1409.9h0M1550.3 1366.6h0M1364.1 1409.9h0M1414.5 1330.2h0M1525.1 1316.5h0M1389.3 1401.3h0M1434.7 1372.5h0M1445.9 1377.1h0M1440.2 1315.7h0M1394.8 1398.1h0M1377.9 1328.9h0M1379.9 1340.2h0M1508.6 1380.8h0M1422.5 1383.8h0M1367.6 1366.0h0M1375.8 1347.8h0M1466.8 1349.5h0M1367.1 1385.7h0M1362.2 1361.0h0M1703.9 1254.4h0M1593.1 1390.4h0M1590.9 1406.3h0M1395.9 1393.2h0M1672.5 1398.7h0M1427.0 1325.9h0M1588.9 1302.9h0M1492.0 1312.2h0M1493.9 1346.6h0M1434.1 1300.7h0M1380.5 1362.8h0M1361.8 1356.3h0M1464.6 1309.3h0M1626.1 1393.3h0M1367.0 1330.7h0M1461.1 1406.6h0M1698.7 1374.5h0M1370.5 1409.0h0M1437.8 1405.0h0M1398.7 1366.9h0M1443.0 1317.3h0M1446.4 1400.5h0M1432.2 1344.3h0M1439.7 1371.9h0M1462.0 1310.9h0M1590.0 1367.5h0M1416.9 1298.3h0M1372.2 1352.7h0M1553.6 1310.5h0M1598.5 1352.2h0M1391.3 1338.2h0M1427.2 1326.8h0M1437.1 1337.4h0M1424.3 1401.5h0M1405.2 1383.9h0M1494.1 1398.1h0M1387.2 1308.2h0M1403.9 1365.4h0M1454.2 1382.7h0M1634.9 1341.1h0M1569.4 1342.2h0M1565.2 1365.8h0M1447.1 1302.3h0M1668.2 1347.3h0M1580.0 1379.6h0M1443.8 1329.6h0M1406.8 1341.2h0M1557.5 1359.7h0M1450.0 1337.1h0M1364.3 1356.5h0M1375.3 1405.7h0M1560.6 1338.5h0M1398.1 1377.7h0M1523.5 1348.0h0M1391.5 1375.0h0M1501.7 1295.0h0M1433.0 1340.9h0M1480.3 1294.6h0M1584.0 1391.5h0M1473.4 1383.1h0M1446.7 1386.3h0M1382.5 1355.9h0M1447.5 1347.7h0M1467.4 1391.0h0M1555.1 1375.5h0M1390.5 1366.6h0M1397.3 1361.6h0M1522.4 1320.7h0M1393.6 1360.2h0M1383.6 1344.0h0M1415.2 1337.7h0M1390.3 1391.2h0M1455.2 1402.8h0M1464.4 1334.2h0M1561.3 1338.3h0M1440.4 1356.5h0M1536.0 1399.9h0M1459.2 1384.1h0M1563.8 1320.1h0M1612.6 1276.5h0M1371.3 1396.3h0M1538.4 1310.0h0M1597.1 1355.9h0M1414.0 1346.3h0M1415.0 1333.2h0M1500.7 1313.7h0M1360.3 1330.2h0M1552.3 1309.2h0M1610.9 1278.3h0M1453.5 1405.8h0M1364.9 1359.3h0M1618.6 1284.4h0M1381.3 1354.9h0M1558.7 1368.0h0M1538.6 1310.4h0M1430.9 1391.9h0M1575.2 1382.4h0M1490.8 1399.0h0M1550.2 1351.4h0M1577.8 1395.8h0M1515.9 1282.4h0M1497.1 1355.4h0M1513.2 1287.0h0M1544.0 1326.2h0M1442.8 1319.2h0M1389.7 1377.4h0M1531.8 1301.6h0M1370.0 1368.2h0M1381.7 1360.1h0M1640.9 1399.7h0M1464.1 1307.7h0M1570.7 1390.4h0M1382.9 1318.9h0M1461.5 1327.9h0M1441.0 1366.4h0M1428.7 1326.2h0M1417.3 1336.4h0M1366.4 1350.3h0M1420.4 1409.5h0M1436.7 1372.6h0M1370.7 1379.5h0M1428.5 1405.5h0M1423.5 1384.1h0M1362.6 1363.3h0M1475.4 1331.8h0M1371.2 1408.2h0M1404.7 1323.7h0M1469.4 1336.8h0M1638.3 1341.4h0M1371.9 1401.8h0M1376.6 1351.9h0M1410.4 1360.2h0M1507.7 1371.5h0M1479.1 1378.5h0M1528.0 1396.4h0M1397.8 1321.7h0M1424.6 1386.6h0M1451.8 1362.7h0M1403.2 1394.5h0M1402.7 1335.7h0M1387.4 1391.7h0M1516.8 1329.7h0M1415.8 1405.4h0M1529.2 1360.9h0M1403.7 1367.1h0M1448.3 1309.6h0M1407.4 1379.7h0M1394.4 1340.3h0M1438.7 1355.1h0M1613.6 1350.0h0M1692.4 1386.1h0M1646.1 1375.1h0M1456.8 1329.8h0M1570.1 1349.8h0M1606.2 1291.8h0M1465.0 1317.7h0M1708.0 1366.5h0M1487.8 1409.3h0M1500.4 1345.3h0M1477.3 1312.9h0M1392.8 1351.0h0M1662.2 1384.1h0M1416.7 1357.5h0M1403.4 1398.0h0M1367.7 1381.2h0M1400.9 1375.7h0M1376.8 1354.1h0M1722.4 1269.0h0M1466.1 1372.8h0M1501.8 1382.1h0M1423.1 1360.8h0M1472.6 1383.3h0M1427.5 1330.5h0M1378.4 1348.4h0M1370.1 1348.0h0M1467.1 1399.8h0M1371.7 1408.1h0M1425.5 1406.8h0M1373.0 1347.5h0M1586.0 1305.9h0M1387.8 1376.2h0M1434.2 1393.5h0M1372.0 1346.6h0M1525.3 1316.6h0M1535.2 1356.0h0M1369.8 1345.3h0M1496.3 1340.4h0M1445.8 1396.9h0M1717.5 1286.5h0M1481.7 1349.4h0M1451.2 1366.8h0M1384.2 1356.4h0M1541.6 1404.4h0M1450.1 1395.0h0M1419.8 1313.4h0M1402.2 1372.6h0M1388.9 1331.0h0M1430.1 1333.0h0M1410.7 1282.7h0M1379.0 1324.7h0M1374.0 1366.4h0M1647.2 1393.2h0M1441.6 1389.0h0M1481.1 1402.9h0M1484.8 1318.7h0M1414.8 1392.7h0M1601.6 1377.9h0M1426.8 1326.3h0M1409.3 1388.3h0M1504.3 1362.9h0M1633.2 1350.2h0M1396.5 1388.5h0M1450.7 1352.3h0M1514.0 1324.7h0M1407.2 1371.3h0M1368.6 1352.3h0M1471.5 1348.9h0M1471.8 1407.5h0M1579.5 1278.9h0M1568.5 1386.4h0M1495.5 1330.3h0M1370.9 1324.2h0M1404.9 1378.0h0M1543.3 1378.0h0M1412.1 1306.1h0M1364.6 1326.5h0M1399.5 1398.7h0M1376.1 1394.6h0M1518.1 1388.0h0M1393.1 1318.9h0M1420.9 1378.8h0M1507.2 1339.4h0M1526.0 1402.5h0M1485.9 1309.4h0M1418.8 1391.5h0M1630.5 1344.3h0M1572.8 1308.0h0M1454.5 1318.1h0M1474.8 1300.3h0M1553.7 1400.1h0M1456.1 1344.3h0M1595.8 1294.3h0M1379.9 1379.2h0M1363.4 1393.6h0M1552.6 1268.1h0M1581.3 1330.1h0M1425.2 1363.6h0M1688.8 1370.4h0M1525.8 1384.2h0M1386.7 1398.0h0M1368.5 1376.0h0M1588.5 1360.0h0M1363.6 1397.3h0M1539.0 1350.4h0M1524.3 1360.8h0M1404.5 1333.2h0M1468.1 1327.0h0M1462.3 1369.4h0M1546.3 1373.0h0M1571.1 1289.2h0M1373.5 1365.0h0M1633.8 1314.6h0M1503.3 1395.5h0M1405.7 1371.0h0M1439.5 1317.2h0M1455.8 1383.2h0M1518.5 1404.8h0M1401.9 1370.1h0M1406.5 1370.6h0M1539.8 1327.8h0M1449.5 1348.9h0M1582.4 1299.4h0M1361.2 1336.0h0M1394.5 1311.9h0M1377.8 1378.4h0M1414.0 1337.2h0M1660.8 1351.0h0M1436.3 1341.8h0M1583.3 1275.8h0M1512.6 1380.6h0M1587.0 1298.8h0M1500.3 1314.1h0M1662.7 1312.3h0M1565.8 1280.5h0M1529.1 1408.1h0M1422.2 1311.0h0M1371.4 1389.6h0M1406.4 1387.1h0M1675.7 1377.5h0M1497.4 1404.9h0M1725.6 1331.8h0M1609.1 1321.7h0M1408.0 1339.6h0M1399.8 1402.7h0M1593.6 1291.6h0M1641.6 1296.3h0M1391.8 1403.7h0M1409.4 1357.8h0M1489.3 1360.2h0M1363.1 1401.1h0M1611.7 1327.8h0M1412.9 1349.7h0M1499.8 1395.7h0M1387.4 1397.4h0M1499.1 1299.3h0M1408.5 1350.8h0M1602.4 1346.2h0M1365.0 1392.5h0M1556.9 1337.9h0M1509.4 1354.1h0M1609.8 1366.5h0M1618.1 1318.4h0M1364.5 1336.0h0M1409.8 1331.6h0M1468.4 1346.1h0M1675.9 1359.8h0M1404.2 1398.3h0M1527.7 1368.7h0M1489.7 1347.1h0M1403.7 1386.9h0M1451.6 1340.9h0M1721.3 1304.9h0M1459.0 1401.8h0M1425.0 1392.4h0M1444.5 1377.3h0M1620.9 1296.4h0M1517.7 1283.0h0M1395.7 1307.9h0M1439.1 1315.1h0M1439.3 1322.2h0M1485.5 1304.1h0M1556.2 1331.5h0M1416.3 1375.6h0M1716.1 1325.8h0M1401.7 1306.9h0M1398.5 1392.1h0M1459.6 1339.0h0M1708.8 1358.3h0M1473.2 1398.7h0M1379.4 1345.5h0M1375.6 1333.9h0M1398.4 1380.4h0M1496.9 1316.3h0M1623.9 1389.0h0M1569.9 1355.5h0M1549.3 1408.8h0M1408.2 1320.4h0M1429.7 1370.7h0M1443.9 1365.7h0M1534.9 1401.3h0M1508.9 1284.4h0M1411.2 1353.7h0M1482.6 1381.4h0M1397.1 1337.9h0M1518.1 1301.5h0M1654.0 1345.4h0M1422.1 1371.0h0M1376.4 1325.1h0M1511.3 1347.4h0M1375.2 1404.8h0M1375.0 1353.5h0M1389.8 1305.9h0M1510.5 1399.3h0M1380.8 1401.4h0M1406.7 1330.0h0M1533.9 1318.2h0M1402.1 1398.1h0M1381.9 1397.6h0M1532.2 1378.5h0M1415.5 1331.1h0M1505.3 1383.7h0M1416.6 1340.2h0M1436.2 1313.0h0M1509.4 1362.0h0M1378.2 1314.5h0M1700.5 1291.8h0M1364.1 1400.7h0M1421.3 1328.7h0M1568.8 1317.0h0M1669.5 1340.5h0M1388.2 1342.8h0M1378.6 1390.8h0M1531.1 1325.0h0M1453.8 1315.1h0M1563.1 1314.0h0M1414.2 1402.4h0M1711.0 1399.5h0M1530.0 1301.9h0M1616.7 1392.4h0M1435.7 1380.8h0M1571.6 1402.9h0M1491.9 1376.1h0M1376.9 1358.8h0M1487.2 1337.9h0M1459.8 1333.9h0M1435.1 1325.1h0M1540.9 1349.9h0M1439.9 1377.4h0M1699.8 1370.9h0M1448.5 1369.9h0M1425.5 1333.8h0M1673.9 1279.7h0M1360.5 1376.2h0M1365.3 1351.5h0M1471.2 1373.4h0M1551.1 1275.1h0M1369.8 1353.1h0M1622.6 1307.8h0M1418.5 1357.9h0M1423.9 1392.6h0M1374.2 1389.4h0M1392.6 1331.6h0M1622.2 1309.1h0M1547.0 1389.1h0M1608.3 1311.4h0M1431.7 1368.8h0M1362.8 1405.9h0M1393.9 1379.4h0M1452.0 1400.8h0M1429.7 1357.5h0M1678.8 1326.5h0M1380.3 1347.7h0M1566.6 1293.7h0M1448.9 1334.8h0M1453.8 1320.8h0M1537.8 1302.3h0M1452.6 1354.1h0M1445.2 1337.6h0M1367.4 1377.6h0M1508.4 1329.4h0M1428.2 1390.3h0M1474.2 1328.8h0M1457.9 1335.6h0M1392.2 1402.1h0M1437.4 1315.7h0M1475.1 1331.9h0M1635.4 1279.2h0M1385.2 1336.1h0M1419.5 1313.6h0M1613.4 1317.3h0M1481.0 1378.9h0M1516.4 1351.4h0M1438.2 1344.1h0M1417.1 1406.0h0M1476.3 1396.9h0M1369.6 1356.3h0M1478.7 1396.0h0M1365.2 1343.5h0M1513.7 1324.5h0M1407.1 1387.1h0M1455.5 1362.0h0M1591.8 1336.9h0M1450.5 1318.4h0M1469.1 1324.8h0M1467.7 1340.2h0M1402.4 1383.0h0M1582.0 1358.4h0M1495.0 1373.5h0M1599.7 1381.8h0M1391.2 1391.2h0M1386.3 1311.9h0M1431.8 1321.6h0M1367.3 1352.4h0M1526.9 1299.1h0M1555.7 1282.8h0M1375.1 1389.0h0M1591.2 1267.5h0M1478.1 1378.8h0M1433.7 1397.4h0M1404.3 1328.9h0M1366.9 1344.3h0M1637.5 1391.8h0M1587.7 1298.1h0M1504.8 1324.4h0M1521.7 1409.9h0M1583.4 1309.4h0M1576.5 1317.6h0M1383.5 1333.1h0M1426.1 1312.3h0M1374.7 1369.6h0M1386.7 1367.8h0M1466.5 1389.7h0M1370.3 1341.4h0M1362.9 1332.5h0M1645.4 1402.3h0M1664.3 1297.2h0M1507.5 1345.0h0M1387.9 1373.3h0M1363.7 1409.9h0M1475.7 1359.8h0M1362.3 1345.3h0M1683.6 1277.7h0M1391.0 1383.0h0M1459.5 1354.5h0M1392.5 1375.5h0M1415.9 1361.3h0M1527.1 1348.5h0M1421.8 1324.9h0M1385.5 1347.0h0M1534.5 1409.6h0M1522.9 1331.3h0M1394.7 1375.1h0M1595.2 1292.6h0M1401.2 1346.5h0M1405.9 1324.2h0M1368.2 1325.7h0M1385.7 1372.0h0M1383.9 1408.2h0M1659.2 1275.4h0M1372.5 1404.3h0M1383.0 1342.8h0M1602.0 1340.6h0M1566.1 1388.3h0M1539.5 1334.5h0M1710.2 1375.1h0M1594.9 1403.1h0M1469.6 1376.2h0M1558.5 1344.4h0M1386.0 1334.8h0M1494.3 1409.9h0M1644.1 1363.6h0M1656.4 1406.7h0M1480.2 1321.0h0M1445.1 1406.4h0M1400.1 1313.3h0M1621.5 1281.5h0M1563.5 1359.3h0M1482.8 1319.9h0M1473.1 1340.1h0M1379.7 1377.0h0M1461.7 1373.3h0M1723.6 1328.9h0M1695.0 1280.1h0M1521.5 1353.0h0M1403.3 1362.7h0M1430.1 1377.7h0M1435.9 1341.3h0M1432.3 1409.0h0M1388.8 1342.0h0M1399.9 1315.8h0M1503.9 1310.1h0M1429.3 1343.1h0M1422.8 1306.0h0M1368.7 1348.9h0M1362.0 1360.7h0M1378.8 1340.9h0M1465.2 1316.1h0M1660.3 1288.5h0M1430.6 1325.9h0M1423.7 1366.7h0M1434.8 1352.7h0M1577.1 1392.3h0M1407.6 1362.7h0M1460.9 1396.3h0M1627.5 1261.9h0M1553.0 1304.6h0M1644.5 1262.4h0M1684.9 1298.9h0M1452.7 1287.0h0M1534.0 1395.2h0M1411.0 1369.9h0M1421.1 1307.8h0M1554.4 1407.2h0M1428.0 1304.1h0M1576.6 1378.4h0M1396.5 1341.0h0M1608.0 1294.8h0M1638.9 1397.4h0M1726.2 1347.8h0M1378.5 1328.1h0M1436.4 1405.2h0M1488.8 1379.2h0M1580.4 1315.8h0M1366.6 1405.5h0M1705.5 1272.8h0M1719.5 1399.8h0M1368.4 1395.6h0M1379.5 1372.8h0M1405.5 1333.1h0M1408.4 1405.8h0M1625.0 1289.2h0M1515.5 1333.0h0M1615.9 1330.2h0M1530.6 1327.9h0M1466.4 1382.0h0M1421.7 1363.0h0M1509.8 1297.5h0M1548.5 1362.6h0M1586.2 1314.7h0M1489.8 1365.3h0M1373.7 1400.7h0M1491.4 1362.5h0M1386.0 1352.9h0M1367.9 1382.1h0M1419.3 1366.1h0M1361.7 1363.2h0M1596.5 1403.7h0M1374.5 1316.3h0M1533.1 1308.3h0M1475.9 1338.5h0M1405.9 1399.6h0M1485.3 1383.1h0M1380.1 1391.3h0M1441.3 1397.0h0M1524.1 1356.2h0M1448.7 1338.0h0M1537.2 1326.2h0M1460.6 1309.5h0M1654.9 1361.4h0M1458.4 1345.5h0M1377.4 1328.4h0M1396.8 1379.4h0M1682.4 1331.7h0M1512.3 1409.9h0M1400.7 1343.5h0M1573.2 1326.2h0M1413.7 1363.5h0M1366.1 1340.2h0M1652.0 1254.6h0M1691.1 1243.0h0M1528.1 1385.8h0M1564.3 1253.8h0M1492.7 1353.3h0M1396.2 1394.2h0M1664.6 1354.3h0M1399.1 1339.5h0M1386.4 1340.0h0M1530.4 1301.9h0M1502.9 1327.5h0M1712.2 1390.3h0M1426.7 1311.9h0M1483.8 1328.9h0M1551.6 1312.6h0M1453.3 1341.8h0M1524.8 1332.6h0M1479.3 1323.0h0M1558.1 1407.6h0M1433.1 1351.3h0M1460.4 1368.0h0M1397.5 1346.8h0M1373.3 1347.2h0M1470.7 1296.7h0M1514.5 1334.0h0M1503.1 1320.6h0M1368.1 1354.1h0M1472.5 1334.6h0M1467.4 1301.4h0M1414.6 1370.1h0M1390.5 1358.0h0M1448.0 1315.6h0M1409.0 1366.0h0M1424.8 1384.3h0M1388.6 1321.1h0M1594.4 1350.4h0M1457.7 1356.2h0M1426.1 1400.8h0M1431.4 1373.4h0M1446.0 1372.0h0M1471.9 1379.2h0M1519.0 1285.8h0M1495.8 1328.5h0M1531.5 1309.1h0M1433.8 1398.7h0M1477.8 1352.5h0M1445.6 1402.9h0M1532.5 1361.6h0M1389.1 1386.3h0M1515.0 1332.2h0M1492.5 1290.2h0M1624.4 1390.2h0M1696.5 1285.2h0M1398.8 1326.8h0M1402.5 1330.4h0M1627.7 1299.6h0M1706.6 1381.1h0M1499.2 1337.7h0M1520.8 1362.1h0M1545.2 1366.7h0M1390.9 1393.8h0M1484.2 1313.3h0M1600.5 1360.8h0M1561.9 1294.0h0M1463.9 1307.7h0M1456.4 1393.9h0M1544.8 1365.6h0M1365.7 1372.9h0M1517.4 1361.1h0M1457.1 1310.8h0M1405.1 1334.6h0M1391.6 1381.2h0M1496.6 1287.2h0M1697.9 1329.8h0M1408.6 1388.2h0M1468.9 1401.2h0M1648.4 1404.2h0M1375.7 1389.9h0M1657.9 1357.4h0M1426.4 1329.9h0M1431.9 1299.7h0M1424.3 1317.8h0M1422.7 1358.9h0M1427.6 1320.3h0M1463.6 1324.9h0M1587.8 1362.4h0M1573.7 1372.3h0M1604.6 1331.5h0M1497.8 1363.8h0M1393.4 1386.4h0M1388.0 1399.8h0M1399.4 1366.5h0M1576.0 1287.2h0M1368.9 1399.1h0M1476.9 1306.2h0M1457.5 1337.0h0M1666.5 1367.3h0M1430.3 1365.1h0M1397.6 1362.0h0M1360.7 1390.3h0M1410.1 1318.7h0M1453.1 1405.2h0M1490.3 1374.4h0M1394.1 1348.3h0M1376.3 1381.4h0M1365.8 1409.9h0M1444.8 1366.5h0M1366.2 1397.7h0M1361.4 1347.9h0M1417.8 1366.2h0M1650.5 1379.0h0M1374.3 1331.3h0M1455.9 1309.0h0M1403.0 1336.7h0M1377.3 1333.7h0M1365.6 1328.7h0M1545.4 1301.2h0M1425.9 1384.6h0M1444.7 1388.3h0M1416.1 1331.6h0M1411.5 1399.9h0M1400.4 1352.5h0M1392.3 1387.1h0M1460.2 1362.0h0M1476.6 1347.9h0M1464.9 1342.0h0M1412.6 1341.3h0M1473.6 1282.8h0M1480.6 1365.8h0M1673.7 1279.9h0M1626.5 1409.9h0M1431.1 1402.2h0M1614.4 1292.7h0M2127.3 1087.6h0M2010.3 1120.0h0M2064.2 1127.8h0M2077.4 1127.8h0M2110.9 1140.8h0M1965.0 1140.8h0M1919.7 1161.1h0M1925.0 1160.6h0M1923.5 1164.6h0M1928.6 1177.3h0M1775.9 1175.2h0M1889.6 1183.4h0M1895.1 1185.9h0M1906.7 1185.9h0M1869.6 1193.3h0M1796.8 1195.8h0M1812.4 1197.3h0M1769.0 1201.9h0M1899.7 1206.7h0M1901.8 1208.6h0M1951.7 1209.9h0M2078.7 1212.4h0M1728.2 1222.5h0M1728.2 1229.5h0M1759.7 1222.1h0M1763.9 1218.9h0M1842.9 1222.1h0M1856.4 1224.6h0M1891.1 1231.4h0M1728.2 1242.1h0M1743.9 1242.1h0M1751.7 1249.5h0M1752.4 1254.7h0M1765.6 1248.8h0M1796.6 1250.5h0M1795.5 1255.8h0M1805.0 1249.5h0M1868.2 1248.0h0M1926.5 1251.2h0M1926.5 1253.7h0M2049.2 1242.7h0M1965.0 1252.0h0M1994.1 1251.2h0M1748.2 1263.6h0M1808.8 1264.8h0M1865.0 1263.8h0M1883.7 1259.4h0M1877.0 1269.7h0M1806.5 1274.9h0M1846.1 1274.7h0M1755.1 1280.6h0M1762.1 1282.9h0M1783.7 1283.2h0M1740.2 1295.8h0M1798.7 1289.5h0M1855.1 1287.8h0M1733.4 1306.3h0M1739.3 1311.6h0M1771.9 1303.4h0M1794.9 1303.8h0M1798.7 1299.6h0M1964.6 1296.4h0M2045.0 1298.5h0M1885.0 1303.8h0M1891.5 1313.3h0M1753.0 1321.7h0M1777.0 1320.2h0M1796.6 1325.7h0M1883.1 1322.1h0M1731.3 1330.1h0M1817.6 1334.3h0M1821.2 1331.6h0M1745.6 1341.1h0M1756.6 1340.0h0M1772.6 1340.0h0M1781.6 1339.6h0M1935.3 1341.5h0M1852.8 1346.7h0M1796.6 1351.8h0M1864.6 1357.3h0M1906.5 1359.6h0M1746.1 1358.5h0M1727.1 1375.2h0M1794.5 1378.3h0M1816.2 1381.7h0M1845.0 1383.4h0M1749.2 1387.8h0M1765.0 1393.1h0M1768.2 1389.5h0M1769.0 1398.9h0M1783.5 1396.2h0M1828.2 1390.1h0M1758.1 1408.4h0M1791.5 1406.5h0M1877.8 1405.3h0" stroke="#181c22" stroke-width="7.4" stroke-linecap="round" fill="none"/><path d="M1365.7 1447.7h0M1519.0 1433.3h0M1374.3 1469.4h0M1444.4 1473.5h0M1548.8 1474.7h0M1498.2 1514.1h0M1588.5 1448.9h0M1490.5 1464.6h0M1516.8 1469.8h0M1365.1 1482.4h0M1475.6 1531.1h0M1600.8 1495.3h0M1391.2 1431.3h0M1712.4 1551.7h0M1513.7 1472.3h0M1413.6 1414.3h0M1391.6 1514.4h0M1371.9 1475.8h0M1533.0 1458.3h0M1479.5 1512.4h0M1441.7 1416.9h0M1582.5 1423.1h0M1432.5 1419.8h0M1430.8 1467.5h0M1392.7 1435.8h0M1510.6 1425.9h0M1477.2 1470.0h0M1392.3 1429.2h0M1452.6 1457.6h0M1431.3 1505.0h0M1606.6 1494.4h0M1367.8 1498.4h0M1455.8 1511.6h0M1398.1 1444.4h0M1507.8 1493.6h0M1611.1 1491.2h0M1492.5 1492.0h0M1362.6 1466.6h0M1433.8 1424.2h0M1519.7 1513.0h0M1411.0 1461.5h0M1408.0 1480.9h0M1575.8 1486.9h0M1368.8 1433.0h0M1680.1 1588.8h0M1634.7 1441.4h0M1471.7 1458.4h0M1369.4 1469.2h0M1423.1 1443.5h0M1409.6 1512.7h0M1527.2 1439.6h0M1492.3 1530.2h0M1509.6 1431.0h0M1639.3 1552.8h0M1499.6 1421.5h0M1416.8 1422.1h0M1441.5 1435.7h0M1435.1 1421.1h0M1465.9 1530.4h0M1391.9 1447.2h0M1485.9 1461.0h0M1619.4 1503.2h0M1530.4 1498.3h0M1548.1 1520.9h0M1440.0 1513.8h0M1545.6 1486.5h0M1426.2 1447.3h0M1400.6 1439.9h0M1543.5 1533.2h0M1360.8 1490.6h0M1529.7 1461.7h0M1499.2 1527.3h0M1424.9 1446.6h0M1427.6 1450.9h0M1469.7 1464.6h0M1411.5 1413.1h0M1545.2 1558.2h0M1386.8 1443.0h0M1395.4 1480.1h0M1363.3 1466.2h0M1461.8 1456.5h0M1569.4 1564.3h0M1509.5 1481.8h0M1494.1 1494.9h0M1514.6 1491.3h0M1465.3 1518.1h0M1546.9 1441.7h0M1713.2 1542.3h0M1670.8 1424.2h0M1481.7 1434.6h0M1425.8 1441.4h0M1602.0 1419.0h0M1366.2 1453.5h0M1393.0 1434.8h0M1666.0 1568.5h0M1522.6 1453.1h0M1567.2 1467.7h0M1450.3 1459.6h0M1395.5 1491.0h0M1607.5 1541.7h0M1652.8 1577.9h0M1372.3 1423.0h0M1364.7 1483.3h0M1564.9 1549.2h0M1557.2 1543.3h0M1500.0 1469.6h0M1402.0 1424.9h0M1373.1 1468.6h0M1706.3 1526.3h0M1482.5 1491.3h0M1407.8 1478.1h0M1474.3 1497.6h0M1384.8 1456.2h0M1480.7 1449.7h0M1430.4 1488.3h0M1503.9 1492.0h0M1389.8 1448.2h0M1651.8 1478.6h0M1541.9 1488.6h0M1434.2 1413.1h0M1476.2 1429.6h0M1365.6 1432.8h0M1575.0 1520.4h0M1722.7 1493.9h0M1466.7 1521.0h0M1437.5 1437.4h0M1374.2 1492.0h0M1525.9 1514.5h0M1589.2 1470.6h0M1392.6 1433.4h0M1407.0 1485.0h0M1476.9 1437.7h0M1674.0 1496.9h0M1462.1 1426.6h0M1434.7 1437.7h0M1459.9 1520.7h0M1382.2 1427.8h0M1590.5 1522.8h0M1555.8 1478.9h0M1504.4 1511.4h0M1535.3 1468.0h0M1438.6 1422.6h0M1469.5 1452.9h0M1404.9 1494.2h0M1398.7 1437.9h0M1535.8 1462.3h0M1378.5 1421.8h0M1422.1 1495.5h0M1400.1 1450.4h0M1460.5 1458.2h0M1439.6 1426.3h0M1442.2 1445.8h0M1470.2 1415.8h0M1401.2 1429.8h0M1502.3 1527.6h0M1440.5 1417.7h0M1427.8 1465.7h0M1467.3 1555.8h0M1400.3 1413.1h0M1369.1 1425.3h0M1526.7 1423.4h0M1525.5 1517.0h0M1451.0 1452.8h0M1441.1 1485.0h0M1516.9 1527.8h0M1668.9 1545.1h0M1363.9 1454.5h0M1457.3 1507.3h0M1397.1 1458.8h0M1532.0 1491.1h0M1402.4 1477.0h0M1451.1 1449.4h0M1433.6 1422.6h0M1452.0 1506.0h0M1388.1 1421.4h0M1369.8 1420.6h0M1388.8 1413.5h0M1447.5 1440.2h0M1363.2 1433.2h0M1584.9 1450.4h0M1425.4 1490.8h0M1412.9 1430.7h0M1604.4 1425.7h0M1495.1 1464.3h0M1647.5 1553.4h0M1643.9 1453.1h0M1397.0 1435.7h0M1543.2 1452.7h0M1384.0 1449.3h0M1473.1 1491.0h0M1534.0 1455.0h0M1519.2 1500.0h0M1490.7 1434.4h0M1404.7 1482.9h0M1405.8 1449.6h0M1374.6 1441.9h0M1528.7 1471.9h0M1452.2 1500.5h0M1361.0 1446.1h0M1447.0 1435.0h0M1410.7 1422.8h0M1454.9 1517.1h0M1381.8 1430.9h0M1515.9 1533.0h0M1416.5 1414.7h0M1439.1 1479.3h0M1584.2 1507.0h0M1577.0 1476.9h0M1455.4 1422.1h0M1462.7 1475.0h0M1431.7 1453.5h0M1432.0 1469.9h0M1397.3 1477.4h0M1625.9 1421.8h0M1380.8 1424.7h0M1489.6 1506.5h0M1362.9 1476.3h0M1558.7 1432.0h0M1440.6 1456.4h0M1421.4 1433.9h0M1524.2 1433.5h0M1689.9 1559.6h0M1452.8 1483.8h0M1421.4 1439.5h0M1393.7 1413.1h0M1483.0 1441.6h0M1415.4 1511.6h0M1404.1 1485.7h0M1376.5 1429.4h0M1378.8 1459.3h0M1464.7 1434.6h0M1379.3 1491.9h0M1367.1 1471.2h0M1573.4 1452.5h0M1484.5 1531.0h0M1458.9 1480.0h0M1453.2 1464.9h0M1361.7 1434.4h0M1375.5 1448.0h0M1379.0 1491.9h0M1676.0 1443.6h0M1398.2 1484.5h0M1504.8 1423.1h0M1408.4 1448.0h0M1361.6 1438.2h0M1616.7 1519.0h0M1429.9 1418.6h0M1456.3 1476.4h0M1727.6 1543.3h0M1412.5 1453.9h0M1378.0 1488.6h0M1520.4 1456.9h0M1421.8 1519.6h0M1415.8 1428.3h0M1574.7 1463.7h0M1437.6 1469.0h0M1538.7 1537.3h0M1565.6 1465.7h0M1496.9 1418.7h0M1483.4 1528.7h0M1360.3 1422.6h0M1367.8 1445.4h0M1369.2 1461.8h0M1407.2 1430.6h0M1498.7 1498.4h0M1419.7 1444.9h0M1422.8 1461.5h0M1403.3 1467.6h0M1546.5 1413.1h0M1395.9 1485.7h0M1389.4 1443.2h0M1524.4 1433.1h0M1513.5 1507.8h0M1429.0 1496.8h0M1489.9 1528.0h0M1406.1 1462.5h0M1377.8 1463.7h0M1590.7 1567.0h0M1411.3 1421.9h0M1408.0 1504.9h0M1446.2 1432.5h0M1476.5 1414.2h0M1581.7 1474.1h0M1479.1 1482.4h0M1386.6 1461.0h0M1503.1 1420.5h0M1617.7 1530.1h0M1599.8 1505.5h0M1560.9 1451.3h0M1548.9 1475.1h0M1375.7 1454.9h0M1561.4 1459.0h0M1385.0 1454.5h0M1401.0 1467.4h0M1390.8 1491.8h0M1401.5 1479.4h0M1534.2 1501.5h0M1442.5 1438.2h0M1501.9 1513.7h0M1684.3 1447.2h0M1390.7 1457.7h0M1377.1 1489.4h0M1436.6 1446.9h0M1497.6 1459.4h0M1425.2 1469.0h0M1448.1 1414.3h0M1439.9 1487.5h0M1595.8 1512.8h0M1571.0 1531.1h0M1395.7 1485.5h0M1615.3 1439.2h0M1554.5 1531.1h0M1493.1 1514.5h0M1485.5 1441.1h0M1424.2 1474.9h0M1370.2 1413.1h0M1467.1 1421.5h0M1531.4 1427.9h0M1454.3 1439.0h0M1593.9 1486.7h0M1592.7 1530.8h0M1375.0 1419.1h0M1371.1 1442.4h0M1387.0 1420.9h0M1385.6 1460.6h0M1473.5 1507.6h0M1468.4 1458.5h0M1422.3 1433.3h0M1367.5 1449.4h0M1552.9 1529.0h0M1409.8 1413.1h0M1380.5 1431.5h0M1373.5 1423.2h0M1523.6 1437.2h0M1508.3 1487.9h0M1470.7 1430.0h0M1623.1 1493.5h0M1638.9 1586.9h0M1551.7 1470.9h0M1528.3 1423.1h0M1405.3 1455.0h0M1512.2 1481.2h0M1363.6 1418.9h0M1397.5 1486.6h0M1446.1 1483.1h0M1461.2 1492.6h0M1726.4 1491.1h0M1449.5 1434.3h0M1444.7 1442.6h0M1458.3 1446.7h0M1368.3 1494.2h0M1406.0 1473.7h0M1367.9 1434.2h0M1419.2 1448.1h0M1420.6 1520.2h0M1448.4 1484.8h0M1559.4 1523.1h0M1469.1 1522.1h0M1424.6 1482.5h0M1378.7 1442.2h0M1392.3 1435.1h0M1491.3 1449.7h0M1620.0 1534.2h0M1402.2 1454.9h0M1371.2 1421.4h0M1366.4 1463.8h0M1394.4 1429.6h0M1496.0 1518.0h0M1460.2 1473.1h0M1361.2 1484.6h0M1618.8 1557.8h0M1502.7 1471.0h0M1403.4 1453.3h0M1580.2 1461.2h0M1486.6 1527.6h0M1692.8 1515.6h0M1598.8 1447.4h0M1605.4 1495.5h0M1436.2 1450.9h0M1391.0 1429.3h0M1406.3 1492.8h0M1447.8 1498.5h0M1435.6 1451.6h0M1393.5 1468.1h0M1368.7 1427.5h0M1366.9 1459.4h0M1687.6 1570.7h0M1433.4 1463.8h0M1408.3 1439.1h0M1398.8 1500.8h0M1360.5 1481.5h0M1362.4 1435.3h0M1708.9 1473.0h0M1444.5 1478.6h0M1451.3 1505.1h0M1448.6 1414.1h0M1662.2 1607.2h0M1364.9 1464.7h0M1370.7 1431.7h0M1496.3 1501.6h0M1427.3 1466.4h0M1381.4 1465.7h0M1552.0 1419.9h0M1363.7 1486.8h0M1413.5 1491.2h0M1406.7 1413.1h0M1397.6 1440.8h0M1531.0 1475.8h0M1389.1 1463.6h0M1508.4 1515.0h0M1393.4 1508.4h0M1383.7 1441.2h0M1374.1 1423.5h0M1457.5 1462.1h0M1530.1 1457.1h0M1383.0 1450.1h0M1714.9 1587.9h0M1397.8 1447.8h0M1578.1 1508.8h0M1489.3 1447.2h0M1567.9 1451.7h0M1399.2 1435.5h0M1488.5 1461.5h0M1370.3 1413.1h0M1457.7 1441.3h0M1370.6 1473.8h0M1377.4 1458.6h0M1414.5 1473.0h0M1643.2 1478.2h0M1376.2 1433.3h0M1416.9 1456.6h0M1396.0 1414.2h0M1362.2 1428.5h0M1568.3 1515.1h0M1366.8 1466.8h0M1364.0 1438.9h0M1382.0 1437.2h0M1649.5 1413.7h0M1631.6 1547.4h0M1718.1 1560.2h0M1660.8 1544.2h0M1506.5 1541.4h0M1419.0 1463.0h0M1570.6 1430.2h0M1414.9 1480.7h0M1482.2 1414.8h0M1378.4 1471.3h0M1376.0 1430.6h0M1417.3 1450.8h0M1382.8 1423.8h0M1410.5 1422.1h0M1719.0 1510.1h0M1487.6 1427.0h0M1388.0 1446.7h0M1399.5 1463.8h0M1432.1 1413.1h0M1556.7 1451.9h0M1385.4 1467.9h0M1478.0 1514.6h0M1410.2 1413.1h0M1527.8 1543.3h0M1383.5 1424.7h0M1503.6 1442.8h0M1404.3 1471.4h0M1426.7 1434.9h0M1409.1 1497.5h0M1364.2 1492.8h0M1511.3 1494.8h0M1449.9 1501.8h0M1698.9 1515.8h0M1379.5 1457.2h0M1466.1 1484.5h0M1383.0 1453.4h0M1404.5 1417.4h0M1593.0 1508.4h0M1372.0 1450.6h0M1384.3 1506.7h0M1377.6 1436.8h0M1459.1 1466.5h0M1389.6 1441.6h0M1525.2 1549.5h0M1504.9 1547.9h0M1434.4 1422.9h0M1402.7 1488.8h0M1378.1 1439.2h0M1537.9 1452.0h0M1399.7 1469.9h0M1394.7 1421.2h0M1396.9 1413.1h0M1516.4 1422.7h0M1418.0 1483.5h0M1462.4 1431.0h0M1363.0 1473.0h0M1427.9 1494.6h0M1521.0 1506.4h0M1373.3 1414.9h0M1392.0 1459.0h0M1453.7 1463.9h0M1416.3 1498.4h0M1391.8 1482.5h0M1442.8 1488.9h0M1413.0 1497.0h0M1381.1 1467.1h0M1710.8 1577.1h0M1369.0 1450.6h0M1360.6 1462.8h0M1372.7 1463.6h0M1393.9 1414.1h0M1364.1 1413.1h0M1372.1 1458.7h0M1365.8 1436.0h0M1449.2 1495.9h0M1454.5 1437.6h0M1423.7 1513.3h0M1461.5 1453.5h0M1382.3 1419.9h0M1417.9 1484.3h0M1487.8 1437.6h0M1602.3 1562.7h0M1507.3 1546.3h0M1497.3 1458.2h0M1409.0 1479.1h0M1398.0 1413.1h0M1379.9 1488.9h0M1437.1 1418.8h0M1417.5 1448.0h0M1364.6 1420.9h0M1596.7 1544.1h0M1380.7 1465.2h0M1412.0 1496.6h0M1570.0 1421.5h0M1394.0 1448.5h0M1491.6 1495.8h0M1366.6 1476.0h0M1401.8 1451.9h0M1478.4 1502.8h0M1455.2 1428.5h0M1394.8 1413.1h0M1371.6 1491.8h0M1540.2 1545.0h0M1428.9 1485.3h0M1471.0 1477.3h0M1431.1 1446.8h0M1383.2 1433.9h0M1467.8 1431.8h0M1421.1 1512.9h0M1365.3 1456.1h0M1412.1 1504.7h0M1444.1 1460.8h0M1423.9 1422.6h0M1573.7 1447.3h0M1364.6 1473.0h0M1435.4 1501.5h0M1446.4 1491.5h0M1360.3 1447.2h0M1707.6 1447.2h0M1494.8 1506.8h0M1656.6 1449.9h0M1486.9 1517.5h0M1439.0 1428.7h0M1523.0 1533.5h0M1521.5 1434.7h0M1700.2 1529.5h0M1403.1 1465.4h0M1536.5 1509.2h0M1413.2 1451.4h0M1614.2 1532.6h0M1387.7 1476.9h0M1514.8 1427.6h0M1691.8 1510.3h0M1362.8 1424.9h0M1369.9 1486.7h0M1370.9 1441.4h0M1362.5 1462.2h0M1479.7 1425.9h0M1425.6 1423.4h0M1442.4 1507.0h0M1429.6 1419.4h0M1491.9 1465.2h0M1408.6 1465.4h0M1466.4 1481.6h0M1484.0 1499.7h0M1577.3 1520.5h0M1635.3 1416.9h0M1419.8 1430.6h0M1381.7 1489.3h0M1470.1 1425.0h0M1387.4 1491.8h0M1605.7 1463.5h0M1555.0 1477.7h0M1379.8 1481.4h0M1363.4 1436.8h0M1416.2 1430.1h0M1415.5 1456.9h0M1443.4 1438.8h0M1373.8 1456.7h0M1369.5 1439.0h0M1501.3 1466.6h0M1441.2 1451.9h0M1481.3 1483.9h0M1609.2 1540.6h0M1467.5 1436.5h0M1579.8 1447.2h0M1518.1 1488.2h0M1429.5 1441.8h0M1421.8 1463.7h0M1455.6 1482.8h0M1621.7 1447.2h0M1517.6 1536.1h0M1395.0 1422.1h0M1468.8 1487.0h0M1372.3 1496.2h0M1376.9 1479.2h0M1386.7 1475.0h0M1724.8 1447.3h0M1401.7 1417.5h0M1446.8 1522.6h0M1501.5 1472.4h0M1438.7 1478.5h0M1448.9 1491.1h0M1426.9 1466.5h0M1393.3 1459.2h0M1633.0 1447.7h0M1388.7 1449.2h0M1375.0 1430.6h0M1435.9 1534.8h0M1386.2 1471.6h0M1401.4 1489.4h0M1563.5 1438.5h0M1409.9 1459.4h0M1624.4 1453.3h0M1373.7 1479.2h0M1378.2 1451.5h0M1458.1 1427.7h0M1394.1 1428.9h0M1427.1 1496.7h0M1553.7 1472.1h0M1506.2 1495.9h0M1649.9 1589.4h0M1458.7 1488.1h0M1399.0 1438.1h0M1403.9 1483.3h0M1405.2 1442.6h0M1480.3 1454.7h0M1581.1 1491.3h0M1400.0 1450.5h0M1488.7 1514.3h0M1430.3 1499.9h0M1478.8 1486.8h0M1572.4 1486.7h0M1471.4 1434.5h0M1384.5 1462.0h0M1389.8 1440.3h0M1415.9 1446.5h0M1533.4 1415.6h0M1413.9 1464.7h0M1564.8 1563.2h0M1396.2 1483.7h0M1410.8 1425.6h0M1500.6 1417.0h0M1445.9 1441.8h0M1390.5 1413.1h0M1485.0 1495.4h0M1428.4 1446.1h0M1385.3 1480.3h0M1417.0 1480.8h0M1360.7 1473.0h0M1541.3 1510.5h0M1494.4 1447.1h0M1375.3 1490.6h0M1372.5 1456.7h0M1418.2 1459.8h0M1400.8 1446.8h0M1370.9 1488.1h0M1461.9 1446.7h0M1673.8 1497.8h0M1571.6 1459.6h0M1500.8 1426.3h0M1521.8 1438.6h0M1405.0 1483.6h0M1628.2 1480.1h0M1512.7 1432.1h0M1539.6 1504.9h0M1682.8 1588.9h0M1414.5 1421.4h0M1412.3 1441.0h0M1420.2 1509.5h0M1483.9 1450.3h0M1377.5 1429.0h0M1376.7 1483.9h0M1376.6 1433.9h0M1399.9 1480.4h0M1535.1 1530.0h0M1450.1 1444.6h0M1512.8 1420.3h0M1456.3 1446.0h0M1414.0 1446.5h0M1453.1 1480.0h0M1396.4 1439.2h0M1540.1 1514.8h0M1612.3 1575.5h0M1518.3 1447.2h0M1439.5 1479.6h0M1395.2 1464.6h0M1597.5 1547.0h0M1628.8 1555.5h0M1493.5 1469.9h0M1433.1 1414.3h0M1361.9 1492.1h0M1476.1 1448.1h0M1420.0 1457.7h0M1456.7 1515.4h0M1453.8 1475.3h0M1475.2 1448.6h0M1418.6 1499.4h0M1379.0 1503.9h0M1529.0 1506.8h0M1550.6 1422.6h0M1506.0 1473.0h0M1559.7 1510.0h0M1394.6 1445.0h0M1437.1 1447.1h0M1418.5 1481.4h0M1657.6 1445.7h0M1493.5 1463.9h0M1586.2 1513.9h0M1424.4 1472.3h0M1564.0 1523.5h0M1445.0 1413.1h0M1679.7 1573.3h0M1368.4 1454.9h0M1389.2 1464.9h0M1562.6 1510.0h0M1373.4 1418.4h0M1437.9 1501.0h0M1631.1 1502.6h0M1426.1 1470.6h0M1532.3 1520.3h0M1449.7 1539.3h0M1520.3 1496.4h0M1396.7 1496.5h0M1418.9 1527.6h0M1459.6 1419.5h0M1386.3 1500.7h0M1640.9 1519.0h0M1388.3 1417.8h0M1512.0 1439.1h0M1474.2 1467.3h0M1549.5 1468.6h0M1450.6 1519.1h0M1463.1 1413.6h0M1630.3 1507.0h0M1420.6 1448.6h0M1626.8 1518.1h0M1409.3 1469.5h0M1383.3 1418.5h0M1384.9 1456.4h0M1547.3 1483.3h0M1672.0 1426.7h0M1553.3 1516.5h0M1388.5 1435.7h0M1481.8 1449.5h0M1526.2 1510.4h0M1477.6 1430.2h0M1611.4 1438.4h0M1445.5 1417.2h0M1375.6 1416.0h0M1465.5 1419.7h0M1377.3 1413.2h0M1566.4 1534.1h0M1447.4 1481.6h0M1379.4 1416.6h0M1361.3 1438.0h0M1654.1 1545.6h0M1495.7 1454.2h0M1578.8 1454.5h0M1387.2 1484.6h0M1403.8 1422.5h0M1366.5 1464.0h0M1550.8 1418.9h0M1451.6 1500.0h0M1473.7 1495.5h0M1410.3 1455.5h0M1538.2 1562.1h0M1419.4 1456.4h0M1642.4 1539.7h0M1495.5 1497.3h0M1386.5 1484.6h0M1488.2 1499.8h0M1423.6 1484.0h0M1480.9 1490.7h0M1430.6 1496.4h0M1433.9 1486.3h0M1381.0 1422.5h0M1544.1 1414.4h0M1490.1 1524.5h0M1613.4 1538.8h0M1703.9 1519.8h0M1483.1 1494.3h0M1454.1 1492.5h0M1585.7 1513.1h0M1414.1 1427.1h0M1435.0 1484.7h0M1474.8 1493.9h0M1382.6 1494.4h0M1369.6 1425.5h0M1702.0 1486.4h0M1400.5 1509.6h0M1391.5 1479.0h0M1473.0 1450.4h0M1371.5 1478.9h0M1387.8 1474.7h0M1685.9 1536.7h0M1509.0 1456.8h0M1637.8 1415.6h0M1662.8 1541.4h0M1415.2 1454.9h0M1480.1 1433.7h0M1432.7 1533.0h0M1411.1 1460.0h0M1405.6 1468.2h0M1393.0 1502.8h0M1595.2 1516.5h0M1385.9 1484.7h0M1431.4 1417.4h0M1591.6 1460.4h0M1407.4 1491.9h0M1443.5 1466.2h0M1685.9 1430.1h0M1420.9 1462.0h0M1677.8 1456.6h0M1463.4 1438.6h0M1540.9 1421.3h0M1694.0 1576.7h0M1396.3 1424.1h0M1460.7 1460.1h0M1391.1 1428.1h0M1561.9 1539.4h0M1361.1 1430.4h0M1440.9 1419.9h0M1471.9 1493.8h0M1465.0 1418.0h0M1515.4 1558.3h0M1463.7 1475.2h0M1556.0 1516.1h0M1370.0 1451.1h0M1721.1 1496.2h0M1511.1 1499.5h0M1367.1 1472.0h0M1522.2 1416.7h0M1464.1 1511.3h0M1432.8 1485.9h0M1374.7 1441.1h0M1373.9 1455.2h0M1390.0 1416.4h0M1463.8 1459.7h0M1428.2 1473.4h0M1407.6 1474.4h0M1361.4 1414.1h0M1412.7 1472.0h0M1542.4 1475.6h0M1376.3 1466.7h0M1544.6 1464.8h0M1500.0 1470.0h0M1414.7 1434.5h0M1380.2 1477.1h0M1475.1 1497.5h0M1382.4 1451.7h0M1537.5 1469.4h0M1477.6 1478.1h0M1388.4 1419.5h0M1406.7 1459.6h0M1457.0 1453.1h0M1598.4 1514.8h0M1375.2 1440.3h0M1582.9 1513.6h0M1647.3 1568.6h0M1367.4 1431.1h0M1423.4 1486.3h0M1406.5 1494.1h0M1635.9 1415.6h0M1622.9 1417.1h0M1468.2 1518.3h0M1376.1 1471.4h0M1505.4 1476.7h0M1486.0 1426.9h0M1398.4 1457.4h0M1424.9 1500.7h0M1645.3 1443.5h0M1384.1 1493.0h0M1443.8 1461.1h0M1587.1 1442.3h0M1370.4 1423.9h0M1368.1 1495.2h0M1428.6 1508.5h0M1380.5 1470.0h0M1385.8 1421.7h0M1423.0 1481.3h0M1445.4 1442.9h0M1374.6 1487.5h0M1429.2 1413.1h0M1366.1 1455.2h0M1365.5 1432.0h0M1485.1 1475.0h0M1402.9 1433.3h0M1422.5 1483.3h0M1655.9 1567.9h0M1362.0 1453.2h0M1381.3 1468.4h0M1367.4 1454.0h0M1498.0 1464.7h0M1436.8 1438.5h0M1390.3 1501.2h0M1411.7 1519.0h0M1371.4 1440.0h0M1426.5 1505.1h0M1384.5 1470.3h0M1385.3 1487.2h0M1472.5 1436.2h0M1587.6 1414.2h0M1558.2 1448.4h0M1436.3 1517.0h0M1510.1 1528.0h0M1514.2 1444.3h0M1487.2 1505.5h0M1698.3 1559.7h0M1408.8 1505.5h0M1372.8 1443.6h0M1472.3 1430.7h0M1664.2 1425.0h0M1364.4 1500.1h0M1362.1 1421.2h0M1381.6 1458.9h0M1379.7 1413.1h0M1658.8 1413.1h0M1668.0 1431.6h0M1438.1 1418.1h0M1390.2 1453.1h0M1459.6 1467.3h0M1366.0 1501.4h0M1603.5 1425.3h0M1368.5 1469.5h0M1443.0 1424.6h0M1403.7 1430.6h0M1470.7 1418.8h0M1387.6 1490.6h0M1383.8 1447.9h0M1695.5 1498.0h0M1507.2 1465.2h0M1372.9 1443.6h0M1402.7 1468.2h0M1417.7 1421.5h0M1365.2 1494.2h0M1399.4 1460.3h0M1537.1 1428.8h0M1610.1 1557.5h0M1380.2 1424.3h0M1464.5 1446.8h0M1760.8 1415.8h0M1746.1 1426.3h0M1740.8 1432.6h0M1742.9 1434.7h0M1903.7 1426.9h0M1898.1 1445.5h0M1773.2 1445.3h0M1804.4 1446.7h0M1848.6 1445.1h0M1736.6 1450.5h0M1739.7 1453.1h0M1751.7 1456.6h0M1837.2 1451.2h0M1826.5 1460.0h0M1844.2 1458.9h0M1738.1 1463.2h0M1772.4 1468.4h0M1819.5 1470.7h0M2020.8 1470.9h0M1796.6 1478.3h0M1838.9 1479.8h0M1764.6 1480.8h0M1734.9 1485.5h0M1981.2 1494.9h0M1766.9 1500.0h0M1790.3 1504.0h0M1737.8 1506.3h0M1843.7 1509.7h0M2043.9 1519.2h0M1823.7 1525.1h0M1812.4 1531.6h0M1806.1 1538.9h0M1784.6 1540.6h0M1781.4 1546.9h0M1768.4 1545.3h0M1761.4 1550.5h0M1770.9 1556.8h0M1829.0 1547.8h0M1836.8 1552.6h0M1867.3 1550.9h0M1949.8 1555.8h0M1759.3 1565.9h0M1771.9 1567.4h0M1728.2 1574.3h0M1730.7 1573.9h0M1973.4 1566.5h0M1994.3 1582.1h0M1762.9 1589.9h0M1787.1 1588.4h0M1805.2 1593.7h0M1814.7 1589.5h0M1737.6 1598.9h0M1771.9 1601.1h0M1772.4 1605.9h0M1830.9 1599.6h0M1859.5 1602.9h0M1871.3 1597.1h0M1825.2 1616.8h0M1870.3 1620.0h0M1900.4 1615.2h0M1923.3 1616.8h0M1853.8 1627.2h0M1923.5 1628.8h0M1874.1 1640.2h0M1998.3 1634.1h0M2009.8 1639.2h0M1957.6 1648.4h0M1961.8 1647.4h0M1892.8 1660.0h0M2121.6 1634.9h0M2015.7 1680.2h0" stroke="#728386" stroke-width="7.4" stroke-linecap="round" fill="none"/><line x1="1356.9" y1="1375.5" x2="2129.7" y2="1222.5" stroke="#dc4f1e" stroke-width="5.2"/><line x1="1356.9" y1="1448.6" x2="2124.2" y2="1584.9" stroke="#2cc940" stroke-width="5.2"/><path d="M1321.1 1057.2V1710.1H2170.0" stroke="#111418" stroke-width="2.2" fill="none" stroke-linecap="square"/><path d="M1321.1 1097.4h-10M1321.1 1175.9h-10M1321.1 1254.5h-10M1321.1 1333.0h-10M1321.1 1411.5h-10M1321.1 1490.0h-10M1321.1 1568.5h-10M1321.1 1647.1h-10M1323.2 1710.1v10M1439.2 1710.1v10M1555.2 1710.1v10M1671.2 1710.1v10M1787.2 1710.1v10M1903.2 1710.1v10M2019.2 1710.1v10M2135.2 1710.1v10" stroke="#111418" stroke-width="2" fill="none"/><text class="dv" x="1301.1" y="1109.4" font-size="29.3" text-anchor="end" fill="#111418">0.8</text><text class="dv" x="1301.1" y="1187.9" font-size="29.3" text-anchor="end" fill="#111418">0.6</text><text class="dv" x="1301.1" y="1266.5" font-size="29.3" text-anchor="end" fill="#111418">0.4</text><text class="dv" x="1301.1" y="1345.0" font-size="29.3" text-anchor="end" fill="#111418">0.2</text><text class="dv" x="1301.1" y="1423.5" font-size="29.3" text-anchor="end" fill="#111418">0.0</text><text class="dv" x="1301.1" y="1502.0" font-size="29.3" text-anchor="end" fill="#111418">−0.2</text><text class="dv" x="1301.1" y="1580.5" font-size="29.3" text-anchor="end" fill="#111418">−0.4</text><text class="dv" x="1301.1" y="1659.1" font-size="29.3" text-anchor="end" fill="#111418">−0.6</text><text class="dv" font-size="29.3" text-anchor="middle" fill="#111418" transform="translate(1321.9 1754.7) rotate(-45)" y="10.7">0.2</text><text class="dv" font-size="29.3" text-anchor="middle" fill="#111418" transform="translate(1437.9 1754.7) rotate(-45)" y="10.7">0.3</text><text class="dv" font-size="29.3" text-anchor="middle" fill="#111418" transform="translate(1553.9 1754.7) rotate(-45)" y="10.7">0.4</text><text class="dv" font-size="29.3" text-anchor="middle" fill="#111418" transform="translate(1669.9 1754.7) rotate(-45)" y="10.7">0.5</text><text class="dv" font-size="29.3" text-anchor="middle" fill="#111418" transform="translate(1785.9 1754.7) rotate(-45)" y="10.7">0.6</text><text class="dv" font-size="29.3" text-anchor="middle" fill="#111418" transform="translate(1901.9 1754.7) rotate(-45)" y="10.7">0.7</text><text class="dv" font-size="29.3" text-anchor="middle" fill="#111418" transform="translate(2017.9 1754.7) rotate(-45)" y="10.7">0.8</text><text class="dv" font-size="29.3" text-anchor="middle" fill="#111418" transform="translate(2133.9 1754.7) rotate(-45)" y="10.7">0.9</text><text class="dv" x="1366.3" y="1087.7" font-size="29.1" fill="#d4552a">Pearson 0.573</text><text class="dv" x="1366.5" y="1679.9" font-size="29.1" fill="#34c04f">Pearson -0.528</text><text class="ls" x="1644.6" y="1022.6" font-size="44.8" fill="#111418" textLength="151.8" lengthAdjust="spacingAndGlyphs">Xpresso</text><text class="ls" font-size="30.5" fill="#111418" transform="translate(1214.0 1641.0) rotate(-90)" textLength="514.8" lengthAdjust="spacingAndGlyphs">Xpresso cross-individual correlation</text><text class="ls" x="1531.4" y="1820.5" font-size="33.7" fill="#111418" textLength="399.6" lengthAdjust="spacingAndGlyphs">Top eQTL effect size |rvalue|</text><text class="ls" x="1121.7" y="1022.8" font-size="58" font-weight="bold" fill="#000">d</text></g>
</svg></body></html>
